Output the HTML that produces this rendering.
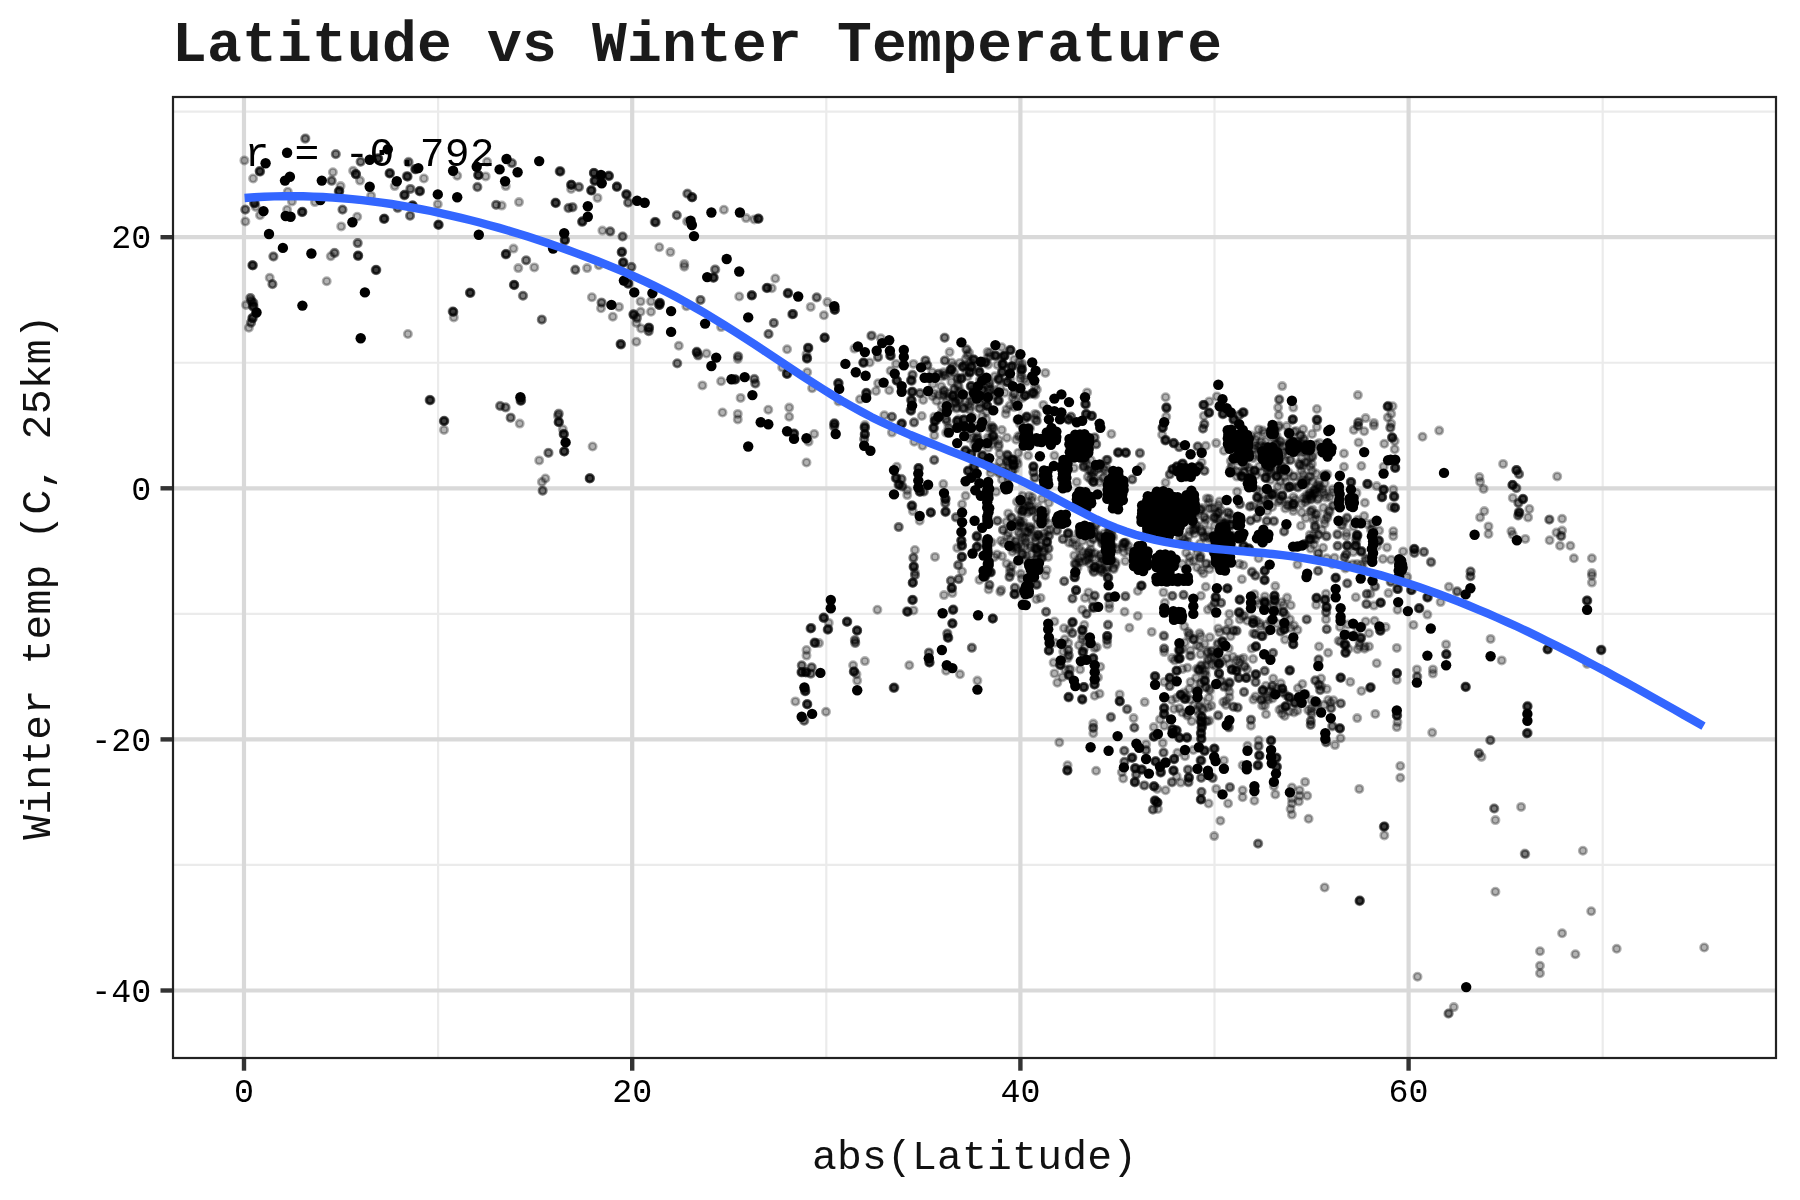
<!DOCTYPE html><html><head><meta charset="utf-8"><style>html,body{margin:0;padding:0;background:#fff;width:1800px;height:1200px;overflow:hidden}svg{display:block}text{font-family:"Liberation Mono",monospace;filter:grayscale(1)}</style></head><body>
<svg width="1800" height="1200" viewBox="0 0 1800 1200">
<rect x="0" y="0" width="1800" height="1200" fill="#fff"/>
<defs><clipPath id="pc"><rect x="172" y="96" width="1605" height="963"/></clipPath></defs>
<g clip-path="url(#pc)">
<line x1="438.10" y1="96" x2="438.10" y2="1059" stroke="#ebebeb" stroke-width="2.2"/>
<line x1="826.30" y1="96" x2="826.30" y2="1059" stroke="#ebebeb" stroke-width="2.2"/>
<line x1="1214.50" y1="96" x2="1214.50" y2="1059" stroke="#ebebeb" stroke-width="2.2"/>
<line x1="1602.70" y1="96" x2="1602.70" y2="1059" stroke="#ebebeb" stroke-width="2.2"/>
<line x1="172" y1="111.65" x2="1777" y2="111.65" stroke="#ebebeb" stroke-width="2.2"/>
<line x1="172" y1="362.75" x2="1777" y2="362.75" stroke="#ebebeb" stroke-width="2.2"/>
<line x1="172" y1="613.85" x2="1777" y2="613.85" stroke="#ebebeb" stroke-width="2.2"/>
<line x1="172" y1="864.95" x2="1777" y2="864.95" stroke="#ebebeb" stroke-width="2.2"/>
<line x1="244.00" y1="96" x2="244.00" y2="1059" stroke="#d9d9d9" stroke-width="4.2"/>
<line x1="632.20" y1="96" x2="632.20" y2="1059" stroke="#d9d9d9" stroke-width="4.2"/>
<line x1="1020.40" y1="96" x2="1020.40" y2="1059" stroke="#d9d9d9" stroke-width="4.2"/>
<line x1="1408.60" y1="96" x2="1408.60" y2="1059" stroke="#d9d9d9" stroke-width="4.2"/>
<line x1="172" y1="237.20" x2="1777" y2="237.20" stroke="#d9d9d9" stroke-width="4.2"/>
<line x1="172" y1="488.30" x2="1777" y2="488.30" stroke="#d9d9d9" stroke-width="4.2"/>
<line x1="172" y1="739.40" x2="1777" y2="739.40" stroke="#d9d9d9" stroke-width="4.2"/>
<line x1="172" y1="990.50" x2="1777" y2="990.50" stroke="#d9d9d9" stroke-width="4.2"/>
<text x="244.5" y="166.3" font-size="41.3" letter-spacing="0.24" fill="#000">r = -0.792</text>
<g fill="#000" fill-opacity="0.3" stroke="#000" stroke-opacity="0.3" stroke-width="2.6">
<circle cx="965.6" cy="365.1" r="3.7"/>
<circle cx="1001.6" cy="357.2" r="3.7"/>
<circle cx="988.9" cy="386.6" r="3.7"/>
<circle cx="936.4" cy="400.7" r="3.7"/>
<circle cx="934.1" cy="393.4" r="3.7"/>
<circle cx="976.7" cy="432.7" r="3.7"/>
<circle cx="943.6" cy="372.3" r="3.7"/>
<circle cx="999.0" cy="444.8" r="3.7"/>
<circle cx="993.5" cy="389.7" r="3.7"/>
<circle cx="1024.4" cy="379.0" r="3.7"/>
<circle cx="963.9" cy="431.6" r="3.7"/>
<circle cx="949.9" cy="408.2" r="3.7"/>
<circle cx="1000.3" cy="387.2" r="3.7"/>
<circle cx="990.3" cy="356.3" r="3.7"/>
<circle cx="1004.8" cy="392.8" r="3.7"/>
<circle cx="964.6" cy="408.6" r="3.7"/>
<circle cx="979.9" cy="380.0" r="3.7"/>
<circle cx="1017.4" cy="419.9" r="3.7"/>
<circle cx="956.9" cy="407.4" r="3.7"/>
<circle cx="987.8" cy="437.5" r="3.7"/>
<circle cx="1010.2" cy="378.8" r="3.7"/>
<circle cx="976.0" cy="425.7" r="3.7"/>
<circle cx="946.7" cy="398.9" r="3.7"/>
<circle cx="934.3" cy="416.8" r="3.7"/>
<circle cx="1014.1" cy="407.3" r="3.7"/>
<circle cx="1026.3" cy="381.4" r="3.7"/>
<circle cx="1006.5" cy="409.4" r="3.7"/>
<circle cx="993.8" cy="395.6" r="3.7"/>
<circle cx="982.2" cy="416.4" r="3.7"/>
<circle cx="936.7" cy="420.1" r="3.7"/>
<circle cx="1020.4" cy="378.5" r="3.7"/>
<circle cx="972.4" cy="416.9" r="3.7"/>
<circle cx="932.5" cy="396.2" r="3.7"/>
<circle cx="944.2" cy="374.8" r="3.7"/>
<circle cx="973.0" cy="437.1" r="3.7"/>
<circle cx="938.9" cy="394.9" r="3.7"/>
<circle cx="990.4" cy="438.3" r="3.7"/>
<circle cx="1020.1" cy="436.4" r="3.7"/>
<circle cx="960.6" cy="391.5" r="3.7"/>
<circle cx="969.5" cy="438.4" r="3.7"/>
<circle cx="949.4" cy="373.2" r="3.7"/>
<circle cx="955.7" cy="398.5" r="3.7"/>
<circle cx="994.8" cy="376.3" r="3.7"/>
<circle cx="970.6" cy="406.6" r="3.7"/>
<circle cx="1034.8" cy="419.0" r="3.7"/>
<circle cx="986.7" cy="411.8" r="3.7"/>
<circle cx="1004.4" cy="355.4" r="3.7"/>
<circle cx="1028.9" cy="428.0" r="3.7"/>
<circle cx="1026.2" cy="429.8" r="3.7"/>
<circle cx="973.2" cy="389.9" r="3.7"/>
<circle cx="941.4" cy="413.4" r="3.7"/>
<circle cx="953.0" cy="366.2" r="3.7"/>
<circle cx="967.4" cy="355.3" r="3.7"/>
<circle cx="941.2" cy="386.4" r="3.7"/>
<circle cx="997.5" cy="364.9" r="3.7"/>
<circle cx="957.7" cy="384.7" r="3.7"/>
<circle cx="970.1" cy="362.3" r="3.7"/>
<circle cx="981.3" cy="398.4" r="3.7"/>
<circle cx="967.7" cy="376.5" r="3.7"/>
<circle cx="1021.2" cy="366.1" r="3.7"/>
<circle cx="988.1" cy="364.7" r="3.7"/>
<circle cx="989.7" cy="352.7" r="3.7"/>
<circle cx="988.1" cy="447.9" r="3.7"/>
<circle cx="1025.0" cy="419.6" r="3.7"/>
<circle cx="958.7" cy="386.7" r="3.7"/>
<circle cx="948.4" cy="427.2" r="3.7"/>
<circle cx="988.6" cy="427.9" r="3.7"/>
<circle cx="966.3" cy="372.3" r="3.7"/>
<circle cx="1023.8" cy="430.6" r="3.7"/>
<circle cx="1020.0" cy="424.0" r="3.7"/>
<circle cx="954.9" cy="401.8" r="3.7"/>
<circle cx="969.1" cy="352.9" r="3.7"/>
<circle cx="958.5" cy="419.3" r="3.7"/>
<circle cx="1035.2" cy="394.7" r="3.7"/>
<circle cx="1035.1" cy="386.5" r="3.7"/>
<circle cx="954.3" cy="372.7" r="3.7"/>
<circle cx="951.6" cy="370.4" r="3.7"/>
<circle cx="998.6" cy="440.0" r="3.7"/>
<circle cx="1022.4" cy="397.9" r="3.7"/>
<circle cx="1001.8" cy="430.0" r="3.7"/>
<circle cx="939.3" cy="416.1" r="3.7"/>
<circle cx="1030.1" cy="428.2" r="3.7"/>
<circle cx="1012.5" cy="397.8" r="3.7"/>
<circle cx="949.6" cy="428.9" r="3.7"/>
<circle cx="966.6" cy="430.1" r="3.7"/>
<circle cx="1036.9" cy="389.6" r="3.7"/>
<circle cx="974.2" cy="444.7" r="3.7"/>
<circle cx="1009.7" cy="367.0" r="3.7"/>
<circle cx="946.1" cy="432.7" r="3.7"/>
<circle cx="968.5" cy="404.9" r="3.7"/>
<circle cx="1036.8" cy="415.0" r="3.7"/>
<circle cx="987.9" cy="443.4" r="3.7"/>
<circle cx="977.7" cy="437.2" r="3.7"/>
<circle cx="1020.9" cy="371.1" r="3.7"/>
<circle cx="957.7" cy="379.3" r="3.7"/>
<circle cx="956.5" cy="408.6" r="3.7"/>
<circle cx="958.5" cy="391.9" r="3.7"/>
<circle cx="968.9" cy="395.8" r="3.7"/>
<circle cx="994.2" cy="440.4" r="3.7"/>
<circle cx="976.3" cy="441.8" r="3.7"/>
<circle cx="985.2" cy="403.2" r="3.7"/>
<circle cx="987.6" cy="351.9" r="3.7"/>
<circle cx="978.4" cy="368.3" r="3.7"/>
<circle cx="949.0" cy="397.3" r="3.7"/>
<circle cx="1009.8" cy="405.6" r="3.7"/>
<circle cx="965.9" cy="401.8" r="3.7"/>
<circle cx="991.1" cy="428.4" r="3.7"/>
<circle cx="941.7" cy="406.0" r="3.7"/>
<circle cx="957.3" cy="377.7" r="3.7"/>
<circle cx="1014.9" cy="400.8" r="3.7"/>
<circle cx="991.8" cy="426.0" r="3.7"/>
<circle cx="1030.4" cy="394.3" r="3.7"/>
<circle cx="997.4" cy="400.6" r="3.7"/>
<circle cx="986.3" cy="419.3" r="3.7"/>
<circle cx="979.8" cy="403.3" r="3.7"/>
<circle cx="982.6" cy="444.2" r="3.7"/>
<circle cx="1006.9" cy="437.7" r="3.7"/>
<circle cx="991.5" cy="444.3" r="3.7"/>
<circle cx="1022.4" cy="363.7" r="3.7"/>
<circle cx="943.4" cy="394.2" r="3.7"/>
<circle cx="938.0" cy="374.1" r="3.7"/>
<circle cx="938.0" cy="416.9" r="3.7"/>
<circle cx="1016.2" cy="439.7" r="3.7"/>
<circle cx="947.0" cy="421.6" r="3.7"/>
<circle cx="1002.6" cy="364.3" r="3.7"/>
<circle cx="973.8" cy="398.7" r="3.7"/>
<circle cx="947.8" cy="393.2" r="3.7"/>
<circle cx="986.7" cy="383.9" r="3.7"/>
<circle cx="951.5" cy="381.9" r="3.7"/>
<circle cx="990.9" cy="394.0" r="3.7"/>
<circle cx="998.6" cy="401.2" r="3.7"/>
<circle cx="941.5" cy="376.6" r="3.7"/>
<circle cx="959.7" cy="363.0" r="3.7"/>
<circle cx="1272.2" cy="507.0" r="3.7"/>
<circle cx="1311.9" cy="448.3" r="3.7"/>
<circle cx="1287.1" cy="488.0" r="3.7"/>
<circle cx="1298.8" cy="463.3" r="3.7"/>
<circle cx="1293.4" cy="497.1" r="3.7"/>
<circle cx="1275.4" cy="455.5" r="3.7"/>
<circle cx="1285.3" cy="508.4" r="3.7"/>
<circle cx="1256.8" cy="436.6" r="3.7"/>
<circle cx="1282.7" cy="446.5" r="3.7"/>
<circle cx="1261.2" cy="452.5" r="3.7"/>
<circle cx="1305.9" cy="451.1" r="3.7"/>
<circle cx="1280.0" cy="441.0" r="3.7"/>
<circle cx="1303.3" cy="474.6" r="3.7"/>
<circle cx="1248.9" cy="467.7" r="3.7"/>
<circle cx="1311.9" cy="463.9" r="3.7"/>
<circle cx="1279.5" cy="500.1" r="3.7"/>
<circle cx="1269.3" cy="470.6" r="3.7"/>
<circle cx="1264.3" cy="499.9" r="3.7"/>
<circle cx="1300.7" cy="482.2" r="3.7"/>
<circle cx="1270.5" cy="456.3" r="3.7"/>
<circle cx="1237.1" cy="491.7" r="3.7"/>
<circle cx="1255.6" cy="439.7" r="3.7"/>
<circle cx="1317.1" cy="485.3" r="3.7"/>
<circle cx="1258.2" cy="446.8" r="3.7"/>
<circle cx="1259.3" cy="466.4" r="3.7"/>
<circle cx="1245.8" cy="465.1" r="3.7"/>
<circle cx="1327.3" cy="474.2" r="3.7"/>
<circle cx="1261.0" cy="457.1" r="3.7"/>
<circle cx="1277.5" cy="470.2" r="3.7"/>
<circle cx="1250.1" cy="470.4" r="3.7"/>
<circle cx="1239.0" cy="461.0" r="3.7"/>
<circle cx="1260.4" cy="446.0" r="3.7"/>
<circle cx="1288.6" cy="472.6" r="3.7"/>
<circle cx="1305.1" cy="484.2" r="3.7"/>
<circle cx="1301.6" cy="504.1" r="3.7"/>
<circle cx="1269.0" cy="454.4" r="3.7"/>
<circle cx="1302.4" cy="482.9" r="3.7"/>
<circle cx="1319.2" cy="481.5" r="3.7"/>
<circle cx="1303.4" cy="498.1" r="3.7"/>
<circle cx="1243.9" cy="472.1" r="3.7"/>
<circle cx="1280.4" cy="500.1" r="3.7"/>
<circle cx="1310.5" cy="499.4" r="3.7"/>
<circle cx="1288.4" cy="505.4" r="3.7"/>
<circle cx="1298.3" cy="487.4" r="3.7"/>
<circle cx="1243.3" cy="457.5" r="3.7"/>
<circle cx="1285.9" cy="481.5" r="3.7"/>
<circle cx="1292.6" cy="486.3" r="3.7"/>
<circle cx="1278.9" cy="425.3" r="3.7"/>
<circle cx="1309.8" cy="492.3" r="3.7"/>
<circle cx="1280.3" cy="473.2" r="3.7"/>
<circle cx="1295.9" cy="430.9" r="3.7"/>
<circle cx="1303.7" cy="447.7" r="3.7"/>
<circle cx="1237.4" cy="448.9" r="3.7"/>
<circle cx="1302.9" cy="443.5" r="3.7"/>
<circle cx="1279.4" cy="459.4" r="3.7"/>
<circle cx="1277.9" cy="486.5" r="3.7"/>
<circle cx="1306.7" cy="480.5" r="3.7"/>
<circle cx="1294.3" cy="432.0" r="3.7"/>
<circle cx="1244.7" cy="447.9" r="3.7"/>
<circle cx="1304.3" cy="452.4" r="3.7"/>
<circle cx="1286.8" cy="426.1" r="3.7"/>
<circle cx="1236.1" cy="449.2" r="3.7"/>
<circle cx="1297.2" cy="487.3" r="3.7"/>
<circle cx="1297.6" cy="451.2" r="3.7"/>
<circle cx="1281.7" cy="466.8" r="3.7"/>
<circle cx="1276.6" cy="435.7" r="3.7"/>
<circle cx="1319.4" cy="442.9" r="3.7"/>
<circle cx="1231.8" cy="466.3" r="3.7"/>
<circle cx="1274.9" cy="449.2" r="3.7"/>
<circle cx="1251.1" cy="477.3" r="3.7"/>
<circle cx="1244.2" cy="472.2" r="3.7"/>
<circle cx="1312.0" cy="470.8" r="3.7"/>
<circle cx="1318.7" cy="488.3" r="3.7"/>
<circle cx="1253.1" cy="505.8" r="3.7"/>
<circle cx="1278.6" cy="427.2" r="3.7"/>
<circle cx="1230.4" cy="469.3" r="3.7"/>
<circle cx="1275.1" cy="452.2" r="3.7"/>
<circle cx="1244.1" cy="456.0" r="3.7"/>
<circle cx="1261.6" cy="500.6" r="3.7"/>
<circle cx="1322.6" cy="489.2" r="3.7"/>
<circle cx="1320.2" cy="451.1" r="3.7"/>
<circle cx="1267.2" cy="460.4" r="3.7"/>
<circle cx="1266.1" cy="463.5" r="3.7"/>
<circle cx="1258.6" cy="509.2" r="3.7"/>
<circle cx="1254.9" cy="448.9" r="3.7"/>
<circle cx="1281.1" cy="442.1" r="3.7"/>
<circle cx="1267.3" cy="511.1" r="3.7"/>
<circle cx="1318.4" cy="498.1" r="3.7"/>
<circle cx="1293.1" cy="507.2" r="3.7"/>
<circle cx="1324.1" cy="474.4" r="3.7"/>
<circle cx="1303.2" cy="465.6" r="3.7"/>
<circle cx="1305.3" cy="483.0" r="3.7"/>
<circle cx="1258.6" cy="429.4" r="3.7"/>
<circle cx="1277.2" cy="455.9" r="3.7"/>
<circle cx="1259.8" cy="491.5" r="3.7"/>
<circle cx="1295.6" cy="452.1" r="3.7"/>
<circle cx="1285.7" cy="460.5" r="3.7"/>
<circle cx="1246.7" cy="439.5" r="3.7"/>
<circle cx="1279.7" cy="444.8" r="3.7"/>
<circle cx="1275.0" cy="437.6" r="3.7"/>
<circle cx="1264.2" cy="433.2" r="3.7"/>
<circle cx="1253.9" cy="448.3" r="3.7"/>
<circle cx="1287.0" cy="504.9" r="3.7"/>
<circle cx="1305.0" cy="462.2" r="3.7"/>
<circle cx="1271.4" cy="472.2" r="3.7"/>
<circle cx="1267.7" cy="455.4" r="3.7"/>
<circle cx="1236.2" cy="450.0" r="3.7"/>
<circle cx="1280.3" cy="481.7" r="3.7"/>
<circle cx="1316.3" cy="444.4" r="3.7"/>
<circle cx="991.7" cy="542.4" r="3.7"/>
<circle cx="1002.0" cy="556.2" r="3.7"/>
<circle cx="1041.7" cy="558.1" r="3.7"/>
<circle cx="1001.3" cy="589.9" r="3.7"/>
<circle cx="1036.0" cy="584.9" r="3.7"/>
<circle cx="1011.8" cy="572.7" r="3.7"/>
<circle cx="1045.3" cy="575.5" r="3.7"/>
<circle cx="1021.8" cy="578.5" r="3.7"/>
<circle cx="1006.6" cy="563.6" r="3.7"/>
<circle cx="988.6" cy="589.4" r="3.7"/>
<circle cx="1021.6" cy="546.3" r="3.7"/>
<circle cx="980.2" cy="542.6" r="3.7"/>
<circle cx="1020.9" cy="573.9" r="3.7"/>
<circle cx="1012.0" cy="565.8" r="3.7"/>
<circle cx="1001.0" cy="540.7" r="3.7"/>
<circle cx="1018.1" cy="525.7" r="3.7"/>
<circle cx="994.1" cy="557.2" r="3.7"/>
<circle cx="1046.7" cy="570.1" r="3.7"/>
<circle cx="1040.7" cy="558.3" r="3.7"/>
<circle cx="988.8" cy="542.3" r="3.7"/>
<circle cx="1009.9" cy="572.2" r="3.7"/>
<circle cx="1003.6" cy="543.0" r="3.7"/>
<circle cx="1023.4" cy="589.8" r="3.7"/>
<circle cx="997.0" cy="554.4" r="3.7"/>
<circle cx="1024.6" cy="538.9" r="3.7"/>
<circle cx="1033.8" cy="576.7" r="3.7"/>
<circle cx="1010.4" cy="539.4" r="3.7"/>
<circle cx="1035.6" cy="541.2" r="3.7"/>
<circle cx="1282.2" cy="386.1" r="3.7"/>
<circle cx="1279.4" cy="399.3" r="3.7"/>
<circle cx="1279.0" cy="399.7" r="3.7"/>
<circle cx="1278.1" cy="407.6" r="3.7"/>
<circle cx="1278.8" cy="415.3" r="3.7"/>
<circle cx="1293.3" cy="407.6" r="3.7"/>
<circle cx="1292.6" cy="419.4" r="3.7"/>
<circle cx="1293.0" cy="419.2" r="3.7"/>
<circle cx="1292.6" cy="419.4" r="3.7"/>
<circle cx="1292.8" cy="419.8" r="3.7"/>
<circle cx="1316.9" cy="409.0" r="3.7"/>
<circle cx="1316.9" cy="420.1" r="3.7"/>
<circle cx="1316.5" cy="419.6" r="3.7"/>
<circle cx="1317.3" cy="420.1" r="3.7"/>
<circle cx="1317.3" cy="419.5" r="3.7"/>
<circle cx="1357.9" cy="395.1" r="3.7"/>
<circle cx="1387.8" cy="406.2" r="3.7"/>
<circle cx="1387.7" cy="406.5" r="3.7"/>
<circle cx="1387.5" cy="406.8" r="3.7"/>
<circle cx="1388.3" cy="405.7" r="3.7"/>
<circle cx="1392.6" cy="406.2" r="3.7"/>
<circle cx="1391.2" cy="413.9" r="3.7"/>
<circle cx="1387.8" cy="417.4" r="3.7"/>
<circle cx="1365.6" cy="418.1" r="3.7"/>
<circle cx="1358.6" cy="422.2" r="3.7"/>
<circle cx="1358.0" cy="422.3" r="3.7"/>
<circle cx="1373.9" cy="422.9" r="3.7"/>
<circle cx="1391.2" cy="423.6" r="3.7"/>
<circle cx="1243.3" cy="412.5" r="3.7"/>
<circle cx="1243.9" cy="412.4" r="3.7"/>
<circle cx="1243.0" cy="412.4" r="3.7"/>
<circle cx="1242.8" cy="412.2" r="3.7"/>
<circle cx="1239.2" cy="415.3" r="3.7"/>
<circle cx="1239.1" cy="415.3" r="3.7"/>
<circle cx="1311.2" cy="511.6" r="3.7"/>
<circle cx="1313.5" cy="520.1" r="3.7"/>
<circle cx="1319.6" cy="486.1" r="3.7"/>
<circle cx="1311.3" cy="496.3" r="3.7"/>
<circle cx="1324.8" cy="519.9" r="3.7"/>
<circle cx="1308.9" cy="495.3" r="3.7"/>
<circle cx="1306.3" cy="495.3" r="3.7"/>
<circle cx="1332.9" cy="492.4" r="3.7"/>
<circle cx="1324.7" cy="494.6" r="3.7"/>
<circle cx="1315.9" cy="492.5" r="3.7"/>
<circle cx="1313.0" cy="493.4" r="3.7"/>
<circle cx="1315.3" cy="514.3" r="3.7"/>
<circle cx="1329.6" cy="497.0" r="3.7"/>
<circle cx="1305.9" cy="498.8" r="3.7"/>
<circle cx="1315.8" cy="518.6" r="3.7"/>
<circle cx="1310.3" cy="494.0" r="3.7"/>
<circle cx="1317.0" cy="513.9" r="3.7"/>
<circle cx="1332.6" cy="489.2" r="3.7"/>
<circle cx="1327.3" cy="517.7" r="3.7"/>
<circle cx="1314.8" cy="489.9" r="3.7"/>
<circle cx="1333.7" cy="505.2" r="3.7"/>
<circle cx="1312.5" cy="509.6" r="3.7"/>
<circle cx="1314.1" cy="490.0" r="3.7"/>
<circle cx="1332.4" cy="506.0" r="3.7"/>
<circle cx="1311.6" cy="498.9" r="3.7"/>
<circle cx="1316.3" cy="488.9" r="3.7"/>
<circle cx="1317.6" cy="499.7" r="3.7"/>
<circle cx="1329.0" cy="510.6" r="3.7"/>
<circle cx="1329.6" cy="512.1" r="3.7"/>
<circle cx="1323.0" cy="492.3" r="3.7"/>
<circle cx="1314.2" cy="493.9" r="3.7"/>
<circle cx="1310.5" cy="511.2" r="3.7"/>
<circle cx="1305.5" cy="502.3" r="3.7"/>
<circle cx="1312.5" cy="481.5" r="3.7"/>
<circle cx="1307.4" cy="499.9" r="3.7"/>
<circle cx="1326.1" cy="497.6" r="3.7"/>
<circle cx="1311.6" cy="496.3" r="3.7"/>
<circle cx="1323.4" cy="507.7" r="3.7"/>
<circle cx="1327.3" cy="515.4" r="3.7"/>
<circle cx="1324.7" cy="483.2" r="3.7"/>
<circle cx="1395.4" cy="468.1" r="3.7"/>
<circle cx="1395.1" cy="467.7" r="3.7"/>
<circle cx="1395.1" cy="468.0" r="3.7"/>
<circle cx="1395.2" cy="467.5" r="3.7"/>
<circle cx="1391.9" cy="437.5" r="3.7"/>
<circle cx="1392.3" cy="437.6" r="3.7"/>
<circle cx="1392.1" cy="437.1" r="3.7"/>
<circle cx="1392.5" cy="437.9" r="3.7"/>
<circle cx="1390.6" cy="427.8" r="3.7"/>
<circle cx="1390.1" cy="427.6" r="3.7"/>
<circle cx="1394.7" cy="449.3" r="3.7"/>
<circle cx="1384.3" cy="443.8" r="3.7"/>
<circle cx="1394.7" cy="441.0" r="3.7"/>
<circle cx="1383.6" cy="466.7" r="3.7"/>
<circle cx="1358.6" cy="442.4" r="3.7"/>
<circle cx="1353.8" cy="429.9" r="3.7"/>
<circle cx="1364.2" cy="431.2" r="3.7"/>
<circle cx="1373.9" cy="425.7" r="3.7"/>
<circle cx="1357.9" cy="425.7" r="3.7"/>
<circle cx="1358.2" cy="425.9" r="3.7"/>
<circle cx="1344.0" cy="453.5" r="3.7"/>
<circle cx="1344.0" cy="466.7" r="3.7"/>
<circle cx="1361.4" cy="466.0" r="3.7"/>
<circle cx="1312.1" cy="434.0" r="3.7"/>
<circle cx="1316.9" cy="427.1" r="3.7"/>
<circle cx="1300.3" cy="435.4" r="3.7"/>
<circle cx="1300.8" cy="435.3" r="3.7"/>
<circle cx="1303.1" cy="429.2" r="3.7"/>
<circle cx="1264.9" cy="446.5" r="3.7"/>
<circle cx="1265.3" cy="446.7" r="3.7"/>
<circle cx="1262.8" cy="430.6" r="3.7"/>
<circle cx="1422.5" cy="436.8" r="3.7"/>
<circle cx="1439.2" cy="430.6" r="3.7"/>
<circle cx="1479.4" cy="477.1" r="3.7"/>
<circle cx="1480.1" cy="481.9" r="3.7"/>
<circle cx="1483.6" cy="488.9" r="3.7"/>
<circle cx="1351.0" cy="481.9" r="3.7"/>
<circle cx="1350.7" cy="482.0" r="3.7"/>
<circle cx="1351.4" cy="482.4" r="3.7"/>
<circle cx="1351.0" cy="482.1" r="3.7"/>
<circle cx="1367.6" cy="484.0" r="3.7"/>
<circle cx="1367.1" cy="483.7" r="3.7"/>
<circle cx="1368.0" cy="483.9" r="3.7"/>
<circle cx="1367.2" cy="484.1" r="3.7"/>
<circle cx="1376.7" cy="486.1" r="3.7"/>
<circle cx="1356.5" cy="493.1" r="3.7"/>
<circle cx="1383.6" cy="489.6" r="3.7"/>
<circle cx="1383.9" cy="489.8" r="3.7"/>
<circle cx="1383.5" cy="489.5" r="3.7"/>
<circle cx="1383.6" cy="489.9" r="3.7"/>
<circle cx="1382.2" cy="497.2" r="3.7"/>
<circle cx="1382.2" cy="497.1" r="3.7"/>
<circle cx="1382.2" cy="496.7" r="3.7"/>
<circle cx="1381.7" cy="497.5" r="3.7"/>
<circle cx="1394.0" cy="496.5" r="3.7"/>
<circle cx="1394.6" cy="496.6" r="3.7"/>
<circle cx="1393.9" cy="496.1" r="3.7"/>
<circle cx="1394.0" cy="497.1" r="3.7"/>
<circle cx="1394.7" cy="507.6" r="3.7"/>
<circle cx="1395.0" cy="507.7" r="3.7"/>
<circle cx="1395.2" cy="507.3" r="3.7"/>
<circle cx="1394.7" cy="508.2" r="3.7"/>
<circle cx="1391.2" cy="506.9" r="3.7"/>
<circle cx="1393.3" cy="489.6" r="3.7"/>
<circle cx="1364.9" cy="502.8" r="3.7"/>
<circle cx="1293.3" cy="504.2" r="3.7"/>
<circle cx="1293.4" cy="504.1" r="3.7"/>
<circle cx="1293.1" cy="504.2" r="3.7"/>
<circle cx="1293.9" cy="503.6" r="3.7"/>
<circle cx="1289.2" cy="486.8" r="3.7"/>
<circle cx="1289.5" cy="487.2" r="3.7"/>
<circle cx="1289.6" cy="487.1" r="3.7"/>
<circle cx="1289.5" cy="486.8" r="3.7"/>
<circle cx="1294.0" cy="476.4" r="3.7"/>
<circle cx="1239.9" cy="504.2" r="3.7"/>
<circle cx="1239.9" cy="504.1" r="3.7"/>
<circle cx="1250.3" cy="506.2" r="3.7"/>
<circle cx="1249.7" cy="506.7" r="3.7"/>
<circle cx="1282.2" cy="495.8" r="3.7"/>
<circle cx="1282.3" cy="495.5" r="3.7"/>
<circle cx="1282.2" cy="495.8" r="3.7"/>
<circle cx="1282.1" cy="495.6" r="3.7"/>
<circle cx="1272.5" cy="494.4" r="3.7"/>
<circle cx="1272.5" cy="494.6" r="3.7"/>
<circle cx="1272.6" cy="494.4" r="3.7"/>
<circle cx="1271.9" cy="494.1" r="3.7"/>
<circle cx="1257.2" cy="497.2" r="3.7"/>
<circle cx="1256.8" cy="497.3" r="3.7"/>
<circle cx="1257.7" cy="497.6" r="3.7"/>
<circle cx="1257.6" cy="497.6" r="3.7"/>
<circle cx="1284.3" cy="531.2" r="3.7"/>
<circle cx="1284.0" cy="531.7" r="3.7"/>
<circle cx="1301.0" cy="525.7" r="3.7"/>
<circle cx="1314.9" cy="526.4" r="3.7"/>
<circle cx="1315.1" cy="525.9" r="3.7"/>
<circle cx="1305.8" cy="518.1" r="3.7"/>
<circle cx="1293.3" cy="511.1" r="3.7"/>
<circle cx="1301.7" cy="512.5" r="3.7"/>
<circle cx="1364.2" cy="516.0" r="3.7"/>
<circle cx="1357.2" cy="535.4" r="3.7"/>
<circle cx="1356.6" cy="534.8" r="3.7"/>
<circle cx="1357.5" cy="535.1" r="3.7"/>
<circle cx="1356.8" cy="535.6" r="3.7"/>
<circle cx="1347.5" cy="545.8" r="3.7"/>
<circle cx="1347.3" cy="545.3" r="3.7"/>
<circle cx="1347.1" cy="545.9" r="3.7"/>
<circle cx="1347.1" cy="545.6" r="3.7"/>
<circle cx="1355.8" cy="545.8" r="3.7"/>
<circle cx="1356.1" cy="545.8" r="3.7"/>
<circle cx="1355.6" cy="545.8" r="3.7"/>
<circle cx="1355.3" cy="545.7" r="3.7"/>
<circle cx="1361.4" cy="551.4" r="3.7"/>
<circle cx="1361.3" cy="551.0" r="3.7"/>
<circle cx="1360.9" cy="551.9" r="3.7"/>
<circle cx="1361.4" cy="551.0" r="3.7"/>
<circle cx="1346.1" cy="554.2" r="3.7"/>
<circle cx="1346.2" cy="554.5" r="3.7"/>
<circle cx="1337.8" cy="534.7" r="3.7"/>
<circle cx="1337.2" cy="534.1" r="3.7"/>
<circle cx="1337.8" cy="545.8" r="3.7"/>
<circle cx="1337.4" cy="546.1" r="3.7"/>
<circle cx="1326.7" cy="536.1" r="3.7"/>
<circle cx="1326.3" cy="536.4" r="3.7"/>
<circle cx="1318.3" cy="534.7" r="3.7"/>
<circle cx="1318.5" cy="534.8" r="3.7"/>
<circle cx="1310.0" cy="538.9" r="3.7"/>
<circle cx="1309.7" cy="539.5" r="3.7"/>
<circle cx="1310.4" cy="538.9" r="3.7"/>
<circle cx="1309.7" cy="539.1" r="3.7"/>
<circle cx="1304.4" cy="544.4" r="3.7"/>
<circle cx="1304.3" cy="544.5" r="3.7"/>
<circle cx="1304.2" cy="544.6" r="3.7"/>
<circle cx="1303.9" cy="544.2" r="3.7"/>
<circle cx="1310.7" cy="548.6" r="3.7"/>
<circle cx="1393.3" cy="531.2" r="3.7"/>
<circle cx="1393.3" cy="536.1" r="3.7"/>
<circle cx="1378.8" cy="540.3" r="3.7"/>
<circle cx="1379.3" cy="540.7" r="3.7"/>
<circle cx="1378.5" cy="540.7" r="3.7"/>
<circle cx="1378.5" cy="540.8" r="3.7"/>
<circle cx="1382.9" cy="559.0" r="3.7"/>
<circle cx="1391.2" cy="559.7" r="3.7"/>
<circle cx="1403.1" cy="551.4" r="3.7"/>
<circle cx="1414.2" cy="549.3" r="3.7"/>
<circle cx="1414.5" cy="549.2" r="3.7"/>
<circle cx="1413.9" cy="548.7" r="3.7"/>
<circle cx="1414.6" cy="548.8" r="3.7"/>
<circle cx="1414.2" cy="552.8" r="3.7"/>
<circle cx="1414.5" cy="553.3" r="3.7"/>
<circle cx="1423.9" cy="552.1" r="3.7"/>
<circle cx="1424.0" cy="551.7" r="3.7"/>
<circle cx="1430.8" cy="561.8" r="3.7"/>
<circle cx="1431.3" cy="562.4" r="3.7"/>
<circle cx="1480.1" cy="517.4" r="3.7"/>
<circle cx="1484.3" cy="511.1" r="3.7"/>
<circle cx="1470.4" cy="571.5" r="3.7"/>
<circle cx="1470.7" cy="571.5" r="3.7"/>
<circle cx="1264.9" cy="570.8" r="3.7"/>
<circle cx="1264.7" cy="570.6" r="3.7"/>
<circle cx="1264.5" cy="571.0" r="3.7"/>
<circle cx="1264.8" cy="570.5" r="3.7"/>
<circle cx="1318.3" cy="570.8" r="3.7"/>
<circle cx="1317.9" cy="571.0" r="3.7"/>
<circle cx="1297.5" cy="564.6" r="3.7"/>
<circle cx="1318.3" cy="553.5" r="3.7"/>
<circle cx="1318.1" cy="553.5" r="3.7"/>
<circle cx="1326.7" cy="558.3" r="3.7"/>
<circle cx="1332.2" cy="563.9" r="3.7"/>
<circle cx="1344.7" cy="556.9" r="3.7"/>
<circle cx="1344.5" cy="557.4" r="3.7"/>
<circle cx="1357.2" cy="563.9" r="3.7"/>
<circle cx="1362.8" cy="568.1" r="3.7"/>
<circle cx="1239.2" cy="563.9" r="3.7"/>
<circle cx="1243.3" cy="565.3" r="3.7"/>
<circle cx="1251.7" cy="572.2" r="3.7"/>
<circle cx="1252.1" cy="571.6" r="3.7"/>
<circle cx="1258.6" cy="558.3" r="3.7"/>
<circle cx="1248.9" cy="548.6" r="3.7"/>
<circle cx="1248.5" cy="548.4" r="3.7"/>
<circle cx="1249.5" cy="549.0" r="3.7"/>
<circle cx="1248.7" cy="548.3" r="3.7"/>
<circle cx="1243.3" cy="545.8" r="3.7"/>
<circle cx="1243.5" cy="546.2" r="3.7"/>
<circle cx="1243.9" cy="545.6" r="3.7"/>
<circle cx="1243.8" cy="546.1" r="3.7"/>
<circle cx="1273.9" cy="520.8" r="3.7"/>
<circle cx="1273.9" cy="521.4" r="3.7"/>
<circle cx="1266.9" cy="520.8" r="3.7"/>
<circle cx="1266.6" cy="521.1" r="3.7"/>
<circle cx="1257.2" cy="518.1" r="3.7"/>
<circle cx="1256.7" cy="517.7" r="3.7"/>
<circle cx="1250.3" cy="520.8" r="3.7"/>
<circle cx="1250.8" cy="520.5" r="3.7"/>
<circle cx="1276.7" cy="476.4" r="3.7"/>
<circle cx="1277.0" cy="476.5" r="3.7"/>
<circle cx="1277.1" cy="476.2" r="3.7"/>
<circle cx="1276.5" cy="476.1" r="3.7"/>
<circle cx="1265.6" cy="477.8" r="3.7"/>
<circle cx="1266.0" cy="477.9" r="3.7"/>
<circle cx="1266.1" cy="478.2" r="3.7"/>
<circle cx="1265.1" cy="477.8" r="3.7"/>
<circle cx="1241.9" cy="476.4" r="3.7"/>
<circle cx="1241.5" cy="475.8" r="3.7"/>
<circle cx="1241.4" cy="476.8" r="3.7"/>
<circle cx="1242.3" cy="476.8" r="3.7"/>
<circle cx="1254.4" cy="470.8" r="3.7"/>
<circle cx="1254.3" cy="471.0" r="3.7"/>
<circle cx="1254.8" cy="470.7" r="3.7"/>
<circle cx="1254.5" cy="470.5" r="3.7"/>
<circle cx="1269.7" cy="466.7" r="3.7"/>
<circle cx="1269.2" cy="466.4" r="3.7"/>
<circle cx="1270.2" cy="466.7" r="3.7"/>
<circle cx="1270.2" cy="466.6" r="3.7"/>
<circle cx="1280.8" cy="469.4" r="3.7"/>
<circle cx="1280.6" cy="469.8" r="3.7"/>
<circle cx="1281.2" cy="468.9" r="3.7"/>
<circle cx="1281.0" cy="469.0" r="3.7"/>
<circle cx="1290.6" cy="459.7" r="3.7"/>
<circle cx="1290.1" cy="460.2" r="3.7"/>
<circle cx="1300.3" cy="465.3" r="3.7"/>
<circle cx="1299.7" cy="465.0" r="3.7"/>
<circle cx="1310.0" cy="466.7" r="3.7"/>
<circle cx="1308.6" cy="476.4" r="3.7"/>
<circle cx="1310.0" cy="458.3" r="3.7"/>
<circle cx="1301.7" cy="458.3" r="3.7"/>
<circle cx="1293.3" cy="476.4" r="3.7"/>
<circle cx="1305.1" cy="449.5" r="3.7"/>
<circle cx="1282.2" cy="456.1" r="3.7"/>
<circle cx="1296.5" cy="441.6" r="3.7"/>
<circle cx="1255.6" cy="445.4" r="3.7"/>
<circle cx="1283.2" cy="452.2" r="3.7"/>
<circle cx="1277.3" cy="444.3" r="3.7"/>
<circle cx="1302.4" cy="479.4" r="3.7"/>
<circle cx="1274.6" cy="493.3" r="3.7"/>
<circle cx="1244.9" cy="440.8" r="3.7"/>
<circle cx="1316.1" cy="473.6" r="3.7"/>
<circle cx="1312.5" cy="456.0" r="3.7"/>
<circle cx="1307.2" cy="462.4" r="3.7"/>
<circle cx="1256.7" cy="489.8" r="3.7"/>
<circle cx="1284.7" cy="476.7" r="3.7"/>
<circle cx="1253.1" cy="455.7" r="3.7"/>
<circle cx="1246.8" cy="442.0" r="3.7"/>
<circle cx="1256.2" cy="475.0" r="3.7"/>
<circle cx="1289.3" cy="442.0" r="3.7"/>
<circle cx="1291.5" cy="440.4" r="3.7"/>
<circle cx="1261.0" cy="442.0" r="3.7"/>
<circle cx="1301.3" cy="470.7" r="3.7"/>
<circle cx="1267.9" cy="470.8" r="3.7"/>
<circle cx="1288.3" cy="432.6" r="3.7"/>
<circle cx="1248.6" cy="483.0" r="3.7"/>
<circle cx="1269.1" cy="448.6" r="3.7"/>
<circle cx="1260.6" cy="504.4" r="3.7"/>
<circle cx="1261.0" cy="472.2" r="3.7"/>
<circle cx="1264.8" cy="459.7" r="3.7"/>
<circle cx="1265.3" cy="441.4" r="3.7"/>
<circle cx="1295.7" cy="442.0" r="3.7"/>
<circle cx="1270.3" cy="493.4" r="3.7"/>
<circle cx="1268.9" cy="498.6" r="3.7"/>
<circle cx="1273.4" cy="438.5" r="3.7"/>
<circle cx="1236.2" cy="471.0" r="3.7"/>
<circle cx="1288.4" cy="500.8" r="3.7"/>
<circle cx="1242.4" cy="476.8" r="3.7"/>
<circle cx="1265.9" cy="467.0" r="3.7"/>
<circle cx="1247.2" cy="448.6" r="3.7"/>
<circle cx="1278.4" cy="502.1" r="3.7"/>
<circle cx="1244.1" cy="465.9" r="3.7"/>
<circle cx="1251.4" cy="435.6" r="3.7"/>
<circle cx="1275.2" cy="429.4" r="3.7"/>
<circle cx="1312.2" cy="457.3" r="3.7"/>
<circle cx="1310.4" cy="476.7" r="3.7"/>
<circle cx="1303.7" cy="438.4" r="3.7"/>
<circle cx="1300.5" cy="443.5" r="3.7"/>
<circle cx="1268.7" cy="495.5" r="3.7"/>
<circle cx="1304.1" cy="440.2" r="3.7"/>
<circle cx="1253.2" cy="458.3" r="3.7"/>
<circle cx="1278.2" cy="457.0" r="3.7"/>
<circle cx="1245.3" cy="445.6" r="3.7"/>
<circle cx="1295.4" cy="499.8" r="3.7"/>
<circle cx="1238.4" cy="471.9" r="3.7"/>
<circle cx="1285.0" cy="470.8" r="3.7"/>
<circle cx="1287.3" cy="450.5" r="3.7"/>
<circle cx="1270.0" cy="473.6" r="3.7"/>
<circle cx="1270.5" cy="479.9" r="3.7"/>
<circle cx="1272.2" cy="461.5" r="3.7"/>
<circle cx="1236.9" cy="476.6" r="3.7"/>
<circle cx="1275.8" cy="444.6" r="3.7"/>
<circle cx="1368.1" cy="558.6" r="3.7"/>
<circle cx="1342.6" cy="525.3" r="3.7"/>
<circle cx="1343.9" cy="521.2" r="3.7"/>
<circle cx="1315.1" cy="539.2" r="3.7"/>
<circle cx="1312.1" cy="539.8" r="3.7"/>
<circle cx="1347.0" cy="517.5" r="3.7"/>
<circle cx="1357.5" cy="519.8" r="3.7"/>
<circle cx="1365.6" cy="558.5" r="3.7"/>
<circle cx="1347.1" cy="518.3" r="3.7"/>
<circle cx="1346.4" cy="536.3" r="3.7"/>
<circle cx="1365.5" cy="560.6" r="3.7"/>
<circle cx="1345.4" cy="568.4" r="3.7"/>
<circle cx="1309.9" cy="534.8" r="3.7"/>
<circle cx="1367.5" cy="524.1" r="3.7"/>
<circle cx="1379.2" cy="530.6" r="3.7"/>
<circle cx="1372.4" cy="523.3" r="3.7"/>
<circle cx="1346.3" cy="566.4" r="3.7"/>
<circle cx="1321.8" cy="529.9" r="3.7"/>
<circle cx="1346.6" cy="533.0" r="3.7"/>
<circle cx="1361.1" cy="565.0" r="3.7"/>
<circle cx="1318.5" cy="558.9" r="3.7"/>
<circle cx="1314.0" cy="544.8" r="3.7"/>
<circle cx="1357.5" cy="535.3" r="3.7"/>
<circle cx="1377.2" cy="546.1" r="3.7"/>
<circle cx="1352.8" cy="564.3" r="3.7"/>
<circle cx="1356.9" cy="537.2" r="3.7"/>
<circle cx="1370.9" cy="530.0" r="3.7"/>
<circle cx="1387.0" cy="547.4" r="3.7"/>
<circle cx="1334.5" cy="557.8" r="3.7"/>
<circle cx="1341.3" cy="525.1" r="3.7"/>
<circle cx="1372.8" cy="529.4" r="3.7"/>
<circle cx="1353.3" cy="552.1" r="3.7"/>
<circle cx="1355.8" cy="539.3" r="3.7"/>
<circle cx="1347.2" cy="565.0" r="3.7"/>
<circle cx="1315.4" cy="527.9" r="3.7"/>
<circle cx="1313.3" cy="535.1" r="3.7"/>
<circle cx="1323.1" cy="547.7" r="3.7"/>
<circle cx="1353.5" cy="526.6" r="3.7"/>
<circle cx="1356.4" cy="541.7" r="3.7"/>
<circle cx="1324.7" cy="523.6" r="3.7"/>
<circle cx="1241.9" cy="579.2" r="3.7"/>
<circle cx="1255.1" cy="575.7" r="3.7"/>
<circle cx="1255.7" cy="575.6" r="3.7"/>
<circle cx="1264.9" cy="579.9" r="3.7"/>
<circle cx="1264.4" cy="579.5" r="3.7"/>
<circle cx="1264.6" cy="580.2" r="3.7"/>
<circle cx="1264.4" cy="580.4" r="3.7"/>
<circle cx="1275.3" cy="586.1" r="3.7"/>
<circle cx="1335.7" cy="577.8" r="3.7"/>
<circle cx="1335.5" cy="578.3" r="3.7"/>
<circle cx="1336.2" cy="577.5" r="3.7"/>
<circle cx="1335.4" cy="577.8" r="3.7"/>
<circle cx="1347.5" cy="583.3" r="3.7"/>
<circle cx="1347.0" cy="583.5" r="3.7"/>
<circle cx="1375.3" cy="586.8" r="3.7"/>
<circle cx="1374.7" cy="586.2" r="3.7"/>
<circle cx="1407.2" cy="577.1" r="3.7"/>
<circle cx="1390.6" cy="581.9" r="3.7"/>
<circle cx="1391.1" cy="581.7" r="3.7"/>
<circle cx="1470.4" cy="576.4" r="3.7"/>
<circle cx="1470.5" cy="576.3" r="3.7"/>
<circle cx="1457.2" cy="591.7" r="3.7"/>
<circle cx="1457.0" cy="591.1" r="3.7"/>
<circle cx="1448.9" cy="586.8" r="3.7"/>
<circle cx="1440.6" cy="602.1" r="3.7"/>
<circle cx="1427.4" cy="597.2" r="3.7"/>
<circle cx="1427.9" cy="597.8" r="3.7"/>
<circle cx="1427.9" cy="596.8" r="3.7"/>
<circle cx="1427.0" cy="597.4" r="3.7"/>
<circle cx="1397.5" cy="588.9" r="3.7"/>
<circle cx="1398.1" cy="588.9" r="3.7"/>
<circle cx="1397.7" cy="589.1" r="3.7"/>
<circle cx="1397.2" cy="588.9" r="3.7"/>
<circle cx="1388.5" cy="593.1" r="3.7"/>
<circle cx="1397.5" cy="609.7" r="3.7"/>
<circle cx="1411.4" cy="590.3" r="3.7"/>
<circle cx="1411.2" cy="590.0" r="3.7"/>
<circle cx="1410.9" cy="590.0" r="3.7"/>
<circle cx="1412.0" cy="590.2" r="3.7"/>
<circle cx="1419.0" cy="608.3" r="3.7"/>
<circle cx="1419.2" cy="608.5" r="3.7"/>
<circle cx="1419.6" cy="608.2" r="3.7"/>
<circle cx="1418.8" cy="608.1" r="3.7"/>
<circle cx="1427.4" cy="614.6" r="3.7"/>
<circle cx="1413.5" cy="625.0" r="3.7"/>
<circle cx="1355.8" cy="597.2" r="3.7"/>
<circle cx="1366.9" cy="593.8" r="3.7"/>
<circle cx="1366.7" cy="594.2" r="3.7"/>
<circle cx="1370.4" cy="593.8" r="3.7"/>
<circle cx="1366.2" cy="604.2" r="3.7"/>
<circle cx="1366.7" cy="603.9" r="3.7"/>
<circle cx="1373.9" cy="605.6" r="3.7"/>
<circle cx="1380.8" cy="602.8" r="3.7"/>
<circle cx="1380.6" cy="602.8" r="3.7"/>
<circle cx="1380.9" cy="602.9" r="3.7"/>
<circle cx="1380.5" cy="602.2" r="3.7"/>
<circle cx="1325.3" cy="600.0" r="3.7"/>
<circle cx="1325.0" cy="599.5" r="3.7"/>
<circle cx="1325.3" cy="599.5" r="3.7"/>
<circle cx="1324.8" cy="600.2" r="3.7"/>
<circle cx="1326.7" cy="606.9" r="3.7"/>
<circle cx="1326.4" cy="607.3" r="3.7"/>
<circle cx="1326.7" cy="607.4" r="3.7"/>
<circle cx="1326.3" cy="606.9" r="3.7"/>
<circle cx="1326.0" cy="612.5" r="3.7"/>
<circle cx="1326.3" cy="612.0" r="3.7"/>
<circle cx="1326.0" cy="619.4" r="3.7"/>
<circle cx="1316.2" cy="597.9" r="3.7"/>
<circle cx="1316.8" cy="597.5" r="3.7"/>
<circle cx="1316.6" cy="598.5" r="3.7"/>
<circle cx="1316.6" cy="597.7" r="3.7"/>
<circle cx="1316.2" cy="604.9" r="3.7"/>
<circle cx="1326.0" cy="593.8" r="3.7"/>
<circle cx="1365.6" cy="621.5" r="3.7"/>
<circle cx="1374.6" cy="620.8" r="3.7"/>
<circle cx="1369.0" cy="633.3" r="3.7"/>
<circle cx="1360.7" cy="638.2" r="3.7"/>
<circle cx="1360.2" cy="638.2" r="3.7"/>
<circle cx="1361.2" cy="637.9" r="3.7"/>
<circle cx="1361.2" cy="637.8" r="3.7"/>
<circle cx="1344.7" cy="644.4" r="3.7"/>
<circle cx="1345.2" cy="643.9" r="3.7"/>
<circle cx="1344.5" cy="644.9" r="3.7"/>
<circle cx="1345.1" cy="644.9" r="3.7"/>
<circle cx="1345.4" cy="652.8" r="3.7"/>
<circle cx="1345.8" cy="653.1" r="3.7"/>
<circle cx="1345.6" cy="652.4" r="3.7"/>
<circle cx="1345.3" cy="652.4" r="3.7"/>
<circle cx="1364.9" cy="646.5" r="3.7"/>
<circle cx="1369.0" cy="646.5" r="3.7"/>
<circle cx="1340.6" cy="641.7" r="3.7"/>
<circle cx="1380.1" cy="630.6" r="3.7"/>
<circle cx="1380.4" cy="630.8" r="3.7"/>
<circle cx="1379.8" cy="630.0" r="3.7"/>
<circle cx="1380.7" cy="630.9" r="3.7"/>
<circle cx="1385.7" cy="627.1" r="3.7"/>
<circle cx="1326.7" cy="629.2" r="3.7"/>
<circle cx="1326.7" cy="629.2" r="3.7"/>
<circle cx="1306.5" cy="619.4" r="3.7"/>
<circle cx="1306.9" cy="619.4" r="3.7"/>
<circle cx="1297.5" cy="629.9" r="3.7"/>
<circle cx="1285.0" cy="639.6" r="3.7"/>
<circle cx="1293.3" cy="644.4" r="3.7"/>
<circle cx="1293.2" cy="644.3" r="3.7"/>
<circle cx="1293.0" cy="643.9" r="3.7"/>
<circle cx="1293.5" cy="644.3" r="3.7"/>
<circle cx="1239.9" cy="600.0" r="3.7"/>
<circle cx="1239.9" cy="599.5" r="3.7"/>
<circle cx="1239.7" cy="599.6" r="3.7"/>
<circle cx="1239.4" cy="599.7" r="3.7"/>
<circle cx="1239.2" cy="612.5" r="3.7"/>
<circle cx="1239.6" cy="612.4" r="3.7"/>
<circle cx="1239.0" cy="612.6" r="3.7"/>
<circle cx="1238.8" cy="611.9" r="3.7"/>
<circle cx="1239.9" cy="619.4" r="3.7"/>
<circle cx="1264.9" cy="596.5" r="3.7"/>
<circle cx="1264.9" cy="602.8" r="3.7"/>
<circle cx="1264.9" cy="602.8" r="3.7"/>
<circle cx="1265.0" cy="602.7" r="3.7"/>
<circle cx="1265.1" cy="603.1" r="3.7"/>
<circle cx="1274.6" cy="595.8" r="3.7"/>
<circle cx="1274.3" cy="595.8" r="3.7"/>
<circle cx="1274.6" cy="595.5" r="3.7"/>
<circle cx="1274.5" cy="595.9" r="3.7"/>
<circle cx="1274.6" cy="600.0" r="3.7"/>
<circle cx="1275.1" cy="600.5" r="3.7"/>
<circle cx="1274.3" cy="600.2" r="3.7"/>
<circle cx="1274.0" cy="599.5" r="3.7"/>
<circle cx="1283.6" cy="612.5" r="3.7"/>
<circle cx="1289.9" cy="619.4" r="3.7"/>
<circle cx="1284.3" cy="629.2" r="3.7"/>
<circle cx="1284.3" cy="629.6" r="3.7"/>
<circle cx="1283.9" cy="629.5" r="3.7"/>
<circle cx="1284.8" cy="628.9" r="3.7"/>
<circle cx="1253.1" cy="622.9" r="3.7"/>
<circle cx="1253.3" cy="623.3" r="3.7"/>
<circle cx="1252.9" cy="623.2" r="3.7"/>
<circle cx="1253.3" cy="623.0" r="3.7"/>
<circle cx="1260.0" cy="623.6" r="3.7"/>
<circle cx="1236.4" cy="630.6" r="3.7"/>
<circle cx="1236.8" cy="631.0" r="3.7"/>
<circle cx="1253.1" cy="633.3" r="3.7"/>
<circle cx="1262.1" cy="636.1" r="3.7"/>
<circle cx="1262.6" cy="636.2" r="3.7"/>
<circle cx="1261.7" cy="635.8" r="3.7"/>
<circle cx="1261.7" cy="636.2" r="3.7"/>
<circle cx="1255.8" cy="646.5" r="3.7"/>
<circle cx="1256.1" cy="646.0" r="3.7"/>
<circle cx="1256.1" cy="646.8" r="3.7"/>
<circle cx="1255.7" cy="646.5" r="3.7"/>
<circle cx="1273.2" cy="652.8" r="3.7"/>
<circle cx="1272.8" cy="653.1" r="3.7"/>
<circle cx="1253.1" cy="659.0" r="3.7"/>
<circle cx="1251.7" cy="648.6" r="3.7"/>
<circle cx="1289.9" cy="670.1" r="3.7"/>
<circle cx="1289.3" cy="670.7" r="3.7"/>
<circle cx="1290.2" cy="670.3" r="3.7"/>
<circle cx="1289.6" cy="670.6" r="3.7"/>
<circle cx="1318.3" cy="659.7" r="3.7"/>
<circle cx="1318.9" cy="659.3" r="3.7"/>
<circle cx="1319.0" cy="646.5" r="3.7"/>
<circle cx="1328.1" cy="652.8" r="3.7"/>
<circle cx="1376.7" cy="663.2" r="3.7"/>
<circle cx="1396.8" cy="647.9" r="3.7"/>
<circle cx="1396.8" cy="672.9" r="3.7"/>
<circle cx="1397.1" cy="673.3" r="3.7"/>
<circle cx="1397.0" cy="673.2" r="3.7"/>
<circle cx="1396.7" cy="673.4" r="3.7"/>
<circle cx="1396.8" cy="679.9" r="3.7"/>
<circle cx="1340.6" cy="677.8" r="3.7"/>
<circle cx="1341.1" cy="677.6" r="3.7"/>
<circle cx="1340.9" cy="677.7" r="3.7"/>
<circle cx="1340.2" cy="677.6" r="3.7"/>
<circle cx="1350.3" cy="681.9" r="3.7"/>
<circle cx="1361.4" cy="691.0" r="3.7"/>
<circle cx="1370.4" cy="687.5" r="3.7"/>
<circle cx="1370.0" cy="688.0" r="3.7"/>
<circle cx="1371.0" cy="687.0" r="3.7"/>
<circle cx="1370.5" cy="687.4" r="3.7"/>
<circle cx="1315.6" cy="680.6" r="3.7"/>
<circle cx="1315.1" cy="680.3" r="3.7"/>
<circle cx="1319.0" cy="684.7" r="3.7"/>
<circle cx="1318.7" cy="685.0" r="3.7"/>
<circle cx="1320.4" cy="690.3" r="3.7"/>
<circle cx="1319.8" cy="689.9" r="3.7"/>
<circle cx="1321.1" cy="678.5" r="3.7"/>
<circle cx="1302.4" cy="684.0" r="3.7"/>
<circle cx="1239.2" cy="662.5" r="3.7"/>
<circle cx="1244.7" cy="666.7" r="3.7"/>
<circle cx="1244.6" cy="666.1" r="3.7"/>
<circle cx="1236.4" cy="670.8" r="3.7"/>
<circle cx="1236.5" cy="671.0" r="3.7"/>
<circle cx="1236.8" cy="670.5" r="3.7"/>
<circle cx="1236.1" cy="670.9" r="3.7"/>
<circle cx="1239.2" cy="677.8" r="3.7"/>
<circle cx="1238.9" cy="677.9" r="3.7"/>
<circle cx="1246.1" cy="677.8" r="3.7"/>
<circle cx="1245.8" cy="678.0" r="3.7"/>
<circle cx="1246.5" cy="678.1" r="3.7"/>
<circle cx="1246.7" cy="677.8" r="3.7"/>
<circle cx="1255.8" cy="674.3" r="3.7"/>
<circle cx="1255.8" cy="674.7" r="3.7"/>
<circle cx="1256.2" cy="674.4" r="3.7"/>
<circle cx="1255.7" cy="674.0" r="3.7"/>
<circle cx="1255.8" cy="681.9" r="3.7"/>
<circle cx="1255.4" cy="682.3" r="3.7"/>
<circle cx="1264.9" cy="670.8" r="3.7"/>
<circle cx="1264.4" cy="671.1" r="3.7"/>
<circle cx="1273.2" cy="678.5" r="3.7"/>
<circle cx="1244.0" cy="691.7" r="3.7"/>
<circle cx="1244.1" cy="692.2" r="3.7"/>
<circle cx="1262.8" cy="690.3" r="3.7"/>
<circle cx="1263.1" cy="690.8" r="3.7"/>
<circle cx="1262.3" cy="690.3" r="3.7"/>
<circle cx="1262.9" cy="690.1" r="3.7"/>
<circle cx="1282.2" cy="688.9" r="3.7"/>
<circle cx="1282.2" cy="688.7" r="3.7"/>
<circle cx="1282.3" cy="688.3" r="3.7"/>
<circle cx="1282.2" cy="688.8" r="3.7"/>
<circle cx="1289.2" cy="697.2" r="3.7"/>
<circle cx="1288.9" cy="697.1" r="3.7"/>
<circle cx="1289.5" cy="697.4" r="3.7"/>
<circle cx="1289.2" cy="697.4" r="3.7"/>
<circle cx="1272.5" cy="686.1" r="3.7"/>
<circle cx="1272.4" cy="685.8" r="3.7"/>
<circle cx="1280.8" cy="683.3" r="3.7"/>
<circle cx="1294.7" cy="702.8" r="3.7"/>
<circle cx="1294.1" cy="702.5" r="3.7"/>
<circle cx="1294.8" cy="703.2" r="3.7"/>
<circle cx="1295.1" cy="702.8" r="3.7"/>
<circle cx="1330.8" cy="708.3" r="3.7"/>
<circle cx="1331.4" cy="708.3" r="3.7"/>
<circle cx="1330.8" cy="702.8" r="3.7"/>
<circle cx="1340.6" cy="703.5" r="3.7"/>
<circle cx="1341.0" cy="703.4" r="3.7"/>
<circle cx="1285.7" cy="706.2" r="3.7"/>
<circle cx="1286.0" cy="706.8" r="3.7"/>
<circle cx="1285.5" cy="705.9" r="3.7"/>
<circle cx="1285.8" cy="706.3" r="3.7"/>
<circle cx="1279.4" cy="709.7" r="3.7"/>
<circle cx="1264.9" cy="705.6" r="3.7"/>
<circle cx="1261.4" cy="700.0" r="3.7"/>
<circle cx="1261.2" cy="699.4" r="3.7"/>
<circle cx="1237.8" cy="707.6" r="3.7"/>
<circle cx="1237.6" cy="707.5" r="3.7"/>
<circle cx="1251.0" cy="719.4" r="3.7"/>
<circle cx="1250.9" cy="719.9" r="3.7"/>
<circle cx="1310.7" cy="720.8" r="3.7"/>
<circle cx="1310.8" cy="721.1" r="3.7"/>
<circle cx="1311.4" cy="708.3" r="3.7"/>
<circle cx="1375.3" cy="713.9" r="3.7"/>
<circle cx="1357.2" cy="718.1" r="3.7"/>
<circle cx="1396.8" cy="715.3" r="3.7"/>
<circle cx="1397.3" cy="715.6" r="3.7"/>
<circle cx="1396.8" cy="715.6" r="3.7"/>
<circle cx="1397.0" cy="715.5" r="3.7"/>
<circle cx="1397.5" cy="722.2" r="3.7"/>
<circle cx="1446.1" cy="644.4" r="3.7"/>
<circle cx="1446.1" cy="654.2" r="3.7"/>
<circle cx="1446.3" cy="654.1" r="3.7"/>
<circle cx="1446.3" cy="654.3" r="3.7"/>
<circle cx="1446.6" cy="654.5" r="3.7"/>
<circle cx="1416.9" cy="669.4" r="3.7"/>
<circle cx="1416.9" cy="676.4" r="3.7"/>
<circle cx="1417.4" cy="676.7" r="3.7"/>
<circle cx="1432.9" cy="669.4" r="3.7"/>
<circle cx="1432.9" cy="673.6" r="3.7"/>
<circle cx="1465.6" cy="686.8" r="3.7"/>
<circle cx="1465.9" cy="686.9" r="3.7"/>
<circle cx="1465.4" cy="686.5" r="3.7"/>
<circle cx="1465.8" cy="687.3" r="3.7"/>
<circle cx="1247.3" cy="620.8" r="3.7"/>
<circle cx="1290.3" cy="628.0" r="3.7"/>
<circle cx="1264.3" cy="602.1" r="3.7"/>
<circle cx="1273.2" cy="606.4" r="3.7"/>
<circle cx="1277.8" cy="611.1" r="3.7"/>
<circle cx="1294.0" cy="625.6" r="3.7"/>
<circle cx="1255.7" cy="634.1" r="3.7"/>
<circle cx="1244.4" cy="615.5" r="3.7"/>
<circle cx="1264.5" cy="600.8" r="3.7"/>
<circle cx="1242.6" cy="616.4" r="3.7"/>
<circle cx="1253.0" cy="619.3" r="3.7"/>
<circle cx="1270.1" cy="621.0" r="3.7"/>
<circle cx="1287.1" cy="597.6" r="3.7"/>
<circle cx="1259.1" cy="603.9" r="3.7"/>
<circle cx="1285.4" cy="624.7" r="3.7"/>
<circle cx="1283.3" cy="612.2" r="3.7"/>
<circle cx="1283.2" cy="611.5" r="3.7"/>
<circle cx="1254.5" cy="594.2" r="3.7"/>
<circle cx="1260.6" cy="626.4" r="3.7"/>
<circle cx="1280.6" cy="631.2" r="3.7"/>
<circle cx="1281.5" cy="602.2" r="3.7"/>
<circle cx="1272.7" cy="610.7" r="3.7"/>
<circle cx="1285.7" cy="615.1" r="3.7"/>
<circle cx="1256.7" cy="621.0" r="3.7"/>
<circle cx="1256.4" cy="600.7" r="3.7"/>
<circle cx="1283.4" cy="605.2" r="3.7"/>
<circle cx="1290.8" cy="605.3" r="3.7"/>
<circle cx="1255.2" cy="634.3" r="3.7"/>
<circle cx="1277.0" cy="623.5" r="3.7"/>
<circle cx="1268.0" cy="630.9" r="3.7"/>
<circle cx="1280.7" cy="631.8" r="3.7"/>
<circle cx="1266.2" cy="625.1" r="3.7"/>
<circle cx="1273.6" cy="604.3" r="3.7"/>
<circle cx="1253.7" cy="620.0" r="3.7"/>
<circle cx="1347.9" cy="624.6" r="3.7"/>
<circle cx="1359.5" cy="642.3" r="3.7"/>
<circle cx="1359.6" cy="646.1" r="3.7"/>
<circle cx="1338.6" cy="640.8" r="3.7"/>
<circle cx="1348.5" cy="649.0" r="3.7"/>
<circle cx="1340.0" cy="626.9" r="3.7"/>
<circle cx="1364.6" cy="648.8" r="3.7"/>
<circle cx="1357.5" cy="649.2" r="3.7"/>
<circle cx="1357.4" cy="629.8" r="3.7"/>
<circle cx="1361.6" cy="626.8" r="3.7"/>
<circle cx="1347.0" cy="634.7" r="3.7"/>
<circle cx="1345.8" cy="645.3" r="3.7"/>
<circle cx="1283.7" cy="692.5" r="3.7"/>
<circle cx="1333.4" cy="700.2" r="3.7"/>
<circle cx="1324.0" cy="704.9" r="3.7"/>
<circle cx="1255.6" cy="696.4" r="3.7"/>
<circle cx="1289.4" cy="711.4" r="3.7"/>
<circle cx="1282.0" cy="708.5" r="3.7"/>
<circle cx="1297.9" cy="688.2" r="3.7"/>
<circle cx="1321.4" cy="686.3" r="3.7"/>
<circle cx="1253.4" cy="699.6" r="3.7"/>
<circle cx="1294.0" cy="712.4" r="3.7"/>
<circle cx="1268.4" cy="699.8" r="3.7"/>
<circle cx="1282.0" cy="713.8" r="3.7"/>
<circle cx="1276.7" cy="688.1" r="3.7"/>
<circle cx="1311.3" cy="699.9" r="3.7"/>
<circle cx="1262.2" cy="705.7" r="3.7"/>
<circle cx="1311.2" cy="712.0" r="3.7"/>
<circle cx="1305.4" cy="694.0" r="3.7"/>
<circle cx="1286.5" cy="695.6" r="3.7"/>
<circle cx="1270.2" cy="690.1" r="3.7"/>
<circle cx="1328.2" cy="700.0" r="3.7"/>
<circle cx="1284.7" cy="716.0" r="3.7"/>
<circle cx="1272.5" cy="698.4" r="3.7"/>
<circle cx="1297.4" cy="710.6" r="3.7"/>
<circle cx="1315.8" cy="706.1" r="3.7"/>
<circle cx="1282.1" cy="692.8" r="3.7"/>
<circle cx="1266.0" cy="714.3" r="3.7"/>
<circle cx="1308.2" cy="710.1" r="3.7"/>
<circle cx="1267.2" cy="697.4" r="3.7"/>
<circle cx="1317.5" cy="703.3" r="3.7"/>
<circle cx="1263.6" cy="698.4" r="3.7"/>
<circle cx="1326.8" cy="689.1" r="3.7"/>
<circle cx="1269.0" cy="691.7" r="3.7"/>
<circle cx="1311.7" cy="714.3" r="3.7"/>
<circle cx="1265.9" cy="685.7" r="3.7"/>
<circle cx="1273.7" cy="692.8" r="3.7"/>
<circle cx="1243.7" cy="658.1" r="3.7"/>
<circle cx="1240.5" cy="659.3" r="3.7"/>
<circle cx="1236.7" cy="667.4" r="3.7"/>
<circle cx="1247.2" cy="669.5" r="3.7"/>
<circle cx="1238.3" cy="678.0" r="3.7"/>
<circle cx="1236.8" cy="660.0" r="3.7"/>
<circle cx="1251.0" cy="725.7" r="3.7"/>
<circle cx="1310.7" cy="725.0" r="3.7"/>
<circle cx="1310.7" cy="724.6" r="3.7"/>
<circle cx="1326.0" cy="742.4" r="3.7"/>
<circle cx="1326.4" cy="742.3" r="3.7"/>
<circle cx="1339.9" cy="728.5" r="3.7"/>
<circle cx="1339.8" cy="727.9" r="3.7"/>
<circle cx="1339.9" cy="728.8" r="3.7"/>
<circle cx="1339.8" cy="728.3" r="3.7"/>
<circle cx="1332.2" cy="726.4" r="3.7"/>
<circle cx="1332.4" cy="725.8" r="3.7"/>
<circle cx="1340.6" cy="738.2" r="3.7"/>
<circle cx="1335.0" cy="745.1" r="3.7"/>
<circle cx="1396.8" cy="727.1" r="3.7"/>
<circle cx="1432.2" cy="732.6" r="3.7"/>
<circle cx="1258.6" cy="740.3" r="3.7"/>
<circle cx="1258.6" cy="745.8" r="3.7"/>
<circle cx="1258.6" cy="746.4" r="3.7"/>
<circle cx="1247.5" cy="745.8" r="3.7"/>
<circle cx="1259.3" cy="755.6" r="3.7"/>
<circle cx="1259.5" cy="755.4" r="3.7"/>
<circle cx="1259.5" cy="755.7" r="3.7"/>
<circle cx="1259.0" cy="755.2" r="3.7"/>
<circle cx="1257.9" cy="765.3" r="3.7"/>
<circle cx="1258.4" cy="765.0" r="3.7"/>
<circle cx="1257.4" cy="765.7" r="3.7"/>
<circle cx="1257.9" cy="765.1" r="3.7"/>
<circle cx="1271.1" cy="740.3" r="3.7"/>
<circle cx="1271.1" cy="740.6" r="3.7"/>
<circle cx="1270.7" cy="740.5" r="3.7"/>
<circle cx="1271.4" cy="740.7" r="3.7"/>
<circle cx="1276.7" cy="757.6" r="3.7"/>
<circle cx="1276.4" cy="757.8" r="3.7"/>
<circle cx="1276.3" cy="757.7" r="3.7"/>
<circle cx="1276.3" cy="758.0" r="3.7"/>
<circle cx="1276.7" cy="766.7" r="3.7"/>
<circle cx="1277.1" cy="766.5" r="3.7"/>
<circle cx="1276.3" cy="767.2" r="3.7"/>
<circle cx="1276.9" cy="767.1" r="3.7"/>
<circle cx="1273.9" cy="786.1" r="3.7"/>
<circle cx="1242.6" cy="765.3" r="3.7"/>
<circle cx="1242.6" cy="790.3" r="3.7"/>
<circle cx="1242.6" cy="797.2" r="3.7"/>
<circle cx="1254.4" cy="800.7" r="3.7"/>
<circle cx="1275.3" cy="794.4" r="3.7"/>
<circle cx="1291.9" cy="787.5" r="3.7"/>
<circle cx="1299.6" cy="790.3" r="3.7"/>
<circle cx="1299.6" cy="795.8" r="3.7"/>
<circle cx="1298.9" cy="801.4" r="3.7"/>
<circle cx="1307.2" cy="795.8" r="3.7"/>
<circle cx="1305.1" cy="781.9" r="3.7"/>
<circle cx="1291.9" cy="798.6" r="3.7"/>
<circle cx="1291.9" cy="803.5" r="3.7"/>
<circle cx="1290.6" cy="809.0" r="3.7"/>
<circle cx="1291.9" cy="814.6" r="3.7"/>
<circle cx="1308.6" cy="818.8" r="3.7"/>
<circle cx="1359.3" cy="788.9" r="3.7"/>
<circle cx="1400.3" cy="766.0" r="3.7"/>
<circle cx="1400.3" cy="777.8" r="3.7"/>
<circle cx="1384.3" cy="826.4" r="3.7"/>
<circle cx="1383.7" cy="826.9" r="3.7"/>
<circle cx="1384.5" cy="826.2" r="3.7"/>
<circle cx="1384.2" cy="826.7" r="3.7"/>
<circle cx="1384.3" cy="835.4" r="3.7"/>
<circle cx="1257.9" cy="843.8" r="3.7"/>
<circle cx="1258.3" cy="843.4" r="3.7"/>
<circle cx="1478.8" cy="753.5" r="3.7"/>
<circle cx="1478.9" cy="753.1" r="3.7"/>
<circle cx="1481.5" cy="756.9" r="3.7"/>
<circle cx="1503.1" cy="463.9" r="3.7"/>
<circle cx="1516.2" cy="470.1" r="3.7"/>
<circle cx="1516.8" cy="470.1" r="3.7"/>
<circle cx="1516.7" cy="470.4" r="3.7"/>
<circle cx="1516.4" cy="469.9" r="3.7"/>
<circle cx="1519.0" cy="474.3" r="3.7"/>
<circle cx="1519.1" cy="473.9" r="3.7"/>
<circle cx="1512.8" cy="484.7" r="3.7"/>
<circle cx="1512.3" cy="485.0" r="3.7"/>
<circle cx="1512.6" cy="485.0" r="3.7"/>
<circle cx="1512.5" cy="485.0" r="3.7"/>
<circle cx="1516.2" cy="488.2" r="3.7"/>
<circle cx="1516.5" cy="488.0" r="3.7"/>
<circle cx="1512.8" cy="497.9" r="3.7"/>
<circle cx="1523.2" cy="499.3" r="3.7"/>
<circle cx="1522.7" cy="499.2" r="3.7"/>
<circle cx="1523.2" cy="498.8" r="3.7"/>
<circle cx="1522.8" cy="498.8" r="3.7"/>
<circle cx="1518.3" cy="502.8" r="3.7"/>
<circle cx="1518.5" cy="503.2" r="3.7"/>
<circle cx="1529.4" cy="509.0" r="3.7"/>
<circle cx="1519.0" cy="512.5" r="3.7"/>
<circle cx="1518.7" cy="511.9" r="3.7"/>
<circle cx="1519.3" cy="512.9" r="3.7"/>
<circle cx="1519.6" cy="512.6" r="3.7"/>
<circle cx="1518.3" cy="515.3" r="3.7"/>
<circle cx="1518.1" cy="515.7" r="3.7"/>
<circle cx="1528.1" cy="517.4" r="3.7"/>
<circle cx="1557.2" cy="476.4" r="3.7"/>
<circle cx="1549.6" cy="519.4" r="3.7"/>
<circle cx="1549.1" cy="519.7" r="3.7"/>
<circle cx="1562.1" cy="518.8" r="3.7"/>
<circle cx="1511.4" cy="531.2" r="3.7"/>
<circle cx="1512.8" cy="534.7" r="3.7"/>
<circle cx="1525.3" cy="538.9" r="3.7"/>
<circle cx="1556.5" cy="532.6" r="3.7"/>
<circle cx="1562.1" cy="530.6" r="3.7"/>
<circle cx="1561.4" cy="536.1" r="3.7"/>
<circle cx="1560.9" cy="536.0" r="3.7"/>
<circle cx="1549.6" cy="540.3" r="3.7"/>
<circle cx="1560.0" cy="545.8" r="3.7"/>
<circle cx="1570.4" cy="545.8" r="3.7"/>
<circle cx="1573.9" cy="558.3" r="3.7"/>
<circle cx="1591.9" cy="558.3" r="3.7"/>
<circle cx="1591.9" cy="572.9" r="3.7"/>
<circle cx="1488.5" cy="526.4" r="3.7"/>
<circle cx="1488.5" cy="534.0" r="3.7"/>
<circle cx="1591.9" cy="575.7" r="3.7"/>
<circle cx="1591.9" cy="582.6" r="3.7"/>
<circle cx="1587.1" cy="600.7" r="3.7"/>
<circle cx="1587.1" cy="600.5" r="3.7"/>
<circle cx="1586.7" cy="600.4" r="3.7"/>
<circle cx="1587.5" cy="600.6" r="3.7"/>
<circle cx="1490.6" cy="638.9" r="3.7"/>
<circle cx="1501.7" cy="660.4" r="3.7"/>
<circle cx="1547.5" cy="649.3" r="3.7"/>
<circle cx="1547.6" cy="649.0" r="3.7"/>
<circle cx="1547.8" cy="649.1" r="3.7"/>
<circle cx="1547.6" cy="649.8" r="3.7"/>
<circle cx="1601.0" cy="650.0" r="3.7"/>
<circle cx="1601.6" cy="649.5" r="3.7"/>
<circle cx="1601.3" cy="650.4" r="3.7"/>
<circle cx="1600.8" cy="649.9" r="3.7"/>
<circle cx="1587.1" cy="663.9" r="3.7"/>
<circle cx="1527.4" cy="706.2" r="3.7"/>
<circle cx="1527.5" cy="706.8" r="3.7"/>
<circle cx="1527.2" cy="706.7" r="3.7"/>
<circle cx="1527.7" cy="705.8" r="3.7"/>
<circle cx="1527.4" cy="733.3" r="3.7"/>
<circle cx="1527.9" cy="732.8" r="3.7"/>
<circle cx="1526.9" cy="733.5" r="3.7"/>
<circle cx="1526.8" cy="733.2" r="3.7"/>
<circle cx="1490.6" cy="740.3" r="3.7"/>
<circle cx="1490.1" cy="740.2" r="3.7"/>
<circle cx="1494.0" cy="808.3" r="3.7"/>
<circle cx="1494.4" cy="808.8" r="3.7"/>
<circle cx="1495.4" cy="820.1" r="3.7"/>
<circle cx="1521.1" cy="806.9" r="3.7"/>
<circle cx="1525.3" cy="854.2" r="3.7"/>
<circle cx="1524.7" cy="853.6" r="3.7"/>
<circle cx="1582.9" cy="850.7" r="3.7"/>
<circle cx="305.1" cy="138.9" r="3.7"/>
<circle cx="305.5" cy="138.3" r="3.7"/>
<circle cx="244.4" cy="160.4" r="3.7"/>
<circle cx="260.0" cy="171.5" r="3.7"/>
<circle cx="259.7" cy="171.1" r="3.7"/>
<circle cx="259.5" cy="171.0" r="3.7"/>
<circle cx="260.2" cy="171.8" r="3.7"/>
<circle cx="253.1" cy="178.5" r="3.7"/>
<circle cx="331.5" cy="180.6" r="3.7"/>
<circle cx="331.8" cy="181.0" r="3.7"/>
<circle cx="332.9" cy="172.2" r="3.7"/>
<circle cx="335.7" cy="154.2" r="3.7"/>
<circle cx="335.9" cy="154.0" r="3.7"/>
<circle cx="340.6" cy="186.1" r="3.7"/>
<circle cx="339.2" cy="191.0" r="3.7"/>
<circle cx="339.3" cy="191.5" r="3.7"/>
<circle cx="339.3" cy="190.7" r="3.7"/>
<circle cx="338.6" cy="191.5" r="3.7"/>
<circle cx="355.8" cy="174.3" r="3.7"/>
<circle cx="355.9" cy="174.1" r="3.7"/>
<circle cx="356.0" cy="174.4" r="3.7"/>
<circle cx="355.9" cy="173.8" r="3.7"/>
<circle cx="353.1" cy="170.8" r="3.7"/>
<circle cx="360.0" cy="180.6" r="3.7"/>
<circle cx="360.7" cy="161.8" r="3.7"/>
<circle cx="360.5" cy="161.7" r="3.7"/>
<circle cx="378.1" cy="158.3" r="3.7"/>
<circle cx="377.7" cy="158.8" r="3.7"/>
<circle cx="378.0" cy="158.5" r="3.7"/>
<circle cx="378.3" cy="158.6" r="3.7"/>
<circle cx="371.1" cy="195.8" r="3.7"/>
<circle cx="389.9" cy="172.9" r="3.7"/>
<circle cx="390.1" cy="173.2" r="3.7"/>
<circle cx="389.6" cy="173.5" r="3.7"/>
<circle cx="389.4" cy="173.4" r="3.7"/>
<circle cx="394.7" cy="186.1" r="3.7"/>
<circle cx="407.2" cy="176.4" r="3.7"/>
<circle cx="407.6" cy="176.8" r="3.7"/>
<circle cx="406.7" cy="175.9" r="3.7"/>
<circle cx="407.6" cy="176.4" r="3.7"/>
<circle cx="408.6" cy="161.8" r="3.7"/>
<circle cx="408.5" cy="162.4" r="3.7"/>
<circle cx="410.7" cy="188.9" r="3.7"/>
<circle cx="410.1" cy="188.9" r="3.7"/>
<circle cx="404.4" cy="195.1" r="3.7"/>
<circle cx="404.4" cy="194.7" r="3.7"/>
<circle cx="404.3" cy="195.4" r="3.7"/>
<circle cx="404.9" cy="194.6" r="3.7"/>
<circle cx="415.6" cy="169.4" r="3.7"/>
<circle cx="415.6" cy="169.0" r="3.7"/>
<circle cx="415.9" cy="168.9" r="3.7"/>
<circle cx="415.0" cy="169.3" r="3.7"/>
<circle cx="423.9" cy="178.5" r="3.7"/>
<circle cx="419.7" cy="191.0" r="3.7"/>
<circle cx="420.0" cy="190.7" r="3.7"/>
<circle cx="419.3" cy="191.3" r="3.7"/>
<circle cx="420.1" cy="191.4" r="3.7"/>
<circle cx="412.8" cy="205.6" r="3.7"/>
<circle cx="412.5" cy="205.5" r="3.7"/>
<circle cx="412.5" cy="205.6" r="3.7"/>
<circle cx="412.6" cy="205.4" r="3.7"/>
<circle cx="397.5" cy="207.6" r="3.7"/>
<circle cx="397.8" cy="208.2" r="3.7"/>
<circle cx="410.0" cy="216.0" r="3.7"/>
<circle cx="410.1" cy="215.5" r="3.7"/>
<circle cx="437.8" cy="204.2" r="3.7"/>
<circle cx="457.2" cy="175.7" r="3.7"/>
<circle cx="478.1" cy="175.0" r="3.7"/>
<circle cx="478.2" cy="174.9" r="3.7"/>
<circle cx="478.6" cy="175.3" r="3.7"/>
<circle cx="478.5" cy="175.2" r="3.7"/>
<circle cx="477.4" cy="186.8" r="3.7"/>
<circle cx="477.4" cy="187.3" r="3.7"/>
<circle cx="438.5" cy="225.0" r="3.7"/>
<circle cx="438.9" cy="224.7" r="3.7"/>
<circle cx="438.1" cy="224.8" r="3.7"/>
<circle cx="438.5" cy="224.5" r="3.7"/>
<circle cx="384.3" cy="218.8" r="3.7"/>
<circle cx="384.1" cy="218.8" r="3.7"/>
<circle cx="383.8" cy="219.1" r="3.7"/>
<circle cx="384.5" cy="218.5" r="3.7"/>
<circle cx="357.2" cy="216.7" r="3.7"/>
<circle cx="341.2" cy="226.4" r="3.7"/>
<circle cx="342.6" cy="209.7" r="3.7"/>
<circle cx="342.4" cy="209.5" r="3.7"/>
<circle cx="291.9" cy="201.4" r="3.7"/>
<circle cx="287.8" cy="191.7" r="3.7"/>
<circle cx="314.9" cy="202.1" r="3.7"/>
<circle cx="302.4" cy="211.8" r="3.7"/>
<circle cx="302.2" cy="212.1" r="3.7"/>
<circle cx="302.4" cy="211.8" r="3.7"/>
<circle cx="301.9" cy="212.3" r="3.7"/>
<circle cx="287.1" cy="209.7" r="3.7"/>
<circle cx="260.0" cy="215.3" r="3.7"/>
<circle cx="245.4" cy="209.7" r="3.7"/>
<circle cx="245.2" cy="209.5" r="3.7"/>
<circle cx="245.4" cy="221.5" r="3.7"/>
<circle cx="254.4" cy="202.8" r="3.7"/>
<circle cx="253.9" cy="203.4" r="3.7"/>
<circle cx="254.4" cy="203.3" r="3.7"/>
<circle cx="255.0" cy="203.3" r="3.7"/>
<circle cx="255.8" cy="206.9" r="3.7"/>
<circle cx="273.2" cy="256.2" r="3.7"/>
<circle cx="273.6" cy="256.8" r="3.7"/>
<circle cx="334.3" cy="252.8" r="3.7"/>
<circle cx="334.8" cy="253.1" r="3.7"/>
<circle cx="330.8" cy="256.2" r="3.7"/>
<circle cx="357.9" cy="243.1" r="3.7"/>
<circle cx="357.5" cy="243.1" r="3.7"/>
<circle cx="357.9" cy="255.6" r="3.7"/>
<circle cx="358.0" cy="256.1" r="3.7"/>
<circle cx="358.3" cy="255.8" r="3.7"/>
<circle cx="358.2" cy="255.4" r="3.7"/>
<circle cx="252.4" cy="265.3" r="3.7"/>
<circle cx="252.9" cy="265.4" r="3.7"/>
<circle cx="252.2" cy="265.2" r="3.7"/>
<circle cx="252.9" cy="265.3" r="3.7"/>
<circle cx="376.0" cy="270.1" r="3.7"/>
<circle cx="375.6" cy="269.7" r="3.7"/>
<circle cx="376.2" cy="270.2" r="3.7"/>
<circle cx="376.5" cy="269.8" r="3.7"/>
<circle cx="269.7" cy="277.8" r="3.7"/>
<circle cx="272.5" cy="284.0" r="3.7"/>
<circle cx="272.4" cy="284.3" r="3.7"/>
<circle cx="326.7" cy="281.2" r="3.7"/>
<circle cx="470.4" cy="293.1" r="3.7"/>
<circle cx="469.9" cy="292.6" r="3.7"/>
<circle cx="470.5" cy="292.8" r="3.7"/>
<circle cx="469.9" cy="292.8" r="3.7"/>
<circle cx="453.1" cy="311.8" r="3.7"/>
<circle cx="453.2" cy="311.8" r="3.7"/>
<circle cx="452.5" cy="311.3" r="3.7"/>
<circle cx="453.5" cy="312.0" r="3.7"/>
<circle cx="453.8" cy="317.4" r="3.7"/>
<circle cx="407.9" cy="334.0" r="3.7"/>
<circle cx="430.1" cy="400.0" r="3.7"/>
<circle cx="429.7" cy="400.4" r="3.7"/>
<circle cx="429.6" cy="399.8" r="3.7"/>
<circle cx="430.6" cy="400.3" r="3.7"/>
<circle cx="444.0" cy="420.8" r="3.7"/>
<circle cx="443.8" cy="421.3" r="3.7"/>
<circle cx="444.1" cy="421.3" r="3.7"/>
<circle cx="444.5" cy="420.7" r="3.7"/>
<circle cx="250.3" cy="297.9" r="3.7"/>
<circle cx="250.5" cy="298.0" r="3.7"/>
<circle cx="251.0" cy="300.7" r="3.7"/>
<circle cx="251.5" cy="301.1" r="3.7"/>
<circle cx="246.1" cy="304.9" r="3.7"/>
<circle cx="253.1" cy="306.2" r="3.7"/>
<circle cx="253.3" cy="306.6" r="3.7"/>
<circle cx="253.7" cy="306.0" r="3.7"/>
<circle cx="252.7" cy="306.5" r="3.7"/>
<circle cx="252.4" cy="318.1" r="3.7"/>
<circle cx="252.7" cy="318.1" r="3.7"/>
<circle cx="252.3" cy="317.9" r="3.7"/>
<circle cx="252.8" cy="318.4" r="3.7"/>
<circle cx="251.0" cy="322.9" r="3.7"/>
<circle cx="251.1" cy="322.4" r="3.7"/>
<circle cx="248.9" cy="327.8" r="3.7"/>
<circle cx="253.1" cy="302.8" r="3.7"/>
<circle cx="253.5" cy="302.7" r="3.7"/>
<circle cx="444.0" cy="429.9" r="3.7"/>
<circle cx="487.1" cy="161.8" r="3.7"/>
<circle cx="485.7" cy="176.4" r="3.7"/>
<circle cx="512.1" cy="163.2" r="3.7"/>
<circle cx="511.7" cy="163.0" r="3.7"/>
<circle cx="505.8" cy="186.1" r="3.7"/>
<circle cx="560.0" cy="171.5" r="3.7"/>
<circle cx="560.2" cy="170.9" r="3.7"/>
<circle cx="559.5" cy="171.3" r="3.7"/>
<circle cx="560.5" cy="171.8" r="3.7"/>
<circle cx="571.1" cy="184.7" r="3.7"/>
<circle cx="571.7" cy="184.8" r="3.7"/>
<circle cx="571.2" cy="184.8" r="3.7"/>
<circle cx="571.1" cy="184.8" r="3.7"/>
<circle cx="578.8" cy="186.8" r="3.7"/>
<circle cx="579.1" cy="187.3" r="3.7"/>
<circle cx="571.1" cy="188.9" r="3.7"/>
<circle cx="594.0" cy="172.9" r="3.7"/>
<circle cx="593.9" cy="173.1" r="3.7"/>
<circle cx="593.8" cy="172.7" r="3.7"/>
<circle cx="594.0" cy="173.0" r="3.7"/>
<circle cx="594.7" cy="180.6" r="3.7"/>
<circle cx="594.8" cy="181.1" r="3.7"/>
<circle cx="594.3" cy="180.7" r="3.7"/>
<circle cx="595.3" cy="180.8" r="3.7"/>
<circle cx="591.2" cy="190.3" r="3.7"/>
<circle cx="591.3" cy="190.1" r="3.7"/>
<circle cx="591.1" cy="190.8" r="3.7"/>
<circle cx="591.7" cy="190.5" r="3.7"/>
<circle cx="608.6" cy="175.7" r="3.7"/>
<circle cx="609.1" cy="176.2" r="3.7"/>
<circle cx="609.0" cy="175.6" r="3.7"/>
<circle cx="608.6" cy="176.0" r="3.7"/>
<circle cx="616.9" cy="186.8" r="3.7"/>
<circle cx="616.8" cy="187.1" r="3.7"/>
<circle cx="616.9" cy="186.6" r="3.7"/>
<circle cx="616.9" cy="186.3" r="3.7"/>
<circle cx="597.5" cy="197.9" r="3.7"/>
<circle cx="626.7" cy="194.4" r="3.7"/>
<circle cx="626.5" cy="194.3" r="3.7"/>
<circle cx="626.1" cy="194.1" r="3.7"/>
<circle cx="626.4" cy="194.9" r="3.7"/>
<circle cx="628.1" cy="202.8" r="3.7"/>
<circle cx="628.2" cy="202.5" r="3.7"/>
<circle cx="687.1" cy="193.8" r="3.7"/>
<circle cx="687.7" cy="193.5" r="3.7"/>
<circle cx="691.9" cy="197.2" r="3.7"/>
<circle cx="692.0" cy="197.5" r="3.7"/>
<circle cx="692.2" cy="197.1" r="3.7"/>
<circle cx="692.3" cy="197.2" r="3.7"/>
<circle cx="723.9" cy="209.7" r="3.7"/>
<circle cx="676.7" cy="215.3" r="3.7"/>
<circle cx="676.9" cy="215.3" r="3.7"/>
<circle cx="687.1" cy="221.5" r="3.7"/>
<circle cx="655.1" cy="222.2" r="3.7"/>
<circle cx="655.7" cy="222.5" r="3.7"/>
<circle cx="654.6" cy="221.8" r="3.7"/>
<circle cx="655.7" cy="221.9" r="3.7"/>
<circle cx="555.8" cy="202.8" r="3.7"/>
<circle cx="555.3" cy="202.5" r="3.7"/>
<circle cx="555.8" cy="203.3" r="3.7"/>
<circle cx="555.7" cy="203.0" r="3.7"/>
<circle cx="568.3" cy="208.3" r="3.7"/>
<circle cx="568.7" cy="207.8" r="3.7"/>
<circle cx="572.5" cy="206.9" r="3.7"/>
<circle cx="572.6" cy="207.5" r="3.7"/>
<circle cx="582.2" cy="221.5" r="3.7"/>
<circle cx="582.3" cy="221.6" r="3.7"/>
<circle cx="582.0" cy="222.1" r="3.7"/>
<circle cx="582.8" cy="221.1" r="3.7"/>
<circle cx="519.0" cy="202.1" r="3.7"/>
<circle cx="496.1" cy="204.9" r="3.7"/>
<circle cx="496.2" cy="204.8" r="3.7"/>
<circle cx="501.7" cy="205.6" r="3.7"/>
<circle cx="564.9" cy="240.3" r="3.7"/>
<circle cx="565.1" cy="239.8" r="3.7"/>
<circle cx="564.6" cy="240.0" r="3.7"/>
<circle cx="564.8" cy="240.6" r="3.7"/>
<circle cx="602.4" cy="230.6" r="3.7"/>
<circle cx="610.0" cy="231.2" r="3.7"/>
<circle cx="610.4" cy="231.6" r="3.7"/>
<circle cx="622.5" cy="236.8" r="3.7"/>
<circle cx="622.7" cy="236.3" r="3.7"/>
<circle cx="621.8" cy="252.1" r="3.7"/>
<circle cx="621.7" cy="252.3" r="3.7"/>
<circle cx="621.6" cy="252.1" r="3.7"/>
<circle cx="622.3" cy="251.6" r="3.7"/>
<circle cx="623.2" cy="262.5" r="3.7"/>
<circle cx="623.6" cy="262.0" r="3.7"/>
<circle cx="623.1" cy="263.0" r="3.7"/>
<circle cx="622.8" cy="262.5" r="3.7"/>
<circle cx="631.5" cy="266.7" r="3.7"/>
<circle cx="631.4" cy="267.1" r="3.7"/>
<circle cx="513.5" cy="248.6" r="3.7"/>
<circle cx="505.8" cy="254.2" r="3.7"/>
<circle cx="506.4" cy="253.9" r="3.7"/>
<circle cx="505.8" cy="254.6" r="3.7"/>
<circle cx="505.9" cy="253.8" r="3.7"/>
<circle cx="526.0" cy="260.4" r="3.7"/>
<circle cx="526.3" cy="260.2" r="3.7"/>
<circle cx="518.3" cy="268.1" r="3.7"/>
<circle cx="534.3" cy="267.4" r="3.7"/>
<circle cx="575.3" cy="270.1" r="3.7"/>
<circle cx="575.3" cy="269.5" r="3.7"/>
<circle cx="587.1" cy="268.1" r="3.7"/>
<circle cx="598.9" cy="265.3" r="3.7"/>
<circle cx="659.3" cy="247.2" r="3.7"/>
<circle cx="670.4" cy="252.1" r="3.7"/>
<circle cx="684.3" cy="263.9" r="3.7"/>
<circle cx="684.3" cy="266.7" r="3.7"/>
<circle cx="714.9" cy="269.4" r="3.7"/>
<circle cx="715.4" cy="269.6" r="3.7"/>
<circle cx="628.1" cy="283.3" r="3.7"/>
<circle cx="628.6" cy="283.9" r="3.7"/>
<circle cx="627.8" cy="283.4" r="3.7"/>
<circle cx="628.0" cy="283.6" r="3.7"/>
<circle cx="713.5" cy="277.8" r="3.7"/>
<circle cx="713.9" cy="277.5" r="3.7"/>
<circle cx="713.2" cy="278.0" r="3.7"/>
<circle cx="713.4" cy="277.3" r="3.7"/>
<circle cx="514.2" cy="284.7" r="3.7"/>
<circle cx="513.8" cy="284.8" r="3.7"/>
<circle cx="514.3" cy="285.3" r="3.7"/>
<circle cx="514.2" cy="284.9" r="3.7"/>
<circle cx="523.2" cy="295.8" r="3.7"/>
<circle cx="522.8" cy="295.7" r="3.7"/>
<circle cx="541.9" cy="319.4" r="3.7"/>
<circle cx="541.7" cy="319.7" r="3.7"/>
<circle cx="591.9" cy="297.2" r="3.7"/>
<circle cx="601.7" cy="302.8" r="3.7"/>
<circle cx="601.4" cy="302.4" r="3.7"/>
<circle cx="601.0" cy="308.3" r="3.7"/>
<circle cx="619.0" cy="306.9" r="3.7"/>
<circle cx="612.8" cy="316.7" r="3.7"/>
<circle cx="640.6" cy="301.4" r="3.7"/>
<circle cx="651.0" cy="301.4" r="3.7"/>
<circle cx="660.0" cy="302.8" r="3.7"/>
<circle cx="659.8" cy="302.7" r="3.7"/>
<circle cx="659.8" cy="302.9" r="3.7"/>
<circle cx="659.6" cy="303.2" r="3.7"/>
<circle cx="659.3" cy="304.9" r="3.7"/>
<circle cx="659.5" cy="304.9" r="3.7"/>
<circle cx="658.8" cy="304.7" r="3.7"/>
<circle cx="659.5" cy="305.0" r="3.7"/>
<circle cx="633.6" cy="314.6" r="3.7"/>
<circle cx="634.0" cy="315.1" r="3.7"/>
<circle cx="633.4" cy="314.6" r="3.7"/>
<circle cx="633.4" cy="314.1" r="3.7"/>
<circle cx="637.1" cy="318.1" r="3.7"/>
<circle cx="636.7" cy="317.8" r="3.7"/>
<circle cx="640.6" cy="311.8" r="3.7"/>
<circle cx="651.0" cy="311.8" r="3.7"/>
<circle cx="636.4" cy="322.9" r="3.7"/>
<circle cx="641.2" cy="328.5" r="3.7"/>
<circle cx="648.9" cy="327.8" r="3.7"/>
<circle cx="648.4" cy="327.8" r="3.7"/>
<circle cx="649.1" cy="327.9" r="3.7"/>
<circle cx="649.1" cy="327.4" r="3.7"/>
<circle cx="648.9" cy="331.2" r="3.7"/>
<circle cx="648.5" cy="331.3" r="3.7"/>
<circle cx="700.3" cy="300.0" r="3.7"/>
<circle cx="700.7" cy="299.9" r="3.7"/>
<circle cx="686.4" cy="306.2" r="3.7"/>
<circle cx="721.1" cy="327.1" r="3.7"/>
<circle cx="621.1" cy="344.4" r="3.7"/>
<circle cx="620.5" cy="343.9" r="3.7"/>
<circle cx="620.9" cy="344.6" r="3.7"/>
<circle cx="620.6" cy="344.1" r="3.7"/>
<circle cx="636.4" cy="341.7" r="3.7"/>
<circle cx="678.8" cy="345.8" r="3.7"/>
<circle cx="696.8" cy="352.1" r="3.7"/>
<circle cx="697.0" cy="352.7" r="3.7"/>
<circle cx="696.6" cy="352.2" r="3.7"/>
<circle cx="696.8" cy="351.5" r="3.7"/>
<circle cx="698.2" cy="355.6" r="3.7"/>
<circle cx="698.0" cy="355.1" r="3.7"/>
<circle cx="706.5" cy="353.5" r="3.7"/>
<circle cx="677.4" cy="363.2" r="3.7"/>
<circle cx="677.1" cy="363.5" r="3.7"/>
<circle cx="721.1" cy="381.2" r="3.7"/>
<circle cx="702.4" cy="385.4" r="3.7"/>
<circle cx="722.5" cy="412.5" r="3.7"/>
<circle cx="521.1" cy="400.7" r="3.7"/>
<circle cx="521.3" cy="400.1" r="3.7"/>
<circle cx="520.6" cy="401.0" r="3.7"/>
<circle cx="520.6" cy="400.5" r="3.7"/>
<circle cx="500.3" cy="406.2" r="3.7"/>
<circle cx="500.0" cy="405.7" r="3.7"/>
<circle cx="505.8" cy="407.6" r="3.7"/>
<circle cx="505.3" cy="407.2" r="3.7"/>
<circle cx="510.7" cy="417.4" r="3.7"/>
<circle cx="510.6" cy="417.9" r="3.7"/>
<circle cx="519.7" cy="423.6" r="3.7"/>
<circle cx="558.6" cy="413.9" r="3.7"/>
<circle cx="558.8" cy="413.6" r="3.7"/>
<circle cx="557.9" cy="416.0" r="3.7"/>
<circle cx="558.6" cy="422.2" r="3.7"/>
<circle cx="558.8" cy="422.0" r="3.7"/>
<circle cx="558.6" cy="422.0" r="3.7"/>
<circle cx="559.1" cy="422.0" r="3.7"/>
<circle cx="562.8" cy="429.2" r="3.7"/>
<circle cx="563.5" cy="434.0" r="3.7"/>
<circle cx="563.8" cy="434.2" r="3.7"/>
<circle cx="563.9" cy="434.2" r="3.7"/>
<circle cx="563.9" cy="433.9" r="3.7"/>
<circle cx="564.2" cy="451.4" r="3.7"/>
<circle cx="564.4" cy="451.5" r="3.7"/>
<circle cx="564.2" cy="451.5" r="3.7"/>
<circle cx="564.2" cy="451.3" r="3.7"/>
<circle cx="548.2" cy="452.8" r="3.7"/>
<circle cx="548.7" cy="452.9" r="3.7"/>
<circle cx="539.2" cy="460.4" r="3.7"/>
<circle cx="592.6" cy="446.5" r="3.7"/>
<circle cx="545.4" cy="478.5" r="3.7"/>
<circle cx="541.9" cy="481.9" r="3.7"/>
<circle cx="542.6" cy="491.0" r="3.7"/>
<circle cx="542.7" cy="490.4" r="3.7"/>
<circle cx="589.9" cy="478.5" r="3.7"/>
<circle cx="589.9" cy="478.1" r="3.7"/>
<circle cx="589.5" cy="478.4" r="3.7"/>
<circle cx="589.9" cy="478.2" r="3.7"/>
<circle cx="746.1" cy="218.1" r="3.7"/>
<circle cx="754.4" cy="219.4" r="3.7"/>
<circle cx="758.6" cy="218.8" r="3.7"/>
<circle cx="758.3" cy="218.8" r="3.7"/>
<circle cx="758.6" cy="218.6" r="3.7"/>
<circle cx="758.1" cy="218.6" r="3.7"/>
<circle cx="775.3" cy="278.5" r="3.7"/>
<circle cx="739.2" cy="296.5" r="3.7"/>
<circle cx="751.7" cy="295.1" r="3.7"/>
<circle cx="751.9" cy="295.2" r="3.7"/>
<circle cx="751.7" cy="295.6" r="3.7"/>
<circle cx="751.9" cy="295.4" r="3.7"/>
<circle cx="766.9" cy="288.2" r="3.7"/>
<circle cx="766.4" cy="288.0" r="3.7"/>
<circle cx="767.2" cy="287.8" r="3.7"/>
<circle cx="767.4" cy="287.8" r="3.7"/>
<circle cx="771.8" cy="288.2" r="3.7"/>
<circle cx="787.8" cy="293.1" r="3.7"/>
<circle cx="788.2" cy="292.7" r="3.7"/>
<circle cx="788.2" cy="293.5" r="3.7"/>
<circle cx="787.6" cy="293.5" r="3.7"/>
<circle cx="816.9" cy="297.2" r="3.7"/>
<circle cx="816.5" cy="297.6" r="3.7"/>
<circle cx="810.7" cy="306.9" r="3.7"/>
<circle cx="827.4" cy="302.1" r="3.7"/>
<circle cx="835.0" cy="309.7" r="3.7"/>
<circle cx="834.9" cy="309.6" r="3.7"/>
<circle cx="834.5" cy="309.8" r="3.7"/>
<circle cx="834.7" cy="309.9" r="3.7"/>
<circle cx="823.9" cy="315.3" r="3.7"/>
<circle cx="792.6" cy="313.9" r="3.7"/>
<circle cx="793.0" cy="314.0" r="3.7"/>
<circle cx="792.0" cy="314.4" r="3.7"/>
<circle cx="793.1" cy="314.1" r="3.7"/>
<circle cx="773.9" cy="322.9" r="3.7"/>
<circle cx="773.7" cy="323.0" r="3.7"/>
<circle cx="768.3" cy="334.0" r="3.7"/>
<circle cx="768.8" cy="334.0" r="3.7"/>
<circle cx="824.6" cy="337.5" r="3.7"/>
<circle cx="824.9" cy="337.6" r="3.7"/>
<circle cx="824.5" cy="338.0" r="3.7"/>
<circle cx="824.5" cy="337.6" r="3.7"/>
<circle cx="787.1" cy="349.3" r="3.7"/>
<circle cx="808.6" cy="347.9" r="3.7"/>
<circle cx="808.1" cy="347.9" r="3.7"/>
<circle cx="808.1" cy="348.2" r="3.7"/>
<circle cx="808.0" cy="347.4" r="3.7"/>
<circle cx="807.2" cy="358.3" r="3.7"/>
<circle cx="806.8" cy="357.9" r="3.7"/>
<circle cx="807.2" cy="358.2" r="3.7"/>
<circle cx="806.9" cy="358.9" r="3.7"/>
<circle cx="806.5" cy="354.2" r="3.7"/>
<circle cx="737.8" cy="356.2" r="3.7"/>
<circle cx="738.3" cy="356.4" r="3.7"/>
<circle cx="737.8" cy="359.0" r="3.7"/>
<circle cx="782.2" cy="367.4" r="3.7"/>
<circle cx="787.1" cy="373.6" r="3.7"/>
<circle cx="787.4" cy="374.0" r="3.7"/>
<circle cx="786.8" cy="374.0" r="3.7"/>
<circle cx="786.8" cy="373.7" r="3.7"/>
<circle cx="807.2" cy="372.2" r="3.7"/>
<circle cx="754.4" cy="379.2" r="3.7"/>
<circle cx="754.3" cy="378.8" r="3.7"/>
<circle cx="755.1" cy="383.3" r="3.7"/>
<circle cx="755.5" cy="383.8" r="3.7"/>
<circle cx="735.0" cy="379.2" r="3.7"/>
<circle cx="734.8" cy="379.6" r="3.7"/>
<circle cx="734.8" cy="379.4" r="3.7"/>
<circle cx="735.6" cy="379.5" r="3.7"/>
<circle cx="740.6" cy="397.9" r="3.7"/>
<circle cx="812.1" cy="388.2" r="3.7"/>
<circle cx="838.5" cy="383.3" r="3.7"/>
<circle cx="837.9" cy="383.3" r="3.7"/>
<circle cx="838.3" cy="383.1" r="3.7"/>
<circle cx="838.9" cy="383.3" r="3.7"/>
<circle cx="838.5" cy="401.4" r="3.7"/>
<circle cx="768.3" cy="409.7" r="3.7"/>
<circle cx="789.2" cy="407.6" r="3.7"/>
<circle cx="789.2" cy="416.7" r="3.7"/>
<circle cx="737.8" cy="413.9" r="3.7"/>
<circle cx="737.8" cy="419.4" r="3.7"/>
<circle cx="834.3" cy="423.6" r="3.7"/>
<circle cx="834.5" cy="423.8" r="3.7"/>
<circle cx="834.3" cy="423.1" r="3.7"/>
<circle cx="834.5" cy="424.1" r="3.7"/>
<circle cx="863.5" cy="362.5" r="3.7"/>
<circle cx="863.1" cy="362.7" r="3.7"/>
<circle cx="863.5" cy="362.3" r="3.7"/>
<circle cx="863.7" cy="363.1" r="3.7"/>
<circle cx="869.7" cy="362.5" r="3.7"/>
<circle cx="871.8" cy="335.4" r="3.7"/>
<circle cx="871.2" cy="335.9" r="3.7"/>
<circle cx="880.8" cy="338.2" r="3.7"/>
<circle cx="854.4" cy="348.6" r="3.7"/>
<circle cx="878.1" cy="356.9" r="3.7"/>
<circle cx="877.9" cy="357.3" r="3.7"/>
<circle cx="890.6" cy="355.6" r="3.7"/>
<circle cx="890.2" cy="355.8" r="3.7"/>
<circle cx="890.1" cy="355.4" r="3.7"/>
<circle cx="891.1" cy="355.7" r="3.7"/>
<circle cx="896.1" cy="363.9" r="3.7"/>
<circle cx="913.5" cy="363.9" r="3.7"/>
<circle cx="925.3" cy="360.4" r="3.7"/>
<circle cx="925.6" cy="360.4" r="3.7"/>
<circle cx="927.4" cy="365.3" r="3.7"/>
<circle cx="927.3" cy="365.3" r="3.7"/>
<circle cx="890.6" cy="370.8" r="3.7"/>
<circle cx="896.8" cy="380.6" r="3.7"/>
<circle cx="897.1" cy="380.8" r="3.7"/>
<circle cx="896.4" cy="380.5" r="3.7"/>
<circle cx="896.9" cy="380.6" r="3.7"/>
<circle cx="878.1" cy="383.3" r="3.7"/>
<circle cx="876.0" cy="391.0" r="3.7"/>
<circle cx="889.2" cy="390.3" r="3.7"/>
<circle cx="911.4" cy="380.6" r="3.7"/>
<circle cx="911.9" cy="381.0" r="3.7"/>
<circle cx="911.0" cy="380.4" r="3.7"/>
<circle cx="910.9" cy="380.0" r="3.7"/>
<circle cx="912.8" cy="375.0" r="3.7"/>
<circle cx="912.3" cy="374.6" r="3.7"/>
<circle cx="912.1" cy="391.7" r="3.7"/>
<circle cx="912.4" cy="391.9" r="3.7"/>
<circle cx="912.4" cy="391.4" r="3.7"/>
<circle cx="911.7" cy="392.2" r="3.7"/>
<circle cx="911.4" cy="400.0" r="3.7"/>
<circle cx="911.8" cy="400.5" r="3.7"/>
<circle cx="910.8" cy="399.9" r="3.7"/>
<circle cx="911.5" cy="400.3" r="3.7"/>
<circle cx="910.7" cy="410.4" r="3.7"/>
<circle cx="911.2" cy="410.5" r="3.7"/>
<circle cx="910.6" cy="409.8" r="3.7"/>
<circle cx="911.1" cy="411.0" r="3.7"/>
<circle cx="919.7" cy="393.1" r="3.7"/>
<circle cx="920.2" cy="393.3" r="3.7"/>
<circle cx="923.2" cy="400.0" r="3.7"/>
<circle cx="932.2" cy="372.2" r="3.7"/>
<circle cx="939.2" cy="373.6" r="3.7"/>
<circle cx="945.4" cy="375.7" r="3.7"/>
<circle cx="932.9" cy="384.0" r="3.7"/>
<circle cx="866.2" cy="393.1" r="3.7"/>
<circle cx="866.1" cy="392.7" r="3.7"/>
<circle cx="866.6" cy="393.6" r="3.7"/>
<circle cx="866.8" cy="392.7" r="3.7"/>
<circle cx="860.0" cy="399.3" r="3.7"/>
<circle cx="891.9" cy="416.7" r="3.7"/>
<circle cx="892.0" cy="416.7" r="3.7"/>
<circle cx="884.3" cy="415.3" r="3.7"/>
<circle cx="921.8" cy="416.0" r="3.7"/>
<circle cx="944.7" cy="337.5" r="3.7"/>
<circle cx="944.6" cy="337.9" r="3.7"/>
<circle cx="949.6" cy="352.1" r="3.7"/>
<circle cx="966.2" cy="349.3" r="3.7"/>
<circle cx="966.8" cy="349.6" r="3.7"/>
<circle cx="944.7" cy="360.4" r="3.7"/>
<circle cx="945.0" cy="360.6" r="3.7"/>
<circle cx="951.7" cy="362.5" r="3.7"/>
<circle cx="951.0" cy="369.4" r="3.7"/>
<circle cx="951.2" cy="369.5" r="3.7"/>
<circle cx="950.7" cy="369.8" r="3.7"/>
<circle cx="950.5" cy="369.6" r="3.7"/>
<circle cx="965.6" cy="359.0" r="3.7"/>
<circle cx="962.8" cy="366.7" r="3.7"/>
<circle cx="962.6" cy="366.7" r="3.7"/>
<circle cx="962.9" cy="366.6" r="3.7"/>
<circle cx="963.4" cy="366.4" r="3.7"/>
<circle cx="961.4" cy="378.5" r="3.7"/>
<circle cx="960.8" cy="379.0" r="3.7"/>
<circle cx="961.2" cy="378.2" r="3.7"/>
<circle cx="961.3" cy="378.6" r="3.7"/>
<circle cx="971.1" cy="366.7" r="3.7"/>
<circle cx="971.7" cy="366.9" r="3.7"/>
<circle cx="970.9" cy="366.7" r="3.7"/>
<circle cx="971.0" cy="366.7" r="3.7"/>
<circle cx="973.9" cy="359.7" r="3.7"/>
<circle cx="973.8" cy="359.3" r="3.7"/>
<circle cx="973.8" cy="359.6" r="3.7"/>
<circle cx="973.5" cy="360.1" r="3.7"/>
<circle cx="969.7" cy="372.2" r="3.7"/>
<circle cx="969.6" cy="371.8" r="3.7"/>
<circle cx="969.8" cy="372.6" r="3.7"/>
<circle cx="970.1" cy="372.4" r="3.7"/>
<circle cx="979.4" cy="372.2" r="3.7"/>
<circle cx="979.7" cy="372.0" r="3.7"/>
<circle cx="979.0" cy="371.9" r="3.7"/>
<circle cx="979.3" cy="372.0" r="3.7"/>
<circle cx="944.0" cy="391.0" r="3.7"/>
<circle cx="944.0" cy="390.6" r="3.7"/>
<circle cx="943.3" cy="395.8" r="3.7"/>
<circle cx="953.1" cy="395.8" r="3.7"/>
<circle cx="952.6" cy="395.5" r="3.7"/>
<circle cx="952.7" cy="396.2" r="3.7"/>
<circle cx="953.1" cy="395.5" r="3.7"/>
<circle cx="954.4" cy="388.9" r="3.7"/>
<circle cx="954.4" cy="389.3" r="3.7"/>
<circle cx="982.2" cy="390.3" r="3.7"/>
<circle cx="982.3" cy="390.3" r="3.7"/>
<circle cx="982.1" cy="389.9" r="3.7"/>
<circle cx="982.4" cy="389.8" r="3.7"/>
<circle cx="971.1" cy="401.4" r="3.7"/>
<circle cx="962.8" cy="408.3" r="3.7"/>
<circle cx="963.1" cy="407.8" r="3.7"/>
<circle cx="969.7" cy="409.7" r="3.7"/>
<circle cx="979.4" cy="408.3" r="3.7"/>
<circle cx="979.7" cy="408.2" r="3.7"/>
<circle cx="935.0" cy="420.8" r="3.7"/>
<circle cx="935.2" cy="420.9" r="3.7"/>
<circle cx="934.6" cy="420.9" r="3.7"/>
<circle cx="934.5" cy="420.5" r="3.7"/>
<circle cx="946.1" cy="419.4" r="3.7"/>
<circle cx="946.0" cy="419.2" r="3.7"/>
<circle cx="957.2" cy="420.8" r="3.7"/>
<circle cx="957.4" cy="421.4" r="3.7"/>
<circle cx="957.1" cy="421.2" r="3.7"/>
<circle cx="956.9" cy="421.1" r="3.7"/>
<circle cx="964.2" cy="419.4" r="3.7"/>
<circle cx="964.0" cy="419.5" r="3.7"/>
<circle cx="963.7" cy="419.8" r="3.7"/>
<circle cx="963.8" cy="419.4" r="3.7"/>
<circle cx="914.2" cy="422.2" r="3.7"/>
<circle cx="913.9" cy="422.6" r="3.7"/>
<circle cx="901.7" cy="423.6" r="3.7"/>
<circle cx="901.8" cy="423.7" r="3.7"/>
<circle cx="902.0" cy="423.3" r="3.7"/>
<circle cx="901.1" cy="424.0" r="3.7"/>
<circle cx="864.9" cy="425.0" r="3.7"/>
<circle cx="955.8" cy="402.8" r="3.7"/>
<circle cx="955.6" cy="403.2" r="3.7"/>
<circle cx="958.6" cy="400.0" r="3.7"/>
<circle cx="959.2" cy="400.2" r="3.7"/>
<circle cx="971.1" cy="386.1" r="3.7"/>
<circle cx="970.6" cy="386.5" r="3.7"/>
<circle cx="971.3" cy="385.8" r="3.7"/>
<circle cx="970.8" cy="386.1" r="3.7"/>
<circle cx="794.0" cy="433.3" r="3.7"/>
<circle cx="793.6" cy="433.8" r="3.7"/>
<circle cx="794.3" cy="433.7" r="3.7"/>
<circle cx="793.9" cy="433.8" r="3.7"/>
<circle cx="814.2" cy="434.0" r="3.7"/>
<circle cx="808.6" cy="441.7" r="3.7"/>
<circle cx="806.5" cy="462.5" r="3.7"/>
<circle cx="834.3" cy="426.4" r="3.7"/>
<circle cx="833.9" cy="426.6" r="3.7"/>
<circle cx="864.9" cy="427.8" r="3.7"/>
<circle cx="864.6" cy="427.2" r="3.7"/>
<circle cx="864.4" cy="427.4" r="3.7"/>
<circle cx="865.2" cy="427.6" r="3.7"/>
<circle cx="864.9" cy="434.0" r="3.7"/>
<circle cx="864.8" cy="434.2" r="3.7"/>
<circle cx="864.6" cy="434.2" r="3.7"/>
<circle cx="865.1" cy="434.5" r="3.7"/>
<circle cx="864.2" cy="438.9" r="3.7"/>
<circle cx="864.2" cy="439.3" r="3.7"/>
<circle cx="891.9" cy="432.6" r="3.7"/>
<circle cx="914.2" cy="441.7" r="3.7"/>
<circle cx="922.5" cy="445.8" r="3.7"/>
<circle cx="934.3" cy="435.4" r="3.7"/>
<circle cx="933.6" cy="427.8" r="3.7"/>
<circle cx="934.2" cy="428.1" r="3.7"/>
<circle cx="933.5" cy="427.5" r="3.7"/>
<circle cx="933.1" cy="428.2" r="3.7"/>
<circle cx="977.4" cy="438.9" r="3.7"/>
<circle cx="976.9" cy="439.0" r="3.7"/>
<circle cx="965.6" cy="450.7" r="3.7"/>
<circle cx="965.5" cy="450.1" r="3.7"/>
<circle cx="965.2" cy="451.1" r="3.7"/>
<circle cx="965.6" cy="451.2" r="3.7"/>
<circle cx="971.1" cy="454.2" r="3.7"/>
<circle cx="971.6" cy="453.7" r="3.7"/>
<circle cx="971.3" cy="453.6" r="3.7"/>
<circle cx="971.0" cy="454.1" r="3.7"/>
<circle cx="982.2" cy="455.6" r="3.7"/>
<circle cx="982.8" cy="455.7" r="3.7"/>
<circle cx="981.9" cy="455.6" r="3.7"/>
<circle cx="982.2" cy="455.2" r="3.7"/>
<circle cx="934.3" cy="459.7" r="3.7"/>
<circle cx="934.1" cy="460.2" r="3.7"/>
<circle cx="896.8" cy="466.7" r="3.7"/>
<circle cx="896.1" cy="477.8" r="3.7"/>
<circle cx="896.7" cy="478.1" r="3.7"/>
<circle cx="895.6" cy="478.3" r="3.7"/>
<circle cx="896.1" cy="478.2" r="3.7"/>
<circle cx="901.7" cy="479.2" r="3.7"/>
<circle cx="901.3" cy="478.7" r="3.7"/>
<circle cx="898.9" cy="484.7" r="3.7"/>
<circle cx="899.4" cy="484.5" r="3.7"/>
<circle cx="898.3" cy="484.7" r="3.7"/>
<circle cx="899.5" cy="485.1" r="3.7"/>
<circle cx="902.4" cy="486.1" r="3.7"/>
<circle cx="902.2" cy="486.7" r="3.7"/>
<circle cx="918.3" cy="468.1" r="3.7"/>
<circle cx="918.7" cy="468.5" r="3.7"/>
<circle cx="918.5" cy="467.9" r="3.7"/>
<circle cx="918.8" cy="468.0" r="3.7"/>
<circle cx="919.7" cy="491.7" r="3.7"/>
<circle cx="920.2" cy="491.7" r="3.7"/>
<circle cx="920.2" cy="491.6" r="3.7"/>
<circle cx="919.6" cy="491.8" r="3.7"/>
<circle cx="923.9" cy="491.7" r="3.7"/>
<circle cx="923.7" cy="491.2" r="3.7"/>
<circle cx="907.2" cy="490.3" r="3.7"/>
<circle cx="907.2" cy="495.1" r="3.7"/>
<circle cx="943.3" cy="484.0" r="3.7"/>
<circle cx="945.4" cy="498.6" r="3.7"/>
<circle cx="945.5" cy="499.0" r="3.7"/>
<circle cx="945.1" cy="499.0" r="3.7"/>
<circle cx="945.8" cy="498.9" r="3.7"/>
<circle cx="945.4" cy="502.8" r="3.7"/>
<circle cx="945.3" cy="503.4" r="3.7"/>
<circle cx="912.1" cy="505.6" r="3.7"/>
<circle cx="912.4" cy="505.6" r="3.7"/>
<circle cx="911.6" cy="505.6" r="3.7"/>
<circle cx="911.5" cy="506.0" r="3.7"/>
<circle cx="912.8" cy="511.1" r="3.7"/>
<circle cx="919.7" cy="520.8" r="3.7"/>
<circle cx="930.8" cy="512.5" r="3.7"/>
<circle cx="930.6" cy="512.3" r="3.7"/>
<circle cx="930.9" cy="512.7" r="3.7"/>
<circle cx="930.9" cy="512.5" r="3.7"/>
<circle cx="945.4" cy="511.8" r="3.7"/>
<circle cx="945.6" cy="512.2" r="3.7"/>
<circle cx="945.4" cy="511.8" r="3.7"/>
<circle cx="945.8" cy="511.2" r="3.7"/>
<circle cx="898.9" cy="527.1" r="3.7"/>
<circle cx="898.5" cy="526.9" r="3.7"/>
<circle cx="965.6" cy="495.8" r="3.7"/>
<circle cx="962.1" cy="504.2" r="3.7"/>
<circle cx="968.3" cy="470.8" r="3.7"/>
<circle cx="968.0" cy="471.3" r="3.7"/>
<circle cx="967.9" cy="470.4" r="3.7"/>
<circle cx="968.1" cy="470.8" r="3.7"/>
<circle cx="973.9" cy="466.7" r="3.7"/>
<circle cx="974.3" cy="467.3" r="3.7"/>
<circle cx="974.3" cy="466.8" r="3.7"/>
<circle cx="973.3" cy="466.1" r="3.7"/>
<circle cx="961.4" cy="540.3" r="3.7"/>
<circle cx="961.5" cy="540.7" r="3.7"/>
<circle cx="961.1" cy="540.8" r="3.7"/>
<circle cx="961.4" cy="540.4" r="3.7"/>
<circle cx="962.1" cy="545.8" r="3.7"/>
<circle cx="962.2" cy="545.3" r="3.7"/>
<circle cx="961.7" cy="546.4" r="3.7"/>
<circle cx="961.8" cy="545.3" r="3.7"/>
<circle cx="957.2" cy="547.9" r="3.7"/>
<circle cx="962.1" cy="556.9" r="3.7"/>
<circle cx="961.8" cy="557.2" r="3.7"/>
<circle cx="961.8" cy="556.6" r="3.7"/>
<circle cx="961.8" cy="556.9" r="3.7"/>
<circle cx="955.8" cy="517.4" r="3.7"/>
<circle cx="956.1" cy="517.1" r="3.7"/>
<circle cx="976.7" cy="536.1" r="3.7"/>
<circle cx="977.1" cy="536.7" r="3.7"/>
<circle cx="977.1" cy="535.6" r="3.7"/>
<circle cx="976.4" cy="536.6" r="3.7"/>
<circle cx="976.7" cy="547.2" r="3.7"/>
<circle cx="977.1" cy="546.8" r="3.7"/>
<circle cx="976.6" cy="547.1" r="3.7"/>
<circle cx="977.0" cy="546.7" r="3.7"/>
<circle cx="914.9" cy="550.0" r="3.7"/>
<circle cx="913.5" cy="557.6" r="3.7"/>
<circle cx="913.3" cy="557.9" r="3.7"/>
<circle cx="913.5" cy="566.7" r="3.7"/>
<circle cx="913.9" cy="566.1" r="3.7"/>
<circle cx="913.6" cy="566.9" r="3.7"/>
<circle cx="913.9" cy="566.6" r="3.7"/>
<circle cx="914.9" cy="572.2" r="3.7"/>
<circle cx="935.0" cy="556.9" r="3.7"/>
<circle cx="957.9" cy="565.3" r="3.7"/>
<circle cx="958.5" cy="564.9" r="3.7"/>
<circle cx="962.1" cy="571.5" r="3.7"/>
<circle cx="823.9" cy="618.1" r="3.7"/>
<circle cx="823.4" cy="617.6" r="3.7"/>
<circle cx="824.0" cy="617.6" r="3.7"/>
<circle cx="823.6" cy="617.7" r="3.7"/>
<circle cx="828.8" cy="622.9" r="3.7"/>
<circle cx="828.1" cy="629.2" r="3.7"/>
<circle cx="827.5" cy="629.7" r="3.7"/>
<circle cx="827.9" cy="629.7" r="3.7"/>
<circle cx="828.3" cy="628.8" r="3.7"/>
<circle cx="810.7" cy="628.5" r="3.7"/>
<circle cx="811.2" cy="627.9" r="3.7"/>
<circle cx="811.3" cy="627.9" r="3.7"/>
<circle cx="810.4" cy="628.5" r="3.7"/>
<circle cx="847.5" cy="621.5" r="3.7"/>
<circle cx="846.9" cy="621.8" r="3.7"/>
<circle cx="847.0" cy="621.9" r="3.7"/>
<circle cx="846.9" cy="621.6" r="3.7"/>
<circle cx="857.2" cy="630.6" r="3.7"/>
<circle cx="856.9" cy="630.3" r="3.7"/>
<circle cx="857.2" cy="630.4" r="3.7"/>
<circle cx="857.1" cy="630.7" r="3.7"/>
<circle cx="855.1" cy="640.3" r="3.7"/>
<circle cx="854.8" cy="639.9" r="3.7"/>
<circle cx="855.1" cy="643.1" r="3.7"/>
<circle cx="855.4" cy="642.8" r="3.7"/>
<circle cx="814.9" cy="643.1" r="3.7"/>
<circle cx="815.4" cy="643.0" r="3.7"/>
<circle cx="814.8" cy="642.5" r="3.7"/>
<circle cx="814.3" cy="642.6" r="3.7"/>
<circle cx="819.0" cy="643.1" r="3.7"/>
<circle cx="806.5" cy="650.0" r="3.7"/>
<circle cx="806.5" cy="655.6" r="3.7"/>
<circle cx="801.7" cy="665.3" r="3.7"/>
<circle cx="801.8" cy="665.5" r="3.7"/>
<circle cx="811.4" cy="667.4" r="3.7"/>
<circle cx="811.9" cy="667.3" r="3.7"/>
<circle cx="801.7" cy="672.2" r="3.7"/>
<circle cx="801.9" cy="672.0" r="3.7"/>
<circle cx="801.2" cy="672.1" r="3.7"/>
<circle cx="801.9" cy="672.6" r="3.7"/>
<circle cx="805.8" cy="672.2" r="3.7"/>
<circle cx="806.4" cy="672.6" r="3.7"/>
<circle cx="805.9" cy="672.3" r="3.7"/>
<circle cx="805.8" cy="672.2" r="3.7"/>
<circle cx="810.7" cy="673.6" r="3.7"/>
<circle cx="810.9" cy="673.7" r="3.7"/>
<circle cx="805.1" cy="691.0" r="3.7"/>
<circle cx="805.6" cy="690.9" r="3.7"/>
<circle cx="805.1" cy="691.4" r="3.7"/>
<circle cx="805.3" cy="691.0" r="3.7"/>
<circle cx="795.4" cy="701.4" r="3.7"/>
<circle cx="807.2" cy="704.2" r="3.7"/>
<circle cx="807.3" cy="704.5" r="3.7"/>
<circle cx="807.4" cy="703.9" r="3.7"/>
<circle cx="807.0" cy="704.3" r="3.7"/>
<circle cx="804.4" cy="720.8" r="3.7"/>
<circle cx="803.9" cy="720.8" r="3.7"/>
<circle cx="826.0" cy="711.8" r="3.7"/>
<circle cx="853.1" cy="665.3" r="3.7"/>
<circle cx="853.8" cy="671.5" r="3.7"/>
<circle cx="854.2" cy="671.2" r="3.7"/>
<circle cx="853.7" cy="671.8" r="3.7"/>
<circle cx="854.3" cy="671.8" r="3.7"/>
<circle cx="856.5" cy="674.3" r="3.7"/>
<circle cx="857.2" cy="680.6" r="3.7"/>
<circle cx="864.9" cy="661.1" r="3.7"/>
<circle cx="877.4" cy="609.7" r="3.7"/>
<circle cx="912.8" cy="582.6" r="3.7"/>
<circle cx="912.9" cy="582.5" r="3.7"/>
<circle cx="912.7" cy="582.8" r="3.7"/>
<circle cx="912.6" cy="583.0" r="3.7"/>
<circle cx="912.8" cy="600.0" r="3.7"/>
<circle cx="912.2" cy="600.3" r="3.7"/>
<circle cx="913.1" cy="599.8" r="3.7"/>
<circle cx="912.2" cy="599.8" r="3.7"/>
<circle cx="914.9" cy="575.0" r="3.7"/>
<circle cx="915.0" cy="575.3" r="3.7"/>
<circle cx="907.2" cy="611.8" r="3.7"/>
<circle cx="907.7" cy="611.5" r="3.7"/>
<circle cx="906.7" cy="611.3" r="3.7"/>
<circle cx="907.8" cy="612.0" r="3.7"/>
<circle cx="913.5" cy="610.4" r="3.7"/>
<circle cx="894.0" cy="687.5" r="3.7"/>
<circle cx="893.6" cy="687.7" r="3.7"/>
<circle cx="894.6" cy="687.6" r="3.7"/>
<circle cx="893.7" cy="688.1" r="3.7"/>
<circle cx="909.3" cy="665.3" r="3.7"/>
<circle cx="928.8" cy="652.8" r="3.7"/>
<circle cx="929.0" cy="652.4" r="3.7"/>
<circle cx="929.4" cy="662.5" r="3.7"/>
<circle cx="929.8" cy="662.5" r="3.7"/>
<circle cx="929.5" cy="662.3" r="3.7"/>
<circle cx="929.2" cy="662.4" r="3.7"/>
<circle cx="946.1" cy="670.8" r="3.7"/>
<circle cx="960.0" cy="674.3" r="3.7"/>
<circle cx="953.1" cy="609.7" r="3.7"/>
<circle cx="953.1" cy="609.7" r="3.7"/>
<circle cx="953.5" cy="609.2" r="3.7"/>
<circle cx="952.7" cy="610.2" r="3.7"/>
<circle cx="952.4" cy="623.6" r="3.7"/>
<circle cx="952.5" cy="623.8" r="3.7"/>
<circle cx="952.5" cy="623.3" r="3.7"/>
<circle cx="952.2" cy="623.3" r="3.7"/>
<circle cx="947.5" cy="633.3" r="3.7"/>
<circle cx="947.1" cy="633.9" r="3.7"/>
<circle cx="948.2" cy="637.5" r="3.7"/>
<circle cx="948.5" cy="638.0" r="3.7"/>
<circle cx="947.6" cy="637.7" r="3.7"/>
<circle cx="948.0" cy="637.5" r="3.7"/>
<circle cx="944.0" cy="595.1" r="3.7"/>
<circle cx="951.7" cy="588.2" r="3.7"/>
<circle cx="951.9" cy="587.6" r="3.7"/>
<circle cx="951.5" cy="588.3" r="3.7"/>
<circle cx="952.1" cy="588.2" r="3.7"/>
<circle cx="951.0" cy="580.6" r="3.7"/>
<circle cx="950.8" cy="580.7" r="3.7"/>
<circle cx="958.6" cy="579.2" r="3.7"/>
<circle cx="958.7" cy="578.9" r="3.7"/>
<circle cx="952.4" cy="593.1" r="3.7"/>
<circle cx="979.4" cy="579.9" r="3.7"/>
<circle cx="971.8" cy="647.9" r="3.7"/>
<circle cx="971.9" cy="647.6" r="3.7"/>
<circle cx="977.4" cy="680.6" r="3.7"/>
<circle cx="1001.7" cy="347.2" r="3.7"/>
<circle cx="1010.7" cy="350.0" r="3.7"/>
<circle cx="1010.1" cy="349.8" r="3.7"/>
<circle cx="1010.2" cy="350.0" r="3.7"/>
<circle cx="1010.7" cy="350.4" r="3.7"/>
<circle cx="987.1" cy="358.3" r="3.7"/>
<circle cx="985.0" cy="362.5" r="3.7"/>
<circle cx="985.3" cy="362.8" r="3.7"/>
<circle cx="985.6" cy="362.2" r="3.7"/>
<circle cx="984.8" cy="362.2" r="3.7"/>
<circle cx="995.4" cy="355.6" r="3.7"/>
<circle cx="994.9" cy="355.6" r="3.7"/>
<circle cx="995.4" cy="355.1" r="3.7"/>
<circle cx="995.9" cy="356.1" r="3.7"/>
<circle cx="1004.4" cy="356.2" r="3.7"/>
<circle cx="1003.9" cy="355.7" r="3.7"/>
<circle cx="1003.9" cy="356.5" r="3.7"/>
<circle cx="1004.9" cy="355.7" r="3.7"/>
<circle cx="1014.2" cy="359.7" r="3.7"/>
<circle cx="1019.0" cy="361.8" r="3.7"/>
<circle cx="1003.1" cy="364.6" r="3.7"/>
<circle cx="1002.5" cy="364.6" r="3.7"/>
<circle cx="1002.9" cy="364.0" r="3.7"/>
<circle cx="1002.5" cy="364.2" r="3.7"/>
<circle cx="1012.1" cy="366.7" r="3.7"/>
<circle cx="1011.7" cy="366.4" r="3.7"/>
<circle cx="1012.1" cy="366.4" r="3.7"/>
<circle cx="1011.8" cy="366.3" r="3.7"/>
<circle cx="1021.8" cy="369.4" r="3.7"/>
<circle cx="1022.3" cy="369.1" r="3.7"/>
<circle cx="1021.9" cy="369.4" r="3.7"/>
<circle cx="1021.6" cy="369.3" r="3.7"/>
<circle cx="1021.1" cy="375.0" r="3.7"/>
<circle cx="1002.4" cy="372.2" r="3.7"/>
<circle cx="1001.8" cy="371.8" r="3.7"/>
<circle cx="1002.5" cy="372.5" r="3.7"/>
<circle cx="1002.0" cy="371.8" r="3.7"/>
<circle cx="989.2" cy="383.3" r="3.7"/>
<circle cx="989.7" cy="382.9" r="3.7"/>
<circle cx="998.9" cy="379.2" r="3.7"/>
<circle cx="999.2" cy="379.6" r="3.7"/>
<circle cx="998.5" cy="379.6" r="3.7"/>
<circle cx="998.5" cy="378.6" r="3.7"/>
<circle cx="1007.2" cy="381.9" r="3.7"/>
<circle cx="1007.0" cy="381.8" r="3.7"/>
<circle cx="1007.3" cy="381.9" r="3.7"/>
<circle cx="1007.6" cy="382.1" r="3.7"/>
<circle cx="990.6" cy="390.3" r="3.7"/>
<circle cx="990.1" cy="389.9" r="3.7"/>
<circle cx="1032.9" cy="393.1" r="3.7"/>
<circle cx="1033.2" cy="392.6" r="3.7"/>
<circle cx="1033.5" cy="393.4" r="3.7"/>
<circle cx="1032.6" cy="392.8" r="3.7"/>
<circle cx="1025.3" cy="395.8" r="3.7"/>
<circle cx="1025.0" cy="395.7" r="3.7"/>
<circle cx="1025.0" cy="395.3" r="3.7"/>
<circle cx="1025.0" cy="395.5" r="3.7"/>
<circle cx="1014.2" cy="393.8" r="3.7"/>
<circle cx="1014.0" cy="393.7" r="3.7"/>
<circle cx="987.1" cy="405.6" r="3.7"/>
<circle cx="987.5" cy="405.7" r="3.7"/>
<circle cx="987.2" cy="406.0" r="3.7"/>
<circle cx="986.9" cy="405.5" r="3.7"/>
<circle cx="1005.8" cy="413.9" r="3.7"/>
<circle cx="998.9" cy="400.0" r="3.7"/>
<circle cx="998.6" cy="400.4" r="3.7"/>
<circle cx="1026.7" cy="416.7" r="3.7"/>
<circle cx="1027.1" cy="417.2" r="3.7"/>
<circle cx="1026.8" cy="416.2" r="3.7"/>
<circle cx="1026.2" cy="417.0" r="3.7"/>
<circle cx="1035.0" cy="413.9" r="3.7"/>
<circle cx="1036.4" cy="420.8" r="3.7"/>
<circle cx="1036.9" cy="420.9" r="3.7"/>
<circle cx="1045.4" cy="372.9" r="3.7"/>
<circle cx="1043.3" cy="404.9" r="3.7"/>
<circle cx="1068.3" cy="419.4" r="3.7"/>
<circle cx="1068.8" cy="420.0" r="3.7"/>
<circle cx="1068.6" cy="419.3" r="3.7"/>
<circle cx="1068.3" cy="419.3" r="3.7"/>
<circle cx="1071.1" cy="416.7" r="3.7"/>
<circle cx="1071.0" cy="416.6" r="3.7"/>
<circle cx="1087.1" cy="392.4" r="3.7"/>
<circle cx="1085.7" cy="404.2" r="3.7"/>
<circle cx="1085.1" cy="403.7" r="3.7"/>
<circle cx="1085.3" cy="404.2" r="3.7"/>
<circle cx="1086.1" cy="404.4" r="3.7"/>
<circle cx="1091.9" cy="416.0" r="3.7"/>
<circle cx="1091.5" cy="415.9" r="3.7"/>
<circle cx="1092.1" cy="415.5" r="3.7"/>
<circle cx="1091.4" cy="416.1" r="3.7"/>
<circle cx="1086.4" cy="413.9" r="3.7"/>
<circle cx="1086.1" cy="414.1" r="3.7"/>
<circle cx="1086.0" cy="414.3" r="3.7"/>
<circle cx="1086.2" cy="413.8" r="3.7"/>
<circle cx="1165.6" cy="397.2" r="3.7"/>
<circle cx="1166.2" cy="407.6" r="3.7"/>
<circle cx="1166.3" cy="408.1" r="3.7"/>
<circle cx="1166.7" cy="408.1" r="3.7"/>
<circle cx="1166.5" cy="407.1" r="3.7"/>
<circle cx="1166.2" cy="416.7" r="3.7"/>
<circle cx="1216.9" cy="396.5" r="3.7"/>
<circle cx="1209.3" cy="401.4" r="3.7"/>
<circle cx="1203.8" cy="404.9" r="3.7"/>
<circle cx="1203.4" cy="404.9" r="3.7"/>
<circle cx="1204.3" cy="405.1" r="3.7"/>
<circle cx="1203.4" cy="404.7" r="3.7"/>
<circle cx="1208.6" cy="412.5" r="3.7"/>
<circle cx="1209.2" cy="412.5" r="3.7"/>
<circle cx="1209.1" cy="412.9" r="3.7"/>
<circle cx="1208.9" cy="412.7" r="3.7"/>
<circle cx="1203.8" cy="416.0" r="3.7"/>
<circle cx="1223.2" cy="413.9" r="3.7"/>
<circle cx="1223.4" cy="413.7" r="3.7"/>
<circle cx="1222.7" cy="414.4" r="3.7"/>
<circle cx="1222.6" cy="413.6" r="3.7"/>
<circle cx="1233.6" cy="419.4" r="3.7"/>
<circle cx="1233.7" cy="420.0" r="3.7"/>
<circle cx="1233.3" cy="419.1" r="3.7"/>
<circle cx="1234.0" cy="419.2" r="3.7"/>
<circle cx="1204.4" cy="424.3" r="3.7"/>
<circle cx="1204.3" cy="424.1" r="3.7"/>
<circle cx="998.5" cy="447.0" r="3.7"/>
<circle cx="998.9" cy="473.3" r="3.7"/>
<circle cx="1009.1" cy="463.2" r="3.7"/>
<circle cx="1007.0" cy="461.9" r="3.7"/>
<circle cx="989.9" cy="466.8" r="3.7"/>
<circle cx="999.1" cy="471.6" r="3.7"/>
<circle cx="1016.5" cy="460.8" r="3.7"/>
<circle cx="1004.9" cy="471.8" r="3.7"/>
<circle cx="999.6" cy="453.8" r="3.7"/>
<circle cx="1010.1" cy="476.4" r="3.7"/>
<circle cx="1011.9" cy="470.1" r="3.7"/>
<circle cx="1014.6" cy="469.4" r="3.7"/>
<circle cx="1007.3" cy="461.6" r="3.7"/>
<circle cx="995.9" cy="467.6" r="3.7"/>
<circle cx="988.4" cy="460.4" r="3.7"/>
<circle cx="1012.2" cy="470.6" r="3.7"/>
<circle cx="1006.9" cy="454.5" r="3.7"/>
<circle cx="999.7" cy="461.6" r="3.7"/>
<circle cx="1006.6" cy="460.0" r="3.7"/>
<circle cx="1008.4" cy="478.1" r="3.7"/>
<circle cx="991.4" cy="468.6" r="3.7"/>
<circle cx="1012.0" cy="459.3" r="3.7"/>
<circle cx="1002.0" cy="479.7" r="3.7"/>
<circle cx="986.3" cy="464.7" r="3.7"/>
<circle cx="990.6" cy="473.0" r="3.7"/>
<circle cx="1017.7" cy="463.9" r="3.7"/>
<circle cx="988.5" cy="465.8" r="3.7"/>
<circle cx="1003.8" cy="470.7" r="3.7"/>
<circle cx="1002.8" cy="468.0" r="3.7"/>
<circle cx="1013.8" cy="463.9" r="3.7"/>
<circle cx="1025.2" cy="560.1" r="3.7"/>
<circle cx="1015.8" cy="541.1" r="3.7"/>
<circle cx="1024.4" cy="546.8" r="3.7"/>
<circle cx="1022.6" cy="495.8" r="3.7"/>
<circle cx="1018.8" cy="520.5" r="3.7"/>
<circle cx="1006.5" cy="521.9" r="3.7"/>
<circle cx="1025.7" cy="542.1" r="3.7"/>
<circle cx="1022.5" cy="510.8" r="3.7"/>
<circle cx="1016.4" cy="545.2" r="3.7"/>
<circle cx="1050.2" cy="529.7" r="3.7"/>
<circle cx="1016.2" cy="549.6" r="3.7"/>
<circle cx="1024.3" cy="507.0" r="3.7"/>
<circle cx="1011.9" cy="547.8" r="3.7"/>
<circle cx="1044.1" cy="537.5" r="3.7"/>
<circle cx="1028.0" cy="532.3" r="3.7"/>
<circle cx="1022.5" cy="537.8" r="3.7"/>
<circle cx="1044.5" cy="550.6" r="3.7"/>
<circle cx="1027.9" cy="512.9" r="3.7"/>
<circle cx="1031.7" cy="500.7" r="3.7"/>
<circle cx="1045.2" cy="517.3" r="3.7"/>
<circle cx="1046.0" cy="511.0" r="3.7"/>
<circle cx="1023.6" cy="510.0" r="3.7"/>
<circle cx="1026.0" cy="505.1" r="3.7"/>
<circle cx="1019.1" cy="509.4" r="3.7"/>
<circle cx="1020.1" cy="526.3" r="3.7"/>
<circle cx="1026.1" cy="537.7" r="3.7"/>
<circle cx="1037.0" cy="517.8" r="3.7"/>
<circle cx="1048.6" cy="548.3" r="3.7"/>
<circle cx="1012.5" cy="551.7" r="3.7"/>
<circle cx="1036.8" cy="509.7" r="3.7"/>
<circle cx="1016.9" cy="547.7" r="3.7"/>
<circle cx="1022.2" cy="502.7" r="3.7"/>
<circle cx="1048.5" cy="548.8" r="3.7"/>
<circle cx="1034.6" cy="548.1" r="3.7"/>
<circle cx="1037.4" cy="556.2" r="3.7"/>
<circle cx="1043.0" cy="552.2" r="3.7"/>
<circle cx="1015.2" cy="541.7" r="3.7"/>
<circle cx="1030.9" cy="545.2" r="3.7"/>
<circle cx="1026.5" cy="555.4" r="3.7"/>
<circle cx="1032.0" cy="510.8" r="3.7"/>
<circle cx="1016.9" cy="501.7" r="3.7"/>
<circle cx="1029.1" cy="495.9" r="3.7"/>
<circle cx="1027.9" cy="502.1" r="3.7"/>
<circle cx="1029.0" cy="527.6" r="3.7"/>
<circle cx="1031.3" cy="554.0" r="3.7"/>
<circle cx="1027.9" cy="532.3" r="3.7"/>
<circle cx="1037.3" cy="552.4" r="3.7"/>
<circle cx="1023.5" cy="521.9" r="3.7"/>
<circle cx="1035.9" cy="537.6" r="3.7"/>
<circle cx="1007.2" cy="535.7" r="3.7"/>
<circle cx="1038.1" cy="558.9" r="3.7"/>
<circle cx="1029.9" cy="526.7" r="3.7"/>
<circle cx="1039.7" cy="536.8" r="3.7"/>
<circle cx="1021.8" cy="553.9" r="3.7"/>
<circle cx="1023.1" cy="525.9" r="3.7"/>
<circle cx="1030.7" cy="547.3" r="3.7"/>
<circle cx="1015.8" cy="523.1" r="3.7"/>
<circle cx="1025.8" cy="531.7" r="3.7"/>
<circle cx="1044.9" cy="512.8" r="3.7"/>
<circle cx="1044.9" cy="520.8" r="3.7"/>
<circle cx="1029.6" cy="511.3" r="3.7"/>
<circle cx="1029.7" cy="562.1" r="3.7"/>
<circle cx="1036.7" cy="548.9" r="3.7"/>
<circle cx="1021.5" cy="514.6" r="3.7"/>
<circle cx="1020.0" cy="534.0" r="3.7"/>
<circle cx="1035.8" cy="548.3" r="3.7"/>
<circle cx="1047.7" cy="531.1" r="3.7"/>
<circle cx="1008.2" cy="513.4" r="3.7"/>
<circle cx="1049.3" cy="535.6" r="3.7"/>
<circle cx="1036.9" cy="548.7" r="3.7"/>
<circle cx="1048.8" cy="535.8" r="3.7"/>
<circle cx="1035.0" cy="536.9" r="3.7"/>
<circle cx="1038.7" cy="534.7" r="3.7"/>
<circle cx="1038.0" cy="507.0" r="3.7"/>
<circle cx="1037.3" cy="524.7" r="3.7"/>
<circle cx="1041.8" cy="499.0" r="3.7"/>
<circle cx="1042.4" cy="557.7" r="3.7"/>
<circle cx="1036.8" cy="518.3" r="3.7"/>
<circle cx="1044.7" cy="548.5" r="3.7"/>
<circle cx="1032.4" cy="510.3" r="3.7"/>
<circle cx="1020.1" cy="522.1" r="3.7"/>
<circle cx="1020.9" cy="522.8" r="3.7"/>
<circle cx="1036.1" cy="559.1" r="3.7"/>
<circle cx="1008.4" cy="532.7" r="3.7"/>
<circle cx="1044.1" cy="533.2" r="3.7"/>
<circle cx="1049.2" cy="523.9" r="3.7"/>
<circle cx="1069.1" cy="542.7" r="3.7"/>
<circle cx="1101.2" cy="571.7" r="3.7"/>
<circle cx="1122.8" cy="547.3" r="3.7"/>
<circle cx="1091.2" cy="527.6" r="3.7"/>
<circle cx="1104.1" cy="533.4" r="3.7"/>
<circle cx="1108.3" cy="535.0" r="3.7"/>
<circle cx="1109.1" cy="532.1" r="3.7"/>
<circle cx="1108.0" cy="567.4" r="3.7"/>
<circle cx="1108.9" cy="526.7" r="3.7"/>
<circle cx="1103.3" cy="559.7" r="3.7"/>
<circle cx="1093.9" cy="571.4" r="3.7"/>
<circle cx="1085.6" cy="560.7" r="3.7"/>
<circle cx="1077.6" cy="567.7" r="3.7"/>
<circle cx="1095.4" cy="525.4" r="3.7"/>
<circle cx="1088.8" cy="552.6" r="3.7"/>
<circle cx="1092.7" cy="557.9" r="3.7"/>
<circle cx="1076.4" cy="564.3" r="3.7"/>
<circle cx="1088.5" cy="556.3" r="3.7"/>
<circle cx="1103.3" cy="544.3" r="3.7"/>
<circle cx="1089.8" cy="563.7" r="3.7"/>
<circle cx="1099.8" cy="537.7" r="3.7"/>
<circle cx="1107.4" cy="565.9" r="3.7"/>
<circle cx="1086.8" cy="554.2" r="3.7"/>
<circle cx="1101.7" cy="538.5" r="3.7"/>
<circle cx="1092.1" cy="569.1" r="3.7"/>
<circle cx="1089.3" cy="558.4" r="3.7"/>
<circle cx="1101.8" cy="569.5" r="3.7"/>
<circle cx="1113.2" cy="537.2" r="3.7"/>
<circle cx="1091.8" cy="553.2" r="3.7"/>
<circle cx="1113.7" cy="569.1" r="3.7"/>
<circle cx="1113.4" cy="568.0" r="3.7"/>
<circle cx="1100.1" cy="536.7" r="3.7"/>
<circle cx="1115.6" cy="564.8" r="3.7"/>
<circle cx="1106.4" cy="570.4" r="3.7"/>
<circle cx="1087.6" cy="526.7" r="3.7"/>
<circle cx="1099.1" cy="564.3" r="3.7"/>
<circle cx="1079.5" cy="561.8" r="3.7"/>
<circle cx="1102.0" cy="558.0" r="3.7"/>
<circle cx="1094.2" cy="533.1" r="3.7"/>
<circle cx="1082.5" cy="561.9" r="3.7"/>
<circle cx="1112.3" cy="546.5" r="3.7"/>
<circle cx="1111.2" cy="534.5" r="3.7"/>
<circle cx="1100.5" cy="569.6" r="3.7"/>
<circle cx="1117.5" cy="549.8" r="3.7"/>
<circle cx="1094.8" cy="553.3" r="3.7"/>
<circle cx="1078.8" cy="532.4" r="3.7"/>
<circle cx="1078.4" cy="559.2" r="3.7"/>
<circle cx="1088.5" cy="552.0" r="3.7"/>
<circle cx="1090.7" cy="549.5" r="3.7"/>
<circle cx="1074.2" cy="555.6" r="3.7"/>
<circle cx="1112.1" cy="530.5" r="3.7"/>
<circle cx="1101.5" cy="540.4" r="3.7"/>
<circle cx="1097.2" cy="523.3" r="3.7"/>
<circle cx="1116.4" cy="547.9" r="3.7"/>
<circle cx="1099.8" cy="536.0" r="3.7"/>
<circle cx="1111.6" cy="544.7" r="3.7"/>
<circle cx="1079.5" cy="531.8" r="3.7"/>
<circle cx="1099.3" cy="568.2" r="3.7"/>
<circle cx="1093.8" cy="572.2" r="3.7"/>
<circle cx="1101.6" cy="543.2" r="3.7"/>
<circle cx="1082.6" cy="552.0" r="3.7"/>
<circle cx="1103.9" cy="572.7" r="3.7"/>
<circle cx="1105.5" cy="543.0" r="3.7"/>
<circle cx="1093.2" cy="530.7" r="3.7"/>
<circle cx="1082.5" cy="540.8" r="3.7"/>
<circle cx="1112.0" cy="559.7" r="3.7"/>
<circle cx="1105.9" cy="538.0" r="3.7"/>
<circle cx="1101.2" cy="562.2" r="3.7"/>
<circle cx="1074.2" cy="539.3" r="3.7"/>
<circle cx="1082.6" cy="528.8" r="3.7"/>
<circle cx="1095.1" cy="531.1" r="3.7"/>
<circle cx="1081.6" cy="529.8" r="3.7"/>
<circle cx="1108.2" cy="532.5" r="3.7"/>
<circle cx="1076.1" cy="545.8" r="3.7"/>
<circle cx="1226.2" cy="546.1" r="3.7"/>
<circle cx="1204.6" cy="523.6" r="3.7"/>
<circle cx="1225.2" cy="534.4" r="3.7"/>
<circle cx="1214.3" cy="508.3" r="3.7"/>
<circle cx="1219.1" cy="540.3" r="3.7"/>
<circle cx="1194.2" cy="529.2" r="3.7"/>
<circle cx="1188.1" cy="518.3" r="3.7"/>
<circle cx="1226.1" cy="523.2" r="3.7"/>
<circle cx="1188.8" cy="535.4" r="3.7"/>
<circle cx="1197.1" cy="567.5" r="3.7"/>
<circle cx="1216.6" cy="513.6" r="3.7"/>
<circle cx="1206.0" cy="519.5" r="3.7"/>
<circle cx="1193.8" cy="512.9" r="3.7"/>
<circle cx="1184.9" cy="519.7" r="3.7"/>
<circle cx="1219.8" cy="520.1" r="3.7"/>
<circle cx="1224.3" cy="523.7" r="3.7"/>
<circle cx="1225.7" cy="538.2" r="3.7"/>
<circle cx="1189.8" cy="531.1" r="3.7"/>
<circle cx="1230.1" cy="514.2" r="3.7"/>
<circle cx="1211.2" cy="508.0" r="3.7"/>
<circle cx="1189.5" cy="557.1" r="3.7"/>
<circle cx="1219.0" cy="512.5" r="3.7"/>
<circle cx="1213.3" cy="535.8" r="3.7"/>
<circle cx="1194.7" cy="513.2" r="3.7"/>
<circle cx="1213.5" cy="552.3" r="3.7"/>
<circle cx="1224.5" cy="542.6" r="3.7"/>
<circle cx="1220.2" cy="529.0" r="3.7"/>
<circle cx="1219.5" cy="501.5" r="3.7"/>
<circle cx="1224.5" cy="523.3" r="3.7"/>
<circle cx="1226.2" cy="564.5" r="3.7"/>
<circle cx="1206.8" cy="498.4" r="3.7"/>
<circle cx="1230.0" cy="534.3" r="3.7"/>
<circle cx="1227.9" cy="517.9" r="3.7"/>
<circle cx="1189.8" cy="561.9" r="3.7"/>
<circle cx="1199.8" cy="509.9" r="3.7"/>
<circle cx="1200.1" cy="543.5" r="3.7"/>
<circle cx="1179.7" cy="537.7" r="3.7"/>
<circle cx="1204.2" cy="537.3" r="3.7"/>
<circle cx="1186.2" cy="552.8" r="3.7"/>
<circle cx="1224.8" cy="564.5" r="3.7"/>
<circle cx="1197.3" cy="552.5" r="3.7"/>
<circle cx="1200.6" cy="555.7" r="3.7"/>
<circle cx="1232.4" cy="535.7" r="3.7"/>
<circle cx="1208.0" cy="538.5" r="3.7"/>
<circle cx="1209.3" cy="498.8" r="3.7"/>
<circle cx="1193.4" cy="560.8" r="3.7"/>
<circle cx="1218.3" cy="512.4" r="3.7"/>
<circle cx="1180.4" cy="543.8" r="3.7"/>
<circle cx="1211.5" cy="537.9" r="3.7"/>
<circle cx="1218.5" cy="505.2" r="3.7"/>
<circle cx="1227.8" cy="553.0" r="3.7"/>
<circle cx="1206.9" cy="536.2" r="3.7"/>
<circle cx="1195.0" cy="506.7" r="3.7"/>
<circle cx="1202.0" cy="507.9" r="3.7"/>
<circle cx="1212.3" cy="564.2" r="3.7"/>
<circle cx="1187.6" cy="541.8" r="3.7"/>
<circle cx="1220.9" cy="510.0" r="3.7"/>
<circle cx="1201.0" cy="529.9" r="3.7"/>
<circle cx="1226.1" cy="538.1" r="3.7"/>
<circle cx="1201.4" cy="570.4" r="3.7"/>
<circle cx="1222.6" cy="523.6" r="3.7"/>
<circle cx="1192.8" cy="523.3" r="3.7"/>
<circle cx="1203.6" cy="573.5" r="3.7"/>
<circle cx="1224.7" cy="563.1" r="3.7"/>
<circle cx="1182.4" cy="537.5" r="3.7"/>
<circle cx="1193.3" cy="530.1" r="3.7"/>
<circle cx="1214.6" cy="525.6" r="3.7"/>
<circle cx="1208.9" cy="502.6" r="3.7"/>
<circle cx="1203.5" cy="536.5" r="3.7"/>
<circle cx="1231.5" cy="546.5" r="3.7"/>
<circle cx="1224.4" cy="566.0" r="3.7"/>
<circle cx="1215.1" cy="517.9" r="3.7"/>
<circle cx="1217.1" cy="518.5" r="3.7"/>
<circle cx="1209.6" cy="569.1" r="3.7"/>
<circle cx="1214.0" cy="516.7" r="3.7"/>
<circle cx="1208.4" cy="531.0" r="3.7"/>
<circle cx="1232.3" cy="519.6" r="3.7"/>
<circle cx="1196.4" cy="547.6" r="3.7"/>
<circle cx="1186.1" cy="543.4" r="3.7"/>
<circle cx="1232.6" cy="537.2" r="3.7"/>
<circle cx="1194.4" cy="533.5" r="3.7"/>
<circle cx="1209.1" cy="508.8" r="3.7"/>
<circle cx="1195.8" cy="528.8" r="3.7"/>
<circle cx="1195.5" cy="516.2" r="3.7"/>
<circle cx="1184.3" cy="539.7" r="3.7"/>
<circle cx="1226.1" cy="544.7" r="3.7"/>
<circle cx="1211.1" cy="547.8" r="3.7"/>
<circle cx="1087.8" cy="477.0" r="3.7"/>
<circle cx="1095.0" cy="471.2" r="3.7"/>
<circle cx="1099.2" cy="468.3" r="3.7"/>
<circle cx="1090.8" cy="460.1" r="3.7"/>
<circle cx="1088.4" cy="469.9" r="3.7"/>
<circle cx="1092.9" cy="472.5" r="3.7"/>
<circle cx="1106.2" cy="460.0" r="3.7"/>
<circle cx="1097.7" cy="469.1" r="3.7"/>
<circle cx="1090.4" cy="479.3" r="3.7"/>
<circle cx="1106.4" cy="467.3" r="3.7"/>
<circle cx="1083.9" cy="465.4" r="3.7"/>
<circle cx="1094.4" cy="477.9" r="3.7"/>
<circle cx="1085.3" cy="459.5" r="3.7"/>
<circle cx="1086.5" cy="463.6" r="3.7"/>
<circle cx="1092.0" cy="475.8" r="3.7"/>
<circle cx="1099.3" cy="482.1" r="3.7"/>
<circle cx="1105.0" cy="470.1" r="3.7"/>
<circle cx="1102.7" cy="478.2" r="3.7"/>
<circle cx="1103.3" cy="468.6" r="3.7"/>
<circle cx="1104.0" cy="477.0" r="3.7"/>
<circle cx="1128.3" cy="545.9" r="3.7"/>
<circle cx="1123.9" cy="552.2" r="3.7"/>
<circle cx="1125.1" cy="543.1" r="3.7"/>
<circle cx="1128.6" cy="550.7" r="3.7"/>
<circle cx="1125.7" cy="542.4" r="3.7"/>
<circle cx="1123.1" cy="543.7" r="3.7"/>
<circle cx="993.3" cy="436.1" r="3.7"/>
<circle cx="992.8" cy="436.6" r="3.7"/>
<circle cx="993.6" cy="435.5" r="3.7"/>
<circle cx="992.8" cy="435.7" r="3.7"/>
<circle cx="993.3" cy="427.8" r="3.7"/>
<circle cx="993.2" cy="428.2" r="3.7"/>
<circle cx="1007.9" cy="455.6" r="3.7"/>
<circle cx="1007.5" cy="455.2" r="3.7"/>
<circle cx="1012.8" cy="459.7" r="3.7"/>
<circle cx="1012.6" cy="459.7" r="3.7"/>
<circle cx="1013.3" cy="459.8" r="3.7"/>
<circle cx="1013.3" cy="459.8" r="3.7"/>
<circle cx="1013.5" cy="465.3" r="3.7"/>
<circle cx="1013.4" cy="465.7" r="3.7"/>
<circle cx="1013.6" cy="465.2" r="3.7"/>
<circle cx="1013.5" cy="465.1" r="3.7"/>
<circle cx="1018.3" cy="452.8" r="3.7"/>
<circle cx="1028.1" cy="455.6" r="3.7"/>
<circle cx="1018.3" cy="436.1" r="3.7"/>
<circle cx="1033.6" cy="466.7" r="3.7"/>
<circle cx="1033.5" cy="466.2" r="3.7"/>
<circle cx="1033.3" cy="467.0" r="3.7"/>
<circle cx="1033.2" cy="466.3" r="3.7"/>
<circle cx="1033.6" cy="472.2" r="3.7"/>
<circle cx="1033.2" cy="472.1" r="3.7"/>
<circle cx="1035.0" cy="477.8" r="3.7"/>
<circle cx="1034.5" cy="477.6" r="3.7"/>
<circle cx="1054.4" cy="455.6" r="3.7"/>
<circle cx="1073.9" cy="468.1" r="3.7"/>
<circle cx="1083.6" cy="466.7" r="3.7"/>
<circle cx="1083.7" cy="466.9" r="3.7"/>
<circle cx="1090.6" cy="470.8" r="3.7"/>
<circle cx="1091.0" cy="470.3" r="3.7"/>
<circle cx="1096.1" cy="444.4" r="3.7"/>
<circle cx="1096.3" cy="444.1" r="3.7"/>
<circle cx="1094.7" cy="437.5" r="3.7"/>
<circle cx="1094.5" cy="437.6" r="3.7"/>
<circle cx="1107.2" cy="459.7" r="3.7"/>
<circle cx="1107.6" cy="459.9" r="3.7"/>
<circle cx="1111.4" cy="434.0" r="3.7"/>
<circle cx="1118.3" cy="452.8" r="3.7"/>
<circle cx="1118.9" cy="452.2" r="3.7"/>
<circle cx="1118.1" cy="452.8" r="3.7"/>
<circle cx="1117.8" cy="452.2" r="3.7"/>
<circle cx="1126.0" cy="452.8" r="3.7"/>
<circle cx="1125.8" cy="452.8" r="3.7"/>
<circle cx="1125.5" cy="452.3" r="3.7"/>
<circle cx="1125.8" cy="453.1" r="3.7"/>
<circle cx="1139.9" cy="452.8" r="3.7"/>
<circle cx="1139.9" cy="453.4" r="3.7"/>
<circle cx="1141.2" cy="466.7" r="3.7"/>
<circle cx="1132.2" cy="479.2" r="3.7"/>
<circle cx="1132.3" cy="479.6" r="3.7"/>
<circle cx="1162.8" cy="427.8" r="3.7"/>
<circle cx="1162.9" cy="427.8" r="3.7"/>
<circle cx="1162.7" cy="427.3" r="3.7"/>
<circle cx="1162.3" cy="428.0" r="3.7"/>
<circle cx="1162.1" cy="434.7" r="3.7"/>
<circle cx="1165.6" cy="440.3" r="3.7"/>
<circle cx="1166.0" cy="439.7" r="3.7"/>
<circle cx="1165.2" cy="440.1" r="3.7"/>
<circle cx="1165.3" cy="440.7" r="3.7"/>
<circle cx="1173.9" cy="443.1" r="3.7"/>
<circle cx="1173.6" cy="442.8" r="3.7"/>
<circle cx="1173.9" cy="443.6" r="3.7"/>
<circle cx="1173.6" cy="443.2" r="3.7"/>
<circle cx="1179.4" cy="447.2" r="3.7"/>
<circle cx="1178.9" cy="447.1" r="3.7"/>
<circle cx="1197.5" cy="446.5" r="3.7"/>
<circle cx="1198.0" cy="446.2" r="3.7"/>
<circle cx="1205.8" cy="445.8" r="3.7"/>
<circle cx="1216.2" cy="443.1" r="3.7"/>
<circle cx="1223.9" cy="450.7" r="3.7"/>
<circle cx="1203.1" cy="428.5" r="3.7"/>
<circle cx="1202.9" cy="428.7" r="3.7"/>
<circle cx="1201.7" cy="462.5" r="3.7"/>
<circle cx="1204.4" cy="470.8" r="3.7"/>
<circle cx="1204.5" cy="470.9" r="3.7"/>
<circle cx="1169.7" cy="474.3" r="3.7"/>
<circle cx="1169.9" cy="474.5" r="3.7"/>
<circle cx="1165.6" cy="482.6" r="3.7"/>
<circle cx="996.1" cy="491.7" r="3.7"/>
<circle cx="997.5" cy="520.8" r="3.7"/>
<circle cx="997.3" cy="520.7" r="3.7"/>
<circle cx="1003.1" cy="529.9" r="3.7"/>
<circle cx="1002.9" cy="529.9" r="3.7"/>
<circle cx="1011.4" cy="517.4" r="3.7"/>
<circle cx="1011.5" cy="517.8" r="3.7"/>
<circle cx="1022.5" cy="511.1" r="3.7"/>
<circle cx="1022.4" cy="511.1" r="3.7"/>
<circle cx="1018.3" cy="531.9" r="3.7"/>
<circle cx="1029.4" cy="505.6" r="3.7"/>
<circle cx="1029.8" cy="506.1" r="3.7"/>
<circle cx="1032.2" cy="497.2" r="3.7"/>
<circle cx="1030.8" cy="529.2" r="3.7"/>
<circle cx="1030.5" cy="529.4" r="3.7"/>
<circle cx="1037.8" cy="534.7" r="3.7"/>
<circle cx="1037.5" cy="535.0" r="3.7"/>
<circle cx="1040.6" cy="545.8" r="3.7"/>
<circle cx="1040.0" cy="545.8" r="3.7"/>
<circle cx="1046.8" cy="541.7" r="3.7"/>
<circle cx="1046.9" cy="541.9" r="3.7"/>
<circle cx="1047.3" cy="542.0" r="3.7"/>
<circle cx="1046.9" cy="541.7" r="3.7"/>
<circle cx="1037.8" cy="550.0" r="3.7"/>
<circle cx="1048.2" cy="556.9" r="3.7"/>
<circle cx="1048.9" cy="502.8" r="3.7"/>
<circle cx="1057.2" cy="530.6" r="3.7"/>
<circle cx="1056.6" cy="530.6" r="3.7"/>
<circle cx="1062.8" cy="538.9" r="3.7"/>
<circle cx="1062.9" cy="539.2" r="3.7"/>
<circle cx="1068.3" cy="533.3" r="3.7"/>
<circle cx="1067.9" cy="533.4" r="3.7"/>
<circle cx="1067.8" cy="533.6" r="3.7"/>
<circle cx="1068.7" cy="533.3" r="3.7"/>
<circle cx="1072.5" cy="543.1" r="3.7"/>
<circle cx="1079.4" cy="548.6" r="3.7"/>
<circle cx="1080.8" cy="556.9" r="3.7"/>
<circle cx="1076.7" cy="481.9" r="3.7"/>
<circle cx="1093.3" cy="481.9" r="3.7"/>
<circle cx="1093.6" cy="482.1" r="3.7"/>
<circle cx="1093.1" cy="481.5" r="3.7"/>
<circle cx="1093.6" cy="481.8" r="3.7"/>
<circle cx="1093.3" cy="538.9" r="3.7"/>
<circle cx="1092.9" cy="538.8" r="3.7"/>
<circle cx="1090.6" cy="543.1" r="3.7"/>
<circle cx="1087.8" cy="559.7" r="3.7"/>
<circle cx="1094.7" cy="566.7" r="3.7"/>
<circle cx="1095.1" cy="567.2" r="3.7"/>
<circle cx="1094.8" cy="567.2" r="3.7"/>
<circle cx="1094.3" cy="566.7" r="3.7"/>
<circle cx="1075.3" cy="563.9" r="3.7"/>
<circle cx="1074.7" cy="563.6" r="3.7"/>
<circle cx="1100.3" cy="555.6" r="3.7"/>
<circle cx="1100.7" cy="555.0" r="3.7"/>
<circle cx="1105.8" cy="559.7" r="3.7"/>
<circle cx="1115.6" cy="562.5" r="3.7"/>
<circle cx="1123.9" cy="543.1" r="3.7"/>
<circle cx="1124.1" cy="543.1" r="3.7"/>
<circle cx="1125.3" cy="561.1" r="3.7"/>
<circle cx="1136.4" cy="562.5" r="3.7"/>
<circle cx="1137.0" cy="563.1" r="3.7"/>
<circle cx="1147.5" cy="530.6" r="3.7"/>
<circle cx="1147.0" cy="530.3" r="3.7"/>
<circle cx="1151.7" cy="522.2" r="3.7"/>
<circle cx="1200.3" cy="509.7" r="3.7"/>
<circle cx="1200.9" cy="509.5" r="3.7"/>
<circle cx="1204.4" cy="516.7" r="3.7"/>
<circle cx="1204.1" cy="517.2" r="3.7"/>
<circle cx="1201.7" cy="531.9" r="3.7"/>
<circle cx="1201.8" cy="531.7" r="3.7"/>
<circle cx="1214.2" cy="518.1" r="3.7"/>
<circle cx="1228.1" cy="512.5" r="3.7"/>
<circle cx="1228.1" cy="512.4" r="3.7"/>
<circle cx="1196.1" cy="525.0" r="3.7"/>
<circle cx="1196.1" cy="525.1" r="3.7"/>
<circle cx="1230.8" cy="525.0" r="3.7"/>
<circle cx="1230.4" cy="525.1" r="3.7"/>
<circle cx="1231.4" cy="525.1" r="3.7"/>
<circle cx="1231.2" cy="524.7" r="3.7"/>
<circle cx="1200.3" cy="558.3" r="3.7"/>
<circle cx="1199.9" cy="557.7" r="3.7"/>
<circle cx="1205.8" cy="563.9" r="3.7"/>
<circle cx="1206.4" cy="563.4" r="3.7"/>
<circle cx="1182.2" cy="563.9" r="3.7"/>
<circle cx="1010.0" cy="568.1" r="3.7"/>
<circle cx="1022.5" cy="554.2" r="3.7"/>
<circle cx="1022.4" cy="554.4" r="3.7"/>
<circle cx="1016.9" cy="547.2" r="3.7"/>
<circle cx="987.8" cy="540.3" r="3.7"/>
<circle cx="988.1" cy="540.4" r="3.7"/>
<circle cx="987.7" cy="540.7" r="3.7"/>
<circle cx="987.7" cy="540.7" r="3.7"/>
<circle cx="987.8" cy="550.0" r="3.7"/>
<circle cx="987.2" cy="550.3" r="3.7"/>
<circle cx="987.3" cy="549.9" r="3.7"/>
<circle cx="987.7" cy="549.6" r="3.7"/>
<circle cx="990.6" cy="572.2" r="3.7"/>
<circle cx="990.5" cy="572.6" r="3.7"/>
<circle cx="990.0" cy="571.9" r="3.7"/>
<circle cx="991.1" cy="572.2" r="3.7"/>
<circle cx="1230.8" cy="461.1" r="3.7"/>
<circle cx="1176.7" cy="466.7" r="3.7"/>
<circle cx="1176.5" cy="467.2" r="3.7"/>
<circle cx="1177.0" cy="466.3" r="3.7"/>
<circle cx="1176.8" cy="466.3" r="3.7"/>
<circle cx="1182.2" cy="463.9" r="3.7"/>
<circle cx="1182.6" cy="464.0" r="3.7"/>
<circle cx="1182.6" cy="463.4" r="3.7"/>
<circle cx="1182.7" cy="463.6" r="3.7"/>
<circle cx="1198.9" cy="466.7" r="3.7"/>
<circle cx="1199.3" cy="466.6" r="3.7"/>
<circle cx="1199.4" cy="466.2" r="3.7"/>
<circle cx="1198.4" cy="466.6" r="3.7"/>
<circle cx="1172.5" cy="469.4" r="3.7"/>
<circle cx="1173.0" cy="469.4" r="3.7"/>
<circle cx="1172.5" cy="469.0" r="3.7"/>
<circle cx="1172.5" cy="469.4" r="3.7"/>
<circle cx="989.2" cy="584.7" r="3.7"/>
<circle cx="989.6" cy="585.0" r="3.7"/>
<circle cx="985.0" cy="576.4" r="3.7"/>
<circle cx="985.0" cy="576.0" r="3.7"/>
<circle cx="984.6" cy="577.0" r="3.7"/>
<circle cx="985.1" cy="576.1" r="3.7"/>
<circle cx="1009.3" cy="577.1" r="3.7"/>
<circle cx="1009.7" cy="576.7" r="3.7"/>
<circle cx="1000.3" cy="591.7" r="3.7"/>
<circle cx="1014.9" cy="587.5" r="3.7"/>
<circle cx="1014.8" cy="588.0" r="3.7"/>
<circle cx="1014.9" cy="594.4" r="3.7"/>
<circle cx="1014.4" cy="594.0" r="3.7"/>
<circle cx="1014.3" cy="594.0" r="3.7"/>
<circle cx="1014.7" cy="594.2" r="3.7"/>
<circle cx="1037.1" cy="584.7" r="3.7"/>
<circle cx="1036.8" cy="584.1" r="3.7"/>
<circle cx="1040.6" cy="597.9" r="3.7"/>
<circle cx="1036.4" cy="599.3" r="3.7"/>
<circle cx="1046.1" cy="611.8" r="3.7"/>
<circle cx="1046.1" cy="611.7" r="3.7"/>
<circle cx="992.6" cy="618.8" r="3.7"/>
<circle cx="992.9" cy="618.5" r="3.7"/>
<circle cx="992.7" cy="618.5" r="3.7"/>
<circle cx="992.9" cy="618.4" r="3.7"/>
<circle cx="1064.2" cy="581.2" r="3.7"/>
<circle cx="1064.2" cy="581.2" r="3.7"/>
<circle cx="1074.6" cy="577.1" r="3.7"/>
<circle cx="1074.5" cy="577.1" r="3.7"/>
<circle cx="1074.6" cy="576.9" r="3.7"/>
<circle cx="1075.0" cy="577.6" r="3.7"/>
<circle cx="1076.0" cy="590.3" r="3.7"/>
<circle cx="1076.0" cy="590.4" r="3.7"/>
<circle cx="1076.2" cy="590.1" r="3.7"/>
<circle cx="1076.1" cy="590.2" r="3.7"/>
<circle cx="1072.5" cy="598.6" r="3.7"/>
<circle cx="1072.5" cy="598.5" r="3.7"/>
<circle cx="1088.5" cy="592.4" r="3.7"/>
<circle cx="1085.0" cy="597.9" r="3.7"/>
<circle cx="1094.7" cy="595.8" r="3.7"/>
<circle cx="1094.8" cy="595.5" r="3.7"/>
<circle cx="1092.6" cy="600.7" r="3.7"/>
<circle cx="1093.3" cy="607.6" r="3.7"/>
<circle cx="1093.0" cy="607.3" r="3.7"/>
<circle cx="1093.4" cy="607.3" r="3.7"/>
<circle cx="1093.7" cy="608.1" r="3.7"/>
<circle cx="1082.2" cy="609.7" r="3.7"/>
<circle cx="1086.4" cy="613.9" r="3.7"/>
<circle cx="1086.7" cy="613.7" r="3.7"/>
<circle cx="1107.9" cy="577.8" r="3.7"/>
<circle cx="1108.4" cy="577.6" r="3.7"/>
<circle cx="1107.8" cy="577.9" r="3.7"/>
<circle cx="1108.1" cy="577.7" r="3.7"/>
<circle cx="1108.6" cy="597.2" r="3.7"/>
<circle cx="1109.0" cy="597.6" r="3.7"/>
<circle cx="1108.4" cy="596.9" r="3.7"/>
<circle cx="1108.5" cy="597.5" r="3.7"/>
<circle cx="1109.3" cy="604.2" r="3.7"/>
<circle cx="1109.3" cy="608.3" r="3.7"/>
<circle cx="1125.3" cy="596.5" r="3.7"/>
<circle cx="1125.5" cy="596.1" r="3.7"/>
<circle cx="1124.6" cy="611.8" r="3.7"/>
<circle cx="1137.8" cy="616.0" r="3.7"/>
<circle cx="1137.8" cy="591.0" r="3.7"/>
<circle cx="1141.2" cy="585.4" r="3.7"/>
<circle cx="1141.1" cy="585.9" r="3.7"/>
<circle cx="1141.8" cy="585.5" r="3.7"/>
<circle cx="1141.6" cy="585.8" r="3.7"/>
<circle cx="1129.4" cy="627.8" r="3.7"/>
<circle cx="1151.7" cy="631.9" r="3.7"/>
<circle cx="1048.9" cy="650.7" r="3.7"/>
<circle cx="1048.6" cy="650.2" r="3.7"/>
<circle cx="1049.0" cy="650.6" r="3.7"/>
<circle cx="1049.1" cy="650.4" r="3.7"/>
<circle cx="1054.4" cy="621.5" r="3.7"/>
<circle cx="1068.3" cy="643.1" r="3.7"/>
<circle cx="1068.3" cy="650.0" r="3.7"/>
<circle cx="1068.3" cy="650.4" r="3.7"/>
<circle cx="1069.0" cy="655.6" r="3.7"/>
<circle cx="1068.5" cy="655.4" r="3.7"/>
<circle cx="1072.5" cy="622.2" r="3.7"/>
<circle cx="1072.1" cy="622.3" r="3.7"/>
<circle cx="1072.8" cy="622.8" r="3.7"/>
<circle cx="1072.8" cy="621.8" r="3.7"/>
<circle cx="1082.2" cy="629.9" r="3.7"/>
<circle cx="1082.1" cy="629.9" r="3.7"/>
<circle cx="1082.4" cy="630.1" r="3.7"/>
<circle cx="1082.8" cy="630.4" r="3.7"/>
<circle cx="1072.5" cy="633.3" r="3.7"/>
<circle cx="1072.2" cy="632.9" r="3.7"/>
<circle cx="1082.2" cy="638.9" r="3.7"/>
<circle cx="1084.3" cy="625.0" r="3.7"/>
<circle cx="1096.8" cy="647.2" r="3.7"/>
<circle cx="1060.0" cy="665.3" r="3.7"/>
<circle cx="1060.6" cy="664.9" r="3.7"/>
<circle cx="1060.6" cy="664.8" r="3.7"/>
<circle cx="1060.1" cy="664.8" r="3.7"/>
<circle cx="1082.9" cy="652.1" r="3.7"/>
<circle cx="1082.5" cy="651.9" r="3.7"/>
<circle cx="1083.3" cy="652.3" r="3.7"/>
<circle cx="1082.7" cy="651.6" r="3.7"/>
<circle cx="1093.3" cy="658.3" r="3.7"/>
<circle cx="1093.2" cy="657.9" r="3.7"/>
<circle cx="1093.0" cy="658.3" r="3.7"/>
<circle cx="1093.3" cy="658.8" r="3.7"/>
<circle cx="1094.7" cy="684.7" r="3.7"/>
<circle cx="1094.2" cy="684.8" r="3.7"/>
<circle cx="1094.8" cy="684.3" r="3.7"/>
<circle cx="1094.6" cy="684.3" r="3.7"/>
<circle cx="1100.3" cy="666.7" r="3.7"/>
<circle cx="1080.1" cy="669.4" r="3.7"/>
<circle cx="1069.0" cy="675.0" r="3.7"/>
<circle cx="1069.5" cy="674.8" r="3.7"/>
<circle cx="1068.5" cy="675.0" r="3.7"/>
<circle cx="1069.1" cy="675.5" r="3.7"/>
<circle cx="1083.6" cy="687.5" r="3.7"/>
<circle cx="1083.9" cy="687.1" r="3.7"/>
<circle cx="1084.1" cy="686.9" r="3.7"/>
<circle cx="1083.8" cy="687.0" r="3.7"/>
<circle cx="1068.3" cy="697.2" r="3.7"/>
<circle cx="1068.7" cy="696.8" r="3.7"/>
<circle cx="1068.7" cy="697.6" r="3.7"/>
<circle cx="1068.7" cy="696.8" r="3.7"/>
<circle cx="1082.2" cy="699.3" r="3.7"/>
<circle cx="1082.1" cy="698.8" r="3.7"/>
<circle cx="1082.5" cy="699.9" r="3.7"/>
<circle cx="1082.2" cy="699.5" r="3.7"/>
<circle cx="1094.7" cy="695.8" r="3.7"/>
<circle cx="1099.6" cy="693.8" r="3.7"/>
<circle cx="1107.9" cy="625.0" r="3.7"/>
<circle cx="1108.1" cy="624.6" r="3.7"/>
<circle cx="1107.2" cy="636.1" r="3.7"/>
<circle cx="1107.1" cy="635.9" r="3.7"/>
<circle cx="1107.5" cy="636.0" r="3.7"/>
<circle cx="1107.1" cy="636.2" r="3.7"/>
<circle cx="1107.2" cy="640.3" r="3.7"/>
<circle cx="1106.9" cy="639.8" r="3.7"/>
<circle cx="1107.2" cy="644.4" r="3.7"/>
<circle cx="1119.7" cy="694.4" r="3.7"/>
<circle cx="1119.7" cy="701.4" r="3.7"/>
<circle cx="1119.4" cy="700.8" r="3.7"/>
<circle cx="1119.9" cy="701.3" r="3.7"/>
<circle cx="1119.9" cy="701.5" r="3.7"/>
<circle cx="1127.4" cy="709.0" r="3.7"/>
<circle cx="1126.8" cy="709.4" r="3.7"/>
<circle cx="1144.7" cy="702.1" r="3.7"/>
<circle cx="1110.7" cy="717.4" r="3.7"/>
<circle cx="1111.1" cy="716.8" r="3.7"/>
<circle cx="1133.6" cy="718.1" r="3.7"/>
<circle cx="1093.3" cy="723.6" r="3.7"/>
<circle cx="1227.4" cy="588.2" r="3.7"/>
<circle cx="1227.3" cy="588.5" r="3.7"/>
<circle cx="1227.3" cy="588.6" r="3.7"/>
<circle cx="1227.6" cy="588.4" r="3.7"/>
<circle cx="1205.8" cy="586.8" r="3.7"/>
<circle cx="1201.0" cy="595.8" r="3.7"/>
<circle cx="1215.6" cy="597.2" r="3.7"/>
<circle cx="1216.0" cy="597.6" r="3.7"/>
<circle cx="1215.7" cy="596.7" r="3.7"/>
<circle cx="1215.5" cy="597.4" r="3.7"/>
<circle cx="1221.1" cy="602.8" r="3.7"/>
<circle cx="1221.1" cy="602.9" r="3.7"/>
<circle cx="1214.9" cy="602.8" r="3.7"/>
<circle cx="1214.7" cy="603.2" r="3.7"/>
<circle cx="1163.5" cy="592.4" r="3.7"/>
<circle cx="1172.5" cy="595.8" r="3.7"/>
<circle cx="1172.2" cy="596.0" r="3.7"/>
<circle cx="1183.6" cy="595.1" r="3.7"/>
<circle cx="1183.5" cy="594.7" r="3.7"/>
<circle cx="1164.9" cy="602.8" r="3.7"/>
<circle cx="1184.3" cy="626.4" r="3.7"/>
<circle cx="1229.4" cy="613.9" r="3.7"/>
<circle cx="1228.8" cy="622.2" r="3.7"/>
<circle cx="1218.3" cy="628.5" r="3.7"/>
<circle cx="1226.7" cy="630.6" r="3.7"/>
<circle cx="1226.1" cy="630.1" r="3.7"/>
<circle cx="1233.6" cy="630.6" r="3.7"/>
<circle cx="1233.4" cy="630.5" r="3.7"/>
<circle cx="1164.2" cy="636.1" r="3.7"/>
<circle cx="1163.6" cy="635.6" r="3.7"/>
<circle cx="1193.3" cy="638.9" r="3.7"/>
<circle cx="1193.7" cy="639.5" r="3.7"/>
<circle cx="1199.6" cy="633.3" r="3.7"/>
<circle cx="1199.6" cy="646.5" r="3.7"/>
<circle cx="1164.2" cy="648.6" r="3.7"/>
<circle cx="1164.1" cy="648.6" r="3.7"/>
<circle cx="1164.2" cy="652.1" r="3.7"/>
<circle cx="1179.4" cy="650.0" r="3.7"/>
<circle cx="1179.6" cy="649.5" r="3.7"/>
<circle cx="1179.5" cy="650.2" r="3.7"/>
<circle cx="1180.0" cy="650.2" r="3.7"/>
<circle cx="1179.4" cy="658.3" r="3.7"/>
<circle cx="1179.5" cy="658.2" r="3.7"/>
<circle cx="1179.9" cy="658.4" r="3.7"/>
<circle cx="1179.4" cy="658.6" r="3.7"/>
<circle cx="1174.6" cy="660.4" r="3.7"/>
<circle cx="1211.4" cy="650.7" r="3.7"/>
<circle cx="1222.5" cy="641.7" r="3.7"/>
<circle cx="1222.4" cy="641.1" r="3.7"/>
<circle cx="1222.6" cy="642.1" r="3.7"/>
<circle cx="1222.3" cy="641.2" r="3.7"/>
<circle cx="1226.7" cy="658.3" r="3.7"/>
<circle cx="1229.4" cy="663.9" r="3.7"/>
<circle cx="1232.2" cy="669.4" r="3.7"/>
<circle cx="1231.7" cy="669.9" r="3.7"/>
<circle cx="1231.8" cy="669.6" r="3.7"/>
<circle cx="1231.7" cy="669.5" r="3.7"/>
<circle cx="1219.0" cy="663.9" r="3.7"/>
<circle cx="1219.5" cy="663.6" r="3.7"/>
<circle cx="1218.8" cy="664.0" r="3.7"/>
<circle cx="1219.1" cy="664.0" r="3.7"/>
<circle cx="1219.0" cy="673.6" r="3.7"/>
<circle cx="1218.9" cy="673.1" r="3.7"/>
<circle cx="1219.1" cy="673.3" r="3.7"/>
<circle cx="1219.2" cy="673.5" r="3.7"/>
<circle cx="1221.1" cy="680.6" r="3.7"/>
<circle cx="1220.8" cy="681.2" r="3.7"/>
<circle cx="1198.9" cy="669.4" r="3.7"/>
<circle cx="1198.7" cy="670.0" r="3.7"/>
<circle cx="1176.7" cy="670.8" r="3.7"/>
<circle cx="1176.6" cy="670.9" r="3.7"/>
<circle cx="1176.4" cy="670.4" r="3.7"/>
<circle cx="1176.9" cy="670.8" r="3.7"/>
<circle cx="1169.7" cy="677.8" r="3.7"/>
<circle cx="1169.8" cy="677.4" r="3.7"/>
<circle cx="1169.7" cy="678.0" r="3.7"/>
<circle cx="1170.0" cy="678.0" r="3.7"/>
<circle cx="1164.2" cy="681.9" r="3.7"/>
<circle cx="1169.7" cy="686.1" r="3.7"/>
<circle cx="1169.6" cy="686.3" r="3.7"/>
<circle cx="1155.1" cy="676.4" r="3.7"/>
<circle cx="1155.3" cy="676.4" r="3.7"/>
<circle cx="1155.3" cy="676.2" r="3.7"/>
<circle cx="1154.6" cy="676.0" r="3.7"/>
<circle cx="1204.4" cy="680.6" r="3.7"/>
<circle cx="1205.0" cy="681.0" r="3.7"/>
<circle cx="1204.8" cy="680.3" r="3.7"/>
<circle cx="1204.9" cy="680.9" r="3.7"/>
<circle cx="1196.1" cy="677.8" r="3.7"/>
<circle cx="1205.8" cy="675.0" r="3.7"/>
<circle cx="1190.6" cy="681.9" r="3.7"/>
<circle cx="1189.2" cy="688.9" r="3.7"/>
<circle cx="1205.8" cy="687.5" r="3.7"/>
<circle cx="1205.9" cy="687.3" r="3.7"/>
<circle cx="1210.0" cy="690.3" r="3.7"/>
<circle cx="1180.8" cy="694.4" r="3.7"/>
<circle cx="1180.4" cy="695.0" r="3.7"/>
<circle cx="1181.4" cy="694.9" r="3.7"/>
<circle cx="1180.8" cy="694.7" r="3.7"/>
<circle cx="1185.0" cy="698.6" r="3.7"/>
<circle cx="1185.5" cy="698.7" r="3.7"/>
<circle cx="1184.6" cy="699.2" r="3.7"/>
<circle cx="1185.0" cy="698.9" r="3.7"/>
<circle cx="1201.7" cy="701.4" r="3.7"/>
<circle cx="1171.8" cy="700.0" r="3.7"/>
<circle cx="1164.2" cy="708.3" r="3.7"/>
<circle cx="1164.3" cy="707.8" r="3.7"/>
<circle cx="1164.1" cy="707.7" r="3.7"/>
<circle cx="1163.9" cy="708.9" r="3.7"/>
<circle cx="1164.2" cy="713.9" r="3.7"/>
<circle cx="1164.4" cy="714.0" r="3.7"/>
<circle cx="1163.7" cy="714.1" r="3.7"/>
<circle cx="1164.3" cy="714.1" r="3.7"/>
<circle cx="1179.4" cy="708.3" r="3.7"/>
<circle cx="1182.2" cy="712.5" r="3.7"/>
<circle cx="1160.0" cy="719.4" r="3.7"/>
<circle cx="1201.7" cy="716.7" r="3.7"/>
<circle cx="1201.9" cy="717.2" r="3.7"/>
<circle cx="1201.6" cy="716.8" r="3.7"/>
<circle cx="1201.7" cy="716.8" r="3.7"/>
<circle cx="1201.7" cy="722.2" r="3.7"/>
<circle cx="1201.9" cy="721.8" r="3.7"/>
<circle cx="1201.1" cy="721.8" r="3.7"/>
<circle cx="1201.1" cy="722.3" r="3.7"/>
<circle cx="1218.3" cy="715.3" r="3.7"/>
<circle cx="1218.1" cy="715.6" r="3.7"/>
<circle cx="1226.0" cy="704.9" r="3.7"/>
<circle cx="1233.6" cy="706.9" r="3.7"/>
<circle cx="1233.2" cy="706.5" r="3.7"/>
<circle cx="1229.4" cy="683.3" r="3.7"/>
<circle cx="1229.9" cy="682.8" r="3.7"/>
<circle cx="1229.4" cy="691.7" r="3.7"/>
<circle cx="1229.4" cy="697.2" r="3.7"/>
<circle cx="1223.9" cy="686.1" r="3.7"/>
<circle cx="1219.6" cy="632.4" r="3.7"/>
<circle cx="1201.1" cy="665.3" r="3.7"/>
<circle cx="1200.8" cy="636.1" r="3.7"/>
<circle cx="1223.2" cy="702.0" r="3.7"/>
<circle cx="1207.2" cy="651.3" r="3.7"/>
<circle cx="1189.7" cy="633.8" r="3.7"/>
<circle cx="1187.5" cy="667.8" r="3.7"/>
<circle cx="1211.8" cy="606.8" r="3.7"/>
<circle cx="1230.6" cy="636.3" r="3.7"/>
<circle cx="1226.3" cy="700.6" r="3.7"/>
<circle cx="1203.1" cy="709.7" r="3.7"/>
<circle cx="1210.8" cy="658.0" r="3.7"/>
<circle cx="1209.4" cy="720.6" r="3.7"/>
<circle cx="1208.2" cy="660.5" r="3.7"/>
<circle cx="1217.5" cy="644.5" r="3.7"/>
<circle cx="1199.3" cy="670.2" r="3.7"/>
<circle cx="1199.0" cy="714.3" r="3.7"/>
<circle cx="1217.0" cy="661.5" r="3.7"/>
<circle cx="1184.9" cy="642.6" r="3.7"/>
<circle cx="1201.7" cy="666.0" r="3.7"/>
<circle cx="1211.3" cy="705.8" r="3.7"/>
<circle cx="1233.0" cy="656.7" r="3.7"/>
<circle cx="1203.9" cy="673.9" r="3.7"/>
<circle cx="1208.9" cy="697.8" r="3.7"/>
<circle cx="1188.9" cy="635.6" r="3.7"/>
<circle cx="1207.9" cy="609.6" r="3.7"/>
<circle cx="1229.1" cy="682.1" r="3.7"/>
<circle cx="1228.8" cy="648.4" r="3.7"/>
<circle cx="1188.1" cy="632.1" r="3.7"/>
<circle cx="1207.9" cy="658.9" r="3.7"/>
<circle cx="1178.6" cy="650.1" r="3.7"/>
<circle cx="1209.3" cy="688.6" r="3.7"/>
<circle cx="1209.8" cy="637.2" r="3.7"/>
<circle cx="1194.1" cy="705.5" r="3.7"/>
<circle cx="1186.9" cy="696.6" r="3.7"/>
<circle cx="1224.0" cy="687.1" r="3.7"/>
<circle cx="1212.0" cy="651.4" r="3.7"/>
<circle cx="1200.1" cy="684.0" r="3.7"/>
<circle cx="1184.0" cy="692.6" r="3.7"/>
<circle cx="1202.5" cy="724.7" r="3.7"/>
<circle cx="1205.4" cy="671.0" r="3.7"/>
<circle cx="1218.3" cy="643.1" r="3.7"/>
<circle cx="1201.8" cy="708.8" r="3.7"/>
<circle cx="1208.1" cy="707.3" r="3.7"/>
<circle cx="1219.1" cy="662.9" r="3.7"/>
<circle cx="1215.2" cy="665.8" r="3.7"/>
<circle cx="1177.3" cy="657.8" r="3.7"/>
<circle cx="1206.0" cy="665.3" r="3.7"/>
<circle cx="1196.8" cy="668.7" r="3.7"/>
<circle cx="1206.0" cy="721.3" r="3.7"/>
<circle cx="1196.1" cy="690.2" r="3.7"/>
<circle cx="1187.4" cy="715.7" r="3.7"/>
<circle cx="1222.2" cy="661.2" r="3.7"/>
<circle cx="1207.4" cy="721.3" r="3.7"/>
<circle cx="1200.0" cy="720.4" r="3.7"/>
<circle cx="1182.4" cy="669.1" r="3.7"/>
<circle cx="1215.4" cy="653.6" r="3.7"/>
<circle cx="1187.0" cy="713.6" r="3.7"/>
<circle cx="1199.2" cy="706.0" r="3.7"/>
<circle cx="1182.5" cy="649.2" r="3.7"/>
<circle cx="1190.4" cy="650.4" r="3.7"/>
<circle cx="1204.6" cy="643.9" r="3.7"/>
<circle cx="1202.6" cy="668.7" r="3.7"/>
<circle cx="1193.6" cy="639.3" r="3.7"/>
<circle cx="1174.1" cy="709.0" r="3.7"/>
<circle cx="1189.9" cy="655.8" r="3.7"/>
<circle cx="1178.8" cy="659.3" r="3.7"/>
<circle cx="1211.7" cy="664.6" r="3.7"/>
<circle cx="1176.4" cy="698.0" r="3.7"/>
<circle cx="1172.0" cy="658.1" r="3.7"/>
<circle cx="1196.3" cy="710.0" r="3.7"/>
<circle cx="1221.5" cy="647.9" r="3.7"/>
<circle cx="1190.1" cy="699.6" r="3.7"/>
<circle cx="1191.7" cy="721.2" r="3.7"/>
<circle cx="1200.6" cy="654.2" r="3.7"/>
<circle cx="1197.0" cy="645.3" r="3.7"/>
<circle cx="1214.6" cy="657.2" r="3.7"/>
<circle cx="1228.0" cy="687.2" r="3.7"/>
<circle cx="1191.1" cy="655.9" r="3.7"/>
<circle cx="1207.8" cy="652.8" r="3.7"/>
<circle cx="1201.2" cy="683.1" r="3.7"/>
<circle cx="1062.5" cy="677.2" r="3.7"/>
<circle cx="1068.9" cy="669.3" r="3.7"/>
<circle cx="1079.0" cy="645.2" r="3.7"/>
<circle cx="1069.2" cy="629.6" r="3.7"/>
<circle cx="1057.3" cy="682.7" r="3.7"/>
<circle cx="1065.3" cy="669.6" r="3.7"/>
<circle cx="1053.6" cy="662.6" r="3.7"/>
<circle cx="1067.6" cy="658.4" r="3.7"/>
<circle cx="1064.0" cy="628.2" r="3.7"/>
<circle cx="1064.8" cy="639.3" r="3.7"/>
<circle cx="1054.5" cy="673.4" r="3.7"/>
<circle cx="1063.2" cy="651.6" r="3.7"/>
<circle cx="1098.0" cy="677.4" r="3.7"/>
<circle cx="1054.8" cy="642.8" r="3.7"/>
<circle cx="1084.4" cy="648.0" r="3.7"/>
<circle cx="1070.4" cy="669.4" r="3.7"/>
<circle cx="1086.3" cy="640.9" r="3.7"/>
<circle cx="1094.5" cy="648.1" r="3.7"/>
<circle cx="1082.4" cy="636.2" r="3.7"/>
<circle cx="1093.3" cy="727.8" r="3.7"/>
<circle cx="1093.2" cy="728.0" r="3.7"/>
<circle cx="1093.3" cy="733.3" r="3.7"/>
<circle cx="1134.3" cy="727.8" r="3.7"/>
<circle cx="1134.4" cy="727.5" r="3.7"/>
<circle cx="1153.8" cy="727.1" r="3.7"/>
<circle cx="1164.2" cy="725.7" r="3.7"/>
<circle cx="1059.3" cy="742.4" r="3.7"/>
<circle cx="1067.6" cy="765.3" r="3.7"/>
<circle cx="1067.6" cy="770.1" r="3.7"/>
<circle cx="1067.2" cy="770.2" r="3.7"/>
<circle cx="1067.3" cy="770.6" r="3.7"/>
<circle cx="1067.4" cy="770.7" r="3.7"/>
<circle cx="1096.1" cy="770.8" r="3.7"/>
<circle cx="1124.6" cy="750.7" r="3.7"/>
<circle cx="1124.0" cy="750.8" r="3.7"/>
<circle cx="1124.6" cy="761.8" r="3.7"/>
<circle cx="1124.3" cy="761.8" r="3.7"/>
<circle cx="1121.8" cy="772.2" r="3.7"/>
<circle cx="1123.2" cy="778.5" r="3.7"/>
<circle cx="1146.1" cy="744.4" r="3.7"/>
<circle cx="1146.1" cy="750.0" r="3.7"/>
<circle cx="1146.0" cy="750.4" r="3.7"/>
<circle cx="1132.2" cy="757.6" r="3.7"/>
<circle cx="1131.8" cy="758.0" r="3.7"/>
<circle cx="1131.7" cy="757.8" r="3.7"/>
<circle cx="1132.6" cy="757.6" r="3.7"/>
<circle cx="1135.0" cy="768.1" r="3.7"/>
<circle cx="1135.4" cy="767.9" r="3.7"/>
<circle cx="1134.8" cy="768.5" r="3.7"/>
<circle cx="1135.6" cy="768.4" r="3.7"/>
<circle cx="1136.4" cy="774.3" r="3.7"/>
<circle cx="1136.1" cy="774.8" r="3.7"/>
<circle cx="1135.0" cy="781.9" r="3.7"/>
<circle cx="1134.8" cy="782.4" r="3.7"/>
<circle cx="1134.8" cy="781.6" r="3.7"/>
<circle cx="1134.7" cy="782.2" r="3.7"/>
<circle cx="1144.0" cy="785.4" r="3.7"/>
<circle cx="1144.6" cy="785.4" r="3.7"/>
<circle cx="1141.9" cy="769.4" r="3.7"/>
<circle cx="1141.5" cy="769.7" r="3.7"/>
<circle cx="1142.4" cy="769.8" r="3.7"/>
<circle cx="1141.3" cy="769.2" r="3.7"/>
<circle cx="1153.8" cy="786.1" r="3.7"/>
<circle cx="1154.1" cy="786.4" r="3.7"/>
<circle cx="1154.3" cy="786.6" r="3.7"/>
<circle cx="1154.1" cy="786.3" r="3.7"/>
<circle cx="1157.2" cy="788.9" r="3.7"/>
<circle cx="1165.6" cy="790.3" r="3.7"/>
<circle cx="1153.8" cy="736.8" r="3.7"/>
<circle cx="1153.6" cy="736.2" r="3.7"/>
<circle cx="1154.1" cy="736.8" r="3.7"/>
<circle cx="1154.2" cy="736.4" r="3.7"/>
<circle cx="1162.8" cy="743.1" r="3.7"/>
<circle cx="1172.5" cy="729.2" r="3.7"/>
<circle cx="1172.9" cy="729.3" r="3.7"/>
<circle cx="1173.0" cy="729.4" r="3.7"/>
<circle cx="1172.4" cy="729.2" r="3.7"/>
<circle cx="1176.7" cy="730.6" r="3.7"/>
<circle cx="1176.2" cy="730.2" r="3.7"/>
<circle cx="1176.8" cy="730.2" r="3.7"/>
<circle cx="1176.5" cy="730.7" r="3.7"/>
<circle cx="1179.4" cy="737.5" r="3.7"/>
<circle cx="1179.6" cy="738.0" r="3.7"/>
<circle cx="1179.4" cy="737.6" r="3.7"/>
<circle cx="1179.4" cy="737.8" r="3.7"/>
<circle cx="1187.1" cy="737.5" r="3.7"/>
<circle cx="1187.2" cy="738.0" r="3.7"/>
<circle cx="1186.7" cy="737.1" r="3.7"/>
<circle cx="1186.8" cy="737.6" r="3.7"/>
<circle cx="1163.5" cy="752.8" r="3.7"/>
<circle cx="1163.6" cy="752.4" r="3.7"/>
<circle cx="1155.8" cy="761.1" r="3.7"/>
<circle cx="1155.6" cy="761.2" r="3.7"/>
<circle cx="1155.6" cy="761.5" r="3.7"/>
<circle cx="1155.4" cy="761.5" r="3.7"/>
<circle cx="1160.7" cy="772.2" r="3.7"/>
<circle cx="1160.3" cy="772.5" r="3.7"/>
<circle cx="1161.0" cy="772.8" r="3.7"/>
<circle cx="1161.2" cy="771.7" r="3.7"/>
<circle cx="1173.9" cy="759.0" r="3.7"/>
<circle cx="1174.1" cy="759.5" r="3.7"/>
<circle cx="1174.2" cy="759.0" r="3.7"/>
<circle cx="1174.2" cy="758.8" r="3.7"/>
<circle cx="1177.4" cy="752.8" r="3.7"/>
<circle cx="1173.2" cy="770.8" r="3.7"/>
<circle cx="1173.6" cy="770.7" r="3.7"/>
<circle cx="1173.8" cy="770.3" r="3.7"/>
<circle cx="1173.3" cy="770.4" r="3.7"/>
<circle cx="1171.8" cy="781.9" r="3.7"/>
<circle cx="1172.1" cy="782.5" r="3.7"/>
<circle cx="1176.7" cy="776.4" r="3.7"/>
<circle cx="1180.8" cy="782.6" r="3.7"/>
<circle cx="1185.0" cy="756.2" r="3.7"/>
<circle cx="1193.3" cy="750.0" r="3.7"/>
<circle cx="1201.0" cy="733.3" r="3.7"/>
<circle cx="1201.0" cy="733.7" r="3.7"/>
<circle cx="1200.7" cy="732.8" r="3.7"/>
<circle cx="1201.3" cy="733.2" r="3.7"/>
<circle cx="1201.7" cy="727.8" r="3.7"/>
<circle cx="1201.2" cy="728.0" r="3.7"/>
<circle cx="1202.1" cy="727.3" r="3.7"/>
<circle cx="1201.8" cy="727.6" r="3.7"/>
<circle cx="1201.7" cy="738.9" r="3.7"/>
<circle cx="1201.1" cy="738.4" r="3.7"/>
<circle cx="1201.1" cy="738.7" r="3.7"/>
<circle cx="1201.4" cy="738.9" r="3.7"/>
<circle cx="1204.4" cy="750.7" r="3.7"/>
<circle cx="1204.6" cy="751.1" r="3.7"/>
<circle cx="1204.9" cy="750.3" r="3.7"/>
<circle cx="1204.6" cy="751.1" r="3.7"/>
<circle cx="1214.2" cy="748.6" r="3.7"/>
<circle cx="1213.9" cy="748.7" r="3.7"/>
<circle cx="1214.8" cy="748.8" r="3.7"/>
<circle cx="1214.4" cy="748.4" r="3.7"/>
<circle cx="1223.9" cy="760.4" r="3.7"/>
<circle cx="1201.0" cy="760.4" r="3.7"/>
<circle cx="1201.6" cy="760.8" r="3.7"/>
<circle cx="1200.8" cy="760.2" r="3.7"/>
<circle cx="1200.4" cy="760.4" r="3.7"/>
<circle cx="1187.8" cy="769.4" r="3.7"/>
<circle cx="1188.2" cy="769.8" r="3.7"/>
<circle cx="1189.2" cy="777.8" r="3.7"/>
<circle cx="1188.7" cy="777.5" r="3.7"/>
<circle cx="1188.8" cy="777.5" r="3.7"/>
<circle cx="1188.8" cy="777.4" r="3.7"/>
<circle cx="1188.5" cy="781.9" r="3.7"/>
<circle cx="1188.5" cy="782.4" r="3.7"/>
<circle cx="1201.0" cy="777.8" r="3.7"/>
<circle cx="1201.4" cy="777.9" r="3.7"/>
<circle cx="1212.8" cy="777.8" r="3.7"/>
<circle cx="1212.6" cy="778.3" r="3.7"/>
<circle cx="1230.1" cy="787.5" r="3.7"/>
<circle cx="1229.8" cy="786.9" r="3.7"/>
<circle cx="1216.2" cy="788.9" r="3.7"/>
<circle cx="1228.1" cy="803.5" r="3.7"/>
<circle cx="1201.7" cy="791.7" r="3.7"/>
<circle cx="1201.3" cy="792.0" r="3.7"/>
<circle cx="1201.0" cy="799.3" r="3.7"/>
<circle cx="1201.2" cy="799.1" r="3.7"/>
<circle cx="1200.6" cy="799.5" r="3.7"/>
<circle cx="1201.0" cy="799.7" r="3.7"/>
<circle cx="1208.6" cy="803.5" r="3.7"/>
<circle cx="1155.1" cy="800.7" r="3.7"/>
<circle cx="1155.1" cy="800.2" r="3.7"/>
<circle cx="1154.6" cy="800.4" r="3.7"/>
<circle cx="1155.2" cy="801.0" r="3.7"/>
<circle cx="1157.2" cy="802.8" r="3.7"/>
<circle cx="1157.3" cy="802.2" r="3.7"/>
<circle cx="1157.8" cy="802.7" r="3.7"/>
<circle cx="1157.3" cy="802.4" r="3.7"/>
<circle cx="1153.1" cy="809.7" r="3.7"/>
<circle cx="1152.7" cy="809.4" r="3.7"/>
<circle cx="1157.9" cy="809.0" r="3.7"/>
<circle cx="1220.4" cy="820.8" r="3.7"/>
<circle cx="1214.2" cy="836.1" r="3.7"/>
<circle cx="1228.8" cy="727.1" r="3.7"/>
<circle cx="1228.9" cy="727.6" r="3.7"/>
<circle cx="1324.6" cy="887.5" r="3.7"/>
<circle cx="1360.0" cy="900.8" r="3.7"/>
<circle cx="1359.7" cy="900.7" r="3.7"/>
<circle cx="1359.7" cy="900.3" r="3.7"/>
<circle cx="1359.4" cy="901.2" r="3.7"/>
<circle cx="1495.4" cy="891.7" r="3.7"/>
<circle cx="1591.2" cy="911.2" r="3.7"/>
<circle cx="1562.1" cy="933.3" r="3.7"/>
<circle cx="1540.0" cy="951.2" r="3.7"/>
<circle cx="1540.0" cy="965.8" r="3.7"/>
<circle cx="1540.0" cy="973.3" r="3.7"/>
<circle cx="1575.4" cy="954.2" r="3.7"/>
<circle cx="1616.7" cy="948.8" r="3.7"/>
<circle cx="1704.2" cy="947.5" r="3.7"/>
<circle cx="1417.5" cy="976.7" r="3.7"/>
<circle cx="1453.8" cy="1007.1" r="3.7"/>
<circle cx="1448.3" cy="1013.8" r="3.7"/>
<circle cx="1448.9" cy="1013.2" r="3.7"/>
</g>
<g fill="#000">
<circle cx="1242.8" cy="429.9" r="5.2"/>
<circle cx="1238.3" cy="434.6" r="5.2"/>
<circle cx="1243.6" cy="433.5" r="5.2"/>
<circle cx="1247.2" cy="435.0" r="5.2"/>
<circle cx="1238.0" cy="438.4" r="5.2"/>
<circle cx="1244.3" cy="438.9" r="5.2"/>
<circle cx="1248.8" cy="438.9" r="5.2"/>
<circle cx="1238.8" cy="442.8" r="5.2"/>
<circle cx="1243.6" cy="444.3" r="5.2"/>
<circle cx="1248.2" cy="444.0" r="5.2"/>
<circle cx="1238.9" cy="447.3" r="5.2"/>
<circle cx="1243.8" cy="448.3" r="5.2"/>
<circle cx="1247.8" cy="447.2" r="5.2"/>
<circle cx="1239.2" cy="452.7" r="5.2"/>
<circle cx="1243.8" cy="453.5" r="5.2"/>
<circle cx="1248.6" cy="453.6" r="5.2"/>
<circle cx="1238.3" cy="457.9" r="5.2"/>
<circle cx="1243.2" cy="458.2" r="5.2"/>
<circle cx="1248.9" cy="456.5" r="5.2"/>
<circle cx="1242.6" cy="461.3" r="5.2"/>
<circle cx="1268.2" cy="447.4" r="5.2"/>
<circle cx="1272.5" cy="447.2" r="5.2"/>
<circle cx="1262.2" cy="451.3" r="5.2"/>
<circle cx="1266.9" cy="451.7" r="5.2"/>
<circle cx="1272.4" cy="452.4" r="5.2"/>
<circle cx="1277.6" cy="452.4" r="5.2"/>
<circle cx="1262.9" cy="456.5" r="5.2"/>
<circle cx="1267.6" cy="454.9" r="5.2"/>
<circle cx="1272.9" cy="456.5" r="5.2"/>
<circle cx="1278.0" cy="455.7" r="5.2"/>
<circle cx="1262.6" cy="459.0" r="5.2"/>
<circle cx="1267.9" cy="459.7" r="5.2"/>
<circle cx="1271.8" cy="458.7" r="5.2"/>
<circle cx="1277.9" cy="460.5" r="5.2"/>
<circle cx="1266.4" cy="464.2" r="5.2"/>
<circle cx="1272.0" cy="462.9" r="5.2"/>
<circle cx="1292.9" cy="442.3" r="5.2"/>
<circle cx="1290.2" cy="444.5" r="5.2"/>
<circle cx="1293.6" cy="444.5" r="5.2"/>
<circle cx="1297.7" cy="445.1" r="5.2"/>
<circle cx="1290.2" cy="450.0" r="5.2"/>
<circle cx="1293.3" cy="450.0" r="5.2"/>
<circle cx="1296.8" cy="448.2" r="5.2"/>
<circle cx="1293.5" cy="451.7" r="5.2"/>
<circle cx="1306.5" cy="445.5" r="5.2"/>
<circle cx="1310.4" cy="445.0" r="5.2"/>
<circle cx="1306.2" cy="449.5" r="5.2"/>
<circle cx="1309.8" cy="449.7" r="5.2"/>
<circle cx="1327.5" cy="443.3" r="5.2"/>
<circle cx="1321.8" cy="447.9" r="5.2"/>
<circle cx="1327.0" cy="448.0" r="5.2"/>
<circle cx="1331.6" cy="448.1" r="5.2"/>
<circle cx="1322.7" cy="452.2" r="5.2"/>
<circle cx="1326.5" cy="452.6" r="5.2"/>
<circle cx="1331.0" cy="451.8" r="5.2"/>
<circle cx="1327.6" cy="456.5" r="5.2"/>
<circle cx="1248.8" cy="478.5" r="5.2"/>
<circle cx="1251.6" cy="479.6" r="5.2"/>
<circle cx="1247.8" cy="483.6" r="5.2"/>
<circle cx="1252.1" cy="482.5" r="5.2"/>
<circle cx="1249.0" cy="487.2" r="5.2"/>
<circle cx="1252.2" cy="486.9" r="5.2"/>
<circle cx="1328.3" cy="431.0" r="5.2"/>
<circle cx="1330.0" cy="429.7" r="5.2"/>
<circle cx="1271.3" cy="430.6" r="5.2"/>
<circle cx="1273.5" cy="429.6" r="5.2"/>
<circle cx="1271.2" cy="433.8" r="5.2"/>
<circle cx="1273.8" cy="433.8" r="5.2"/>
<circle cx="1289.2" cy="433.3" r="5.2"/>
<circle cx="1338.9" cy="486.8" r="5.2"/>
<circle cx="1338.8" cy="490.6" r="5.2"/>
<circle cx="1339.7" cy="494.1" r="5.2"/>
<circle cx="1339.3" cy="499.8" r="5.2"/>
<circle cx="1338.8" cy="503.1" r="5.2"/>
<circle cx="1339.8" cy="507.3" r="5.2"/>
<circle cx="1349.5" cy="498.8" r="5.2"/>
<circle cx="1353.6" cy="498.1" r="5.2"/>
<circle cx="1349.8" cy="502.4" r="5.2"/>
<circle cx="1353.9" cy="502.7" r="5.2"/>
<circle cx="1350.8" cy="506.0" r="5.2"/>
<circle cx="1352.9" cy="507.0" r="5.2"/>
<circle cx="1388.1" cy="460.3" r="5.2"/>
<circle cx="1390.7" cy="459.7" r="5.2"/>
<circle cx="1395.2" cy="459.8" r="5.2"/>
<circle cx="1373.1" cy="533.1" r="5.2"/>
<circle cx="1371.9" cy="536.2" r="5.2"/>
<circle cx="1373.1" cy="541.2" r="5.2"/>
<circle cx="1373.1" cy="544.8" r="5.2"/>
<circle cx="1371.8" cy="548.9" r="5.2"/>
<circle cx="1373.1" cy="553.1" r="5.2"/>
<circle cx="1372.2" cy="557.6" r="5.2"/>
<circle cx="1372.3" cy="561.9" r="5.2"/>
<circle cx="1399.2" cy="559.2" r="5.2"/>
<circle cx="1401.2" cy="560.7" r="5.2"/>
<circle cx="1399.2" cy="564.4" r="5.2"/>
<circle cx="1402.0" cy="564.4" r="5.2"/>
<circle cx="1399.3" cy="566.5" r="5.2"/>
<circle cx="1402.6" cy="567.8" r="5.2"/>
<circle cx="1398.7" cy="570.7" r="5.2"/>
<circle cx="1401.7" cy="570.4" r="5.2"/>
<circle cx="1355.8" cy="522.7" r="5.2"/>
<circle cx="1361.0" cy="523.2" r="5.2"/>
<circle cx="1263.4" cy="529.8" r="5.2"/>
<circle cx="1258.8" cy="534.7" r="5.2"/>
<circle cx="1263.6" cy="535.1" r="5.2"/>
<circle cx="1268.4" cy="534.5" r="5.2"/>
<circle cx="1257.0" cy="538.4" r="5.2"/>
<circle cx="1262.1" cy="537.5" r="5.2"/>
<circle cx="1267.9" cy="538.0" r="5.2"/>
<circle cx="1262.6" cy="542.4" r="5.2"/>
<circle cx="1237.9" cy="516.6" r="5.2"/>
<circle cx="1240.2" cy="517.7" r="5.2"/>
<circle cx="1237.6" cy="521.4" r="5.2"/>
<circle cx="1240.4" cy="520.2" r="5.2"/>
<circle cx="1237.7" cy="525.4" r="5.2"/>
<circle cx="1240.0" cy="525.3" r="5.2"/>
<circle cx="1239.2" cy="535.2" r="5.2"/>
<circle cx="1243.4" cy="533.6" r="5.2"/>
<circle cx="1238.6" cy="538.4" r="5.2"/>
<circle cx="1241.9" cy="537.2" r="5.2"/>
<circle cx="1293.1" cy="546.6" r="5.2"/>
<circle cx="1297.3" cy="546.5" r="5.2"/>
<circle cx="1301.9" cy="545.5" r="5.2"/>
<circle cx="1023.6" cy="428.8" r="5.2"/>
<circle cx="1028.1" cy="428.6" r="5.2"/>
<circle cx="1025.4" cy="434.2" r="5.2"/>
<circle cx="1028.1" cy="433.5" r="5.2"/>
<circle cx="1024.1" cy="437.1" r="5.2"/>
<circle cx="1028.6" cy="437.8" r="5.2"/>
<circle cx="1024.6" cy="441.2" r="5.2"/>
<circle cx="1028.3" cy="441.2" r="5.2"/>
<circle cx="1023.7" cy="445.6" r="5.2"/>
<circle cx="1029.3" cy="445.3" r="5.2"/>
<circle cx="1036.5" cy="438.1" r="5.2"/>
<circle cx="1040.8" cy="439.0" r="5.2"/>
<circle cx="1037.9" cy="441.6" r="5.2"/>
<circle cx="1041.6" cy="442.1" r="5.2"/>
<circle cx="1051.5" cy="427.9" r="5.2"/>
<circle cx="1046.8" cy="432.5" r="5.2"/>
<circle cx="1051.5" cy="432.5" r="5.2"/>
<circle cx="1056.4" cy="431.6" r="5.2"/>
<circle cx="1046.9" cy="436.5" r="5.2"/>
<circle cx="1050.8" cy="436.0" r="5.2"/>
<circle cx="1056.3" cy="436.9" r="5.2"/>
<circle cx="1047.7" cy="439.9" r="5.2"/>
<circle cx="1052.5" cy="440.7" r="5.2"/>
<circle cx="1056.0" cy="440.0" r="5.2"/>
<circle cx="1050.9" cy="444.7" r="5.2"/>
<circle cx="1075.2" cy="434.8" r="5.2"/>
<circle cx="1080.0" cy="434.4" r="5.2"/>
<circle cx="1084.5" cy="434.2" r="5.2"/>
<circle cx="1069.5" cy="438.9" r="5.2"/>
<circle cx="1073.9" cy="438.0" r="5.2"/>
<circle cx="1080.0" cy="437.8" r="5.2"/>
<circle cx="1083.2" cy="437.9" r="5.2"/>
<circle cx="1089.3" cy="438.1" r="5.2"/>
<circle cx="1069.4" cy="444.2" r="5.2"/>
<circle cx="1074.1" cy="444.2" r="5.2"/>
<circle cx="1079.8" cy="444.1" r="5.2"/>
<circle cx="1084.9" cy="443.6" r="5.2"/>
<circle cx="1089.2" cy="442.5" r="5.2"/>
<circle cx="1070.9" cy="448.2" r="5.2"/>
<circle cx="1075.3" cy="447.4" r="5.2"/>
<circle cx="1079.9" cy="449.1" r="5.2"/>
<circle cx="1083.1" cy="447.8" r="5.2"/>
<circle cx="1088.7" cy="448.9" r="5.2"/>
<circle cx="1069.8" cy="452.3" r="5.2"/>
<circle cx="1074.4" cy="453.1" r="5.2"/>
<circle cx="1080.0" cy="452.7" r="5.2"/>
<circle cx="1083.7" cy="452.7" r="5.2"/>
<circle cx="1088.3" cy="452.8" r="5.2"/>
<circle cx="1074.1" cy="457.6" r="5.2"/>
<circle cx="1080.4" cy="457.5" r="5.2"/>
<circle cx="1084.5" cy="457.0" r="5.2"/>
<circle cx="1063.4" cy="460.0" r="5.2"/>
<circle cx="1067.1" cy="459.6" r="5.2"/>
<circle cx="1063.0" cy="464.5" r="5.2"/>
<circle cx="1067.5" cy="463.5" r="5.2"/>
<circle cx="1062.2" cy="469.4" r="5.2"/>
<circle cx="1067.6" cy="469.0" r="5.2"/>
<circle cx="1062.9" cy="474.0" r="5.2"/>
<circle cx="1066.1" cy="473.1" r="5.2"/>
<circle cx="1062.4" cy="478.5" r="5.2"/>
<circle cx="1066.4" cy="477.8" r="5.2"/>
<circle cx="1063.4" cy="483.9" r="5.2"/>
<circle cx="1066.3" cy="483.4" r="5.2"/>
<circle cx="1062.8" cy="488.4" r="5.2"/>
<circle cx="1066.9" cy="487.2" r="5.2"/>
<circle cx="1044.0" cy="470.4" r="5.2"/>
<circle cx="1047.6" cy="471.1" r="5.2"/>
<circle cx="1043.9" cy="475.3" r="5.2"/>
<circle cx="1047.3" cy="476.2" r="5.2"/>
<circle cx="1043.9" cy="480.9" r="5.2"/>
<circle cx="1047.6" cy="480.1" r="5.2"/>
<circle cx="1044.5" cy="484.9" r="5.2"/>
<circle cx="1048.3" cy="484.4" r="5.2"/>
<circle cx="1095.9" cy="465.0" r="5.2"/>
<circle cx="1099.7" cy="464.4" r="5.2"/>
<circle cx="988.2" cy="482.0" r="5.2"/>
<circle cx="987.7" cy="484.9" r="5.2"/>
<circle cx="987.2" cy="490.2" r="5.2"/>
<circle cx="988.1" cy="495.0" r="5.2"/>
<circle cx="988.5" cy="497.9" r="5.2"/>
<circle cx="987.2" cy="502.3" r="5.2"/>
<circle cx="987.2" cy="507.5" r="5.2"/>
<circle cx="988.5" cy="512.3" r="5.2"/>
<circle cx="987.3" cy="516.5" r="5.2"/>
<circle cx="987.4" cy="520.0" r="5.2"/>
<circle cx="988.2" cy="523.7" r="5.2"/>
<circle cx="1004.9" cy="486.6" r="5.2"/>
<circle cx="1008.3" cy="485.7" r="5.2"/>
<circle cx="1005.9" cy="489.4" r="5.2"/>
<circle cx="1007.8" cy="488.7" r="5.2"/>
<circle cx="1081.0" cy="492.0" r="5.2"/>
<circle cx="1085.5" cy="492.2" r="5.2"/>
<circle cx="1077.0" cy="495.8" r="5.2"/>
<circle cx="1081.2" cy="495.2" r="5.2"/>
<circle cx="1085.7" cy="496.3" r="5.2"/>
<circle cx="1090.3" cy="496.8" r="5.2"/>
<circle cx="1076.9" cy="499.2" r="5.2"/>
<circle cx="1082.0" cy="499.7" r="5.2"/>
<circle cx="1086.7" cy="500.5" r="5.2"/>
<circle cx="1090.7" cy="500.4" r="5.2"/>
<circle cx="1076.4" cy="504.6" r="5.2"/>
<circle cx="1080.6" cy="504.5" r="5.2"/>
<circle cx="1087.0" cy="504.3" r="5.2"/>
<circle cx="1091.2" cy="503.2" r="5.2"/>
<circle cx="1081.1" cy="507.7" r="5.2"/>
<circle cx="1086.5" cy="508.4" r="5.2"/>
<circle cx="1113.2" cy="470.9" r="5.2"/>
<circle cx="1118.3" cy="471.8" r="5.2"/>
<circle cx="1112.4" cy="477.0" r="5.2"/>
<circle cx="1118.4" cy="475.4" r="5.2"/>
<circle cx="1108.9" cy="480.2" r="5.2"/>
<circle cx="1112.7" cy="481.3" r="5.2"/>
<circle cx="1118.3" cy="481.0" r="5.2"/>
<circle cx="1123.4" cy="480.8" r="5.2"/>
<circle cx="1107.7" cy="484.9" r="5.2"/>
<circle cx="1112.2" cy="486.0" r="5.2"/>
<circle cx="1118.6" cy="485.7" r="5.2"/>
<circle cx="1123.5" cy="485.3" r="5.2"/>
<circle cx="1107.6" cy="490.0" r="5.2"/>
<circle cx="1113.8" cy="489.4" r="5.2"/>
<circle cx="1118.1" cy="489.8" r="5.2"/>
<circle cx="1123.6" cy="490.0" r="5.2"/>
<circle cx="1107.7" cy="494.8" r="5.2"/>
<circle cx="1113.1" cy="495.5" r="5.2"/>
<circle cx="1117.8" cy="495.7" r="5.2"/>
<circle cx="1122.3" cy="494.5" r="5.2"/>
<circle cx="1107.3" cy="498.9" r="5.2"/>
<circle cx="1113.6" cy="500.1" r="5.2"/>
<circle cx="1117.4" cy="499.0" r="5.2"/>
<circle cx="1122.9" cy="500.1" r="5.2"/>
<circle cx="1113.7" cy="504.8" r="5.2"/>
<circle cx="1118.2" cy="503.6" r="5.2"/>
<circle cx="1112.9" cy="508.4" r="5.2"/>
<circle cx="1118.1" cy="509.2" r="5.2"/>
<circle cx="1156.9" cy="491.7" r="5.2"/>
<circle cx="1163.3" cy="491.2" r="5.2"/>
<circle cx="1168.7" cy="493.0" r="5.2"/>
<circle cx="1147.8" cy="496.3" r="5.2"/>
<circle cx="1152.3" cy="496.7" r="5.2"/>
<circle cx="1157.7" cy="497.5" r="5.2"/>
<circle cx="1163.2" cy="496.1" r="5.2"/>
<circle cx="1168.8" cy="496.5" r="5.2"/>
<circle cx="1173.6" cy="497.0" r="5.2"/>
<circle cx="1177.7" cy="497.1" r="5.2"/>
<circle cx="1147.2" cy="500.8" r="5.2"/>
<circle cx="1152.2" cy="500.8" r="5.2"/>
<circle cx="1156.9" cy="500.9" r="5.2"/>
<circle cx="1161.9" cy="500.9" r="5.2"/>
<circle cx="1168.4" cy="500.7" r="5.2"/>
<circle cx="1173.5" cy="501.8" r="5.2"/>
<circle cx="1179.5" cy="500.1" r="5.2"/>
<circle cx="1142.1" cy="505.4" r="5.2"/>
<circle cx="1146.0" cy="504.9" r="5.2"/>
<circle cx="1151.6" cy="504.4" r="5.2"/>
<circle cx="1157.5" cy="506.1" r="5.2"/>
<circle cx="1162.4" cy="505.9" r="5.2"/>
<circle cx="1168.5" cy="504.5" r="5.2"/>
<circle cx="1174.1" cy="505.4" r="5.2"/>
<circle cx="1179.6" cy="505.6" r="5.2"/>
<circle cx="1184.5" cy="504.9" r="5.2"/>
<circle cx="1142.2" cy="510.4" r="5.2"/>
<circle cx="1147.6" cy="509.4" r="5.2"/>
<circle cx="1152.7" cy="509.5" r="5.2"/>
<circle cx="1156.7" cy="508.6" r="5.2"/>
<circle cx="1161.9" cy="508.9" r="5.2"/>
<circle cx="1167.4" cy="509.5" r="5.2"/>
<circle cx="1173.8" cy="509.6" r="5.2"/>
<circle cx="1178.5" cy="509.8" r="5.2"/>
<circle cx="1183.6" cy="509.5" r="5.2"/>
<circle cx="1142.1" cy="513.7" r="5.2"/>
<circle cx="1146.2" cy="514.7" r="5.2"/>
<circle cx="1152.6" cy="513.6" r="5.2"/>
<circle cx="1157.2" cy="513.9" r="5.2"/>
<circle cx="1163.0" cy="513.3" r="5.2"/>
<circle cx="1167.1" cy="513.3" r="5.2"/>
<circle cx="1174.0" cy="513.2" r="5.2"/>
<circle cx="1178.6" cy="513.3" r="5.2"/>
<circle cx="1183.4" cy="513.2" r="5.2"/>
<circle cx="1141.4" cy="517.6" r="5.2"/>
<circle cx="1145.9" cy="517.5" r="5.2"/>
<circle cx="1151.5" cy="518.2" r="5.2"/>
<circle cx="1156.6" cy="517.3" r="5.2"/>
<circle cx="1162.7" cy="518.0" r="5.2"/>
<circle cx="1168.5" cy="517.3" r="5.2"/>
<circle cx="1173.2" cy="518.0" r="5.2"/>
<circle cx="1177.8" cy="519.2" r="5.2"/>
<circle cx="1183.5" cy="517.4" r="5.2"/>
<circle cx="1141.5" cy="521.9" r="5.2"/>
<circle cx="1147.1" cy="522.3" r="5.2"/>
<circle cx="1151.4" cy="521.7" r="5.2"/>
<circle cx="1157.9" cy="522.1" r="5.2"/>
<circle cx="1163.4" cy="522.5" r="5.2"/>
<circle cx="1169.0" cy="522.2" r="5.2"/>
<circle cx="1172.9" cy="522.1" r="5.2"/>
<circle cx="1179.3" cy="522.8" r="5.2"/>
<circle cx="1183.7" cy="521.8" r="5.2"/>
<circle cx="1147.2" cy="527.9" r="5.2"/>
<circle cx="1152.3" cy="525.9" r="5.2"/>
<circle cx="1156.5" cy="526.1" r="5.2"/>
<circle cx="1162.1" cy="526.0" r="5.2"/>
<circle cx="1167.2" cy="527.2" r="5.2"/>
<circle cx="1174.2" cy="526.3" r="5.2"/>
<circle cx="1179.7" cy="526.9" r="5.2"/>
<circle cx="1147.5" cy="532.1" r="5.2"/>
<circle cx="1153.0" cy="530.3" r="5.2"/>
<circle cx="1157.1" cy="531.5" r="5.2"/>
<circle cx="1163.7" cy="530.4" r="5.2"/>
<circle cx="1167.7" cy="532.0" r="5.2"/>
<circle cx="1172.6" cy="531.0" r="5.2"/>
<circle cx="1178.4" cy="531.6" r="5.2"/>
<circle cx="1158.3" cy="535.0" r="5.2"/>
<circle cx="1163.3" cy="536.1" r="5.2"/>
<circle cx="1168.8" cy="535.7" r="5.2"/>
<circle cx="1191.4" cy="490.7" r="5.2"/>
<circle cx="1186.5" cy="495.2" r="5.2"/>
<circle cx="1191.1" cy="495.7" r="5.2"/>
<circle cx="1194.0" cy="495.0" r="5.2"/>
<circle cx="1187.1" cy="500.6" r="5.2"/>
<circle cx="1191.0" cy="500.2" r="5.2"/>
<circle cx="1194.4" cy="499.7" r="5.2"/>
<circle cx="1187.1" cy="504.2" r="5.2"/>
<circle cx="1190.5" cy="505.7" r="5.2"/>
<circle cx="1194.8" cy="504.3" r="5.2"/>
<circle cx="1186.1" cy="510.5" r="5.2"/>
<circle cx="1190.8" cy="510.6" r="5.2"/>
<circle cx="1195.2" cy="509.8" r="5.2"/>
<circle cx="1191.3" cy="515.0" r="5.2"/>
<circle cx="1181.5" cy="468.1" r="5.2"/>
<circle cx="1185.5" cy="468.1" r="5.2"/>
<circle cx="1191.9" cy="467.5" r="5.2"/>
<circle cx="1177.4" cy="471.4" r="5.2"/>
<circle cx="1181.0" cy="472.5" r="5.2"/>
<circle cx="1185.9" cy="471.3" r="5.2"/>
<circle cx="1190.2" cy="472.5" r="5.2"/>
<circle cx="1195.7" cy="471.2" r="5.2"/>
<circle cx="1181.3" cy="477.0" r="5.2"/>
<circle cx="1185.8" cy="476.2" r="5.2"/>
<circle cx="1190.8" cy="476.7" r="5.2"/>
<circle cx="1220.2" cy="527.5" r="5.2"/>
<circle cx="1225.1" cy="526.3" r="5.2"/>
<circle cx="1219.4" cy="530.4" r="5.2"/>
<circle cx="1225.7" cy="530.5" r="5.2"/>
<circle cx="1214.0" cy="536.5" r="5.2"/>
<circle cx="1219.4" cy="536.4" r="5.2"/>
<circle cx="1224.2" cy="535.5" r="5.2"/>
<circle cx="1229.4" cy="536.2" r="5.2"/>
<circle cx="1215.2" cy="540.2" r="5.2"/>
<circle cx="1220.5" cy="540.7" r="5.2"/>
<circle cx="1224.7" cy="540.1" r="5.2"/>
<circle cx="1229.9" cy="539.1" r="5.2"/>
<circle cx="1215.7" cy="544.5" r="5.2"/>
<circle cx="1220.6" cy="543.7" r="5.2"/>
<circle cx="1225.1" cy="544.2" r="5.2"/>
<circle cx="1230.5" cy="543.4" r="5.2"/>
<circle cx="1214.7" cy="548.6" r="5.2"/>
<circle cx="1219.1" cy="548.7" r="5.2"/>
<circle cx="1225.5" cy="548.5" r="5.2"/>
<circle cx="1230.3" cy="548.8" r="5.2"/>
<circle cx="1214.4" cy="552.7" r="5.2"/>
<circle cx="1221.0" cy="552.6" r="5.2"/>
<circle cx="1224.9" cy="552.1" r="5.2"/>
<circle cx="1229.4" cy="552.3" r="5.2"/>
<circle cx="1215.9" cy="557.8" r="5.2"/>
<circle cx="1220.7" cy="558.3" r="5.2"/>
<circle cx="1225.2" cy="558.2" r="5.2"/>
<circle cx="1230.1" cy="557.1" r="5.2"/>
<circle cx="1215.9" cy="562.4" r="5.2"/>
<circle cx="1220.9" cy="561.6" r="5.2"/>
<circle cx="1225.5" cy="561.5" r="5.2"/>
<circle cx="1231.0" cy="562.5" r="5.2"/>
<circle cx="1219.6" cy="566.9" r="5.2"/>
<circle cx="1224.4" cy="565.2" r="5.2"/>
<circle cx="1220.4" cy="569.9" r="5.2"/>
<circle cx="1225.0" cy="570.6" r="5.2"/>
<circle cx="1227.7" cy="430.3" r="5.2"/>
<circle cx="1231.2" cy="429.6" r="5.2"/>
<circle cx="1228.3" cy="434.8" r="5.2"/>
<circle cx="1232.2" cy="433.9" r="5.2"/>
<circle cx="1227.8" cy="438.5" r="5.2"/>
<circle cx="1231.5" cy="438.0" r="5.2"/>
<circle cx="1227.9" cy="444.0" r="5.2"/>
<circle cx="1232.1" cy="444.4" r="5.2"/>
<circle cx="1229.6" cy="448.8" r="5.2"/>
<circle cx="1231.4" cy="447.3" r="5.2"/>
<circle cx="1041.6" cy="511.3" r="5.2"/>
<circle cx="1042.0" cy="515.5" r="5.2"/>
<circle cx="1041.7" cy="520.0" r="5.2"/>
<circle cx="1041.5" cy="523.2" r="5.2"/>
<circle cx="1058.3" cy="516.2" r="5.2"/>
<circle cx="1061.0" cy="515.0" r="5.2"/>
<circle cx="1065.9" cy="514.6" r="5.2"/>
<circle cx="1056.8" cy="519.5" r="5.2"/>
<circle cx="1061.5" cy="518.8" r="5.2"/>
<circle cx="1064.4" cy="518.9" r="5.2"/>
<circle cx="1058.0" cy="523.3" r="5.2"/>
<circle cx="1062.3" cy="523.9" r="5.2"/>
<circle cx="1066.2" cy="522.4" r="5.2"/>
<circle cx="1106.1" cy="537.0" r="5.2"/>
<circle cx="1110.4" cy="537.6" r="5.2"/>
<circle cx="1105.8" cy="542.3" r="5.2"/>
<circle cx="1109.7" cy="541.8" r="5.2"/>
<circle cx="1106.2" cy="547.1" r="5.2"/>
<circle cx="1110.3" cy="546.0" r="5.2"/>
<circle cx="1105.8" cy="550.6" r="5.2"/>
<circle cx="1110.7" cy="551.1" r="5.2"/>
<circle cx="1107.6" cy="555.6" r="5.2"/>
<circle cx="1110.0" cy="554.3" r="5.2"/>
<circle cx="1107.3" cy="559.8" r="5.2"/>
<circle cx="1110.5" cy="559.9" r="5.2"/>
<circle cx="1138.5" cy="546.1" r="5.2"/>
<circle cx="1142.0" cy="545.6" r="5.2"/>
<circle cx="1134.4" cy="552.0" r="5.2"/>
<circle cx="1139.2" cy="551.2" r="5.2"/>
<circle cx="1143.0" cy="552.1" r="5.2"/>
<circle cx="1147.6" cy="551.5" r="5.2"/>
<circle cx="1133.9" cy="556.0" r="5.2"/>
<circle cx="1137.7" cy="555.3" r="5.2"/>
<circle cx="1143.1" cy="557.0" r="5.2"/>
<circle cx="1147.1" cy="555.8" r="5.2"/>
<circle cx="1133.8" cy="560.6" r="5.2"/>
<circle cx="1139.0" cy="560.6" r="5.2"/>
<circle cx="1143.6" cy="560.0" r="5.2"/>
<circle cx="1146.6" cy="560.7" r="5.2"/>
<circle cx="1133.9" cy="566.1" r="5.2"/>
<circle cx="1139.1" cy="566.3" r="5.2"/>
<circle cx="1142.9" cy="564.5" r="5.2"/>
<circle cx="1147.2" cy="565.5" r="5.2"/>
<circle cx="1138.4" cy="569.7" r="5.2"/>
<circle cx="1143.1" cy="571.0" r="5.2"/>
<circle cx="1160.2" cy="554.8" r="5.2"/>
<circle cx="1165.3" cy="554.5" r="5.2"/>
<circle cx="1170.9" cy="555.4" r="5.2"/>
<circle cx="1156.7" cy="557.9" r="5.2"/>
<circle cx="1161.8" cy="557.9" r="5.2"/>
<circle cx="1165.3" cy="559.2" r="5.2"/>
<circle cx="1169.7" cy="558.0" r="5.2"/>
<circle cx="1175.6" cy="559.4" r="5.2"/>
<circle cx="1156.1" cy="562.3" r="5.2"/>
<circle cx="1160.6" cy="561.8" r="5.2"/>
<circle cx="1165.1" cy="563.5" r="5.2"/>
<circle cx="1169.3" cy="562.0" r="5.2"/>
<circle cx="1174.1" cy="561.7" r="5.2"/>
<circle cx="1156.5" cy="567.0" r="5.2"/>
<circle cx="1161.7" cy="566.8" r="5.2"/>
<circle cx="1166.2" cy="565.5" r="5.2"/>
<circle cx="1169.7" cy="567.4" r="5.2"/>
<circle cx="1173.8" cy="566.0" r="5.2"/>
<circle cx="1161.0" cy="570.0" r="5.2"/>
<circle cx="1165.6" cy="569.6" r="5.2"/>
<circle cx="1169.6" cy="571.4" r="5.2"/>
<circle cx="1029.2" cy="563.6" r="5.2"/>
<circle cx="1033.7" cy="563.8" r="5.2"/>
<circle cx="1039.0" cy="563.1" r="5.2"/>
<circle cx="1029.2" cy="565.8" r="5.2"/>
<circle cx="1034.8" cy="566.0" r="5.2"/>
<circle cx="1038.0" cy="567.3" r="5.2"/>
<circle cx="1030.7" cy="569.7" r="5.2"/>
<circle cx="1035.2" cy="570.6" r="5.2"/>
<circle cx="1038.4" cy="569.8" r="5.2"/>
<circle cx="987.6" cy="539.1" r="5.2"/>
<circle cx="987.3" cy="542.0" r="5.2"/>
<circle cx="987.1" cy="546.5" r="5.2"/>
<circle cx="987.5" cy="552.7" r="5.2"/>
<circle cx="986.9" cy="555.8" r="5.2"/>
<circle cx="988.7" cy="562.0" r="5.2"/>
<circle cx="988.7" cy="565.1" r="5.2"/>
<circle cx="987.5" cy="571.1" r="5.2"/>
<circle cx="1080.2" cy="527.1" r="5.2"/>
<circle cx="1084.6" cy="525.7" r="5.2"/>
<circle cx="1089.5" cy="527.2" r="5.2"/>
<circle cx="1080.7" cy="530.7" r="5.2"/>
<circle cx="1084.9" cy="530.6" r="5.2"/>
<circle cx="1089.7" cy="530.6" r="5.2"/>
<circle cx="1080.9" cy="533.8" r="5.2"/>
<circle cx="1085.2" cy="535.3" r="5.2"/>
<circle cx="1090.5" cy="533.8" r="5.2"/>
<circle cx="1027.9" cy="578.5" r="5.2"/>
<circle cx="1030.2" cy="577.3" r="5.2"/>
<circle cx="1034.1" cy="576.9" r="5.2"/>
<circle cx="1026.1" cy="586.2" r="5.2"/>
<circle cx="1028.9" cy="585.6" r="5.2"/>
<circle cx="1024.2" cy="591.0" r="5.2"/>
<circle cx="1028.8" cy="591.3" r="5.2"/>
<circle cx="1025.5" cy="594.2" r="5.2"/>
<circle cx="1028.7" cy="593.4" r="5.2"/>
<circle cx="1022.8" cy="604.7" r="5.2"/>
<circle cx="1025.8" cy="605.1" r="5.2"/>
<circle cx="1156.4" cy="577.7" r="5.2"/>
<circle cx="1161.8" cy="577.3" r="5.2"/>
<circle cx="1167.0" cy="577.8" r="5.2"/>
<circle cx="1173.5" cy="578.5" r="5.2"/>
<circle cx="1178.5" cy="578.3" r="5.2"/>
<circle cx="1182.5" cy="578.6" r="5.2"/>
<circle cx="1187.8" cy="576.9" r="5.2"/>
<circle cx="1156.8" cy="581.2" r="5.2"/>
<circle cx="1161.7" cy="581.0" r="5.2"/>
<circle cx="1166.8" cy="581.6" r="5.2"/>
<circle cx="1172.4" cy="580.7" r="5.2"/>
<circle cx="1177.8" cy="581.4" r="5.2"/>
<circle cx="1183.9" cy="580.8" r="5.2"/>
<circle cx="1188.1" cy="580.9" r="5.2"/>
<circle cx="1173.3" cy="611.2" r="5.2"/>
<circle cx="1178.8" cy="611.9" r="5.2"/>
<circle cx="1181.1" cy="612.1" r="5.2"/>
<circle cx="1173.9" cy="616.2" r="5.2"/>
<circle cx="1177.8" cy="614.7" r="5.2"/>
<circle cx="1182.0" cy="616.0" r="5.2"/>
<circle cx="1174.0" cy="619.9" r="5.2"/>
<circle cx="1178.5" cy="618.9" r="5.2"/>
<circle cx="1181.5" cy="619.2" r="5.2"/>
<circle cx="1291.9" cy="400.7" r="5.2"/>
<circle cx="1239.2" cy="424.3" r="5.2"/>
<circle cx="1272.5" cy="425.0" r="5.2"/>
<circle cx="1302.4" cy="484.0" r="5.2"/>
<circle cx="1339.9" cy="475.7" r="5.2"/>
<circle cx="1325.3" cy="476.4" r="5.2"/>
<circle cx="1364.2" cy="452.1" r="5.2"/>
<circle cx="1383.6" cy="473.6" r="5.2"/>
<circle cx="1444.0" cy="472.9" r="5.2"/>
<circle cx="1351.0" cy="489.6" r="5.2"/>
<circle cx="1268.3" cy="504.9" r="5.2"/>
<circle cx="1260.0" cy="511.1" r="5.2"/>
<circle cx="1266.9" cy="488.9" r="5.2"/>
<circle cx="1237.8" cy="500.0" r="5.2"/>
<circle cx="1286.4" cy="524.3" r="5.2"/>
<circle cx="1338.5" cy="520.8" r="5.2"/>
<circle cx="1376.7" cy="520.8" r="5.2"/>
<circle cx="1474.6" cy="534.7" r="5.2"/>
<circle cx="1269.7" cy="564.6" r="5.2"/>
<circle cx="1307.2" cy="573.6" r="5.2"/>
<circle cx="1285.0" cy="469.4" r="5.2"/>
<circle cx="1306.5" cy="577.1" r="5.2"/>
<circle cx="1360.7" cy="578.5" r="5.2"/>
<circle cx="1372.5" cy="580.6" r="5.2"/>
<circle cx="1398.9" cy="576.4" r="5.2"/>
<circle cx="1470.4" cy="588.2" r="5.2"/>
<circle cx="1465.6" cy="594.4" r="5.2"/>
<circle cx="1398.2" cy="602.1" r="5.2"/>
<circle cx="1407.9" cy="611.1" r="5.2"/>
<circle cx="1335.7" cy="588.9" r="5.2"/>
<circle cx="1335.7" cy="597.2" r="5.2"/>
<circle cx="1340.6" cy="608.3" r="5.2"/>
<circle cx="1340.6" cy="616.7" r="5.2"/>
<circle cx="1340.6" cy="620.8" r="5.2"/>
<circle cx="1353.1" cy="623.6" r="5.2"/>
<circle cx="1360.7" cy="627.1" r="5.2"/>
<circle cx="1344.7" cy="634.7" r="5.2"/>
<circle cx="1353.1" cy="636.1" r="5.2"/>
<circle cx="1379.4" cy="626.4" r="5.2"/>
<circle cx="1293.3" cy="637.5" r="5.2"/>
<circle cx="1251.0" cy="596.5" r="5.2"/>
<circle cx="1251.0" cy="602.8" r="5.2"/>
<circle cx="1251.0" cy="608.3" r="5.2"/>
<circle cx="1264.2" cy="609.7" r="5.2"/>
<circle cx="1273.9" cy="611.1" r="5.2"/>
<circle cx="1272.5" cy="619.4" r="5.2"/>
<circle cx="1284.3" cy="622.9" r="5.2"/>
<circle cx="1270.4" cy="629.9" r="5.2"/>
<circle cx="1264.2" cy="654.2" r="5.2"/>
<circle cx="1270.4" cy="659.7" r="5.2"/>
<circle cx="1318.3" cy="666.0" r="5.2"/>
<circle cx="1275.3" cy="694.4" r="5.2"/>
<circle cx="1298.9" cy="697.2" r="5.2"/>
<circle cx="1304.4" cy="694.4" r="5.2"/>
<circle cx="1301.7" cy="702.8" r="5.2"/>
<circle cx="1315.6" cy="701.4" r="5.2"/>
<circle cx="1321.1" cy="712.5" r="5.2"/>
<circle cx="1330.8" cy="718.1" r="5.2"/>
<circle cx="1396.8" cy="710.4" r="5.2"/>
<circle cx="1427.4" cy="655.6" r="5.2"/>
<circle cx="1446.1" cy="665.3" r="5.2"/>
<circle cx="1430.8" cy="628.5" r="5.2"/>
<circle cx="1416.9" cy="682.6" r="5.2"/>
<circle cx="1325.3" cy="733.3" r="5.2"/>
<circle cx="1325.3" cy="738.9" r="5.2"/>
<circle cx="1247.5" cy="750.7" r="5.2"/>
<circle cx="1271.1" cy="750.0" r="5.2"/>
<circle cx="1271.1" cy="756.9" r="5.2"/>
<circle cx="1271.8" cy="763.2" r="5.2"/>
<circle cx="1276.0" cy="773.6" r="5.2"/>
<circle cx="1273.9" cy="781.9" r="5.2"/>
<circle cx="1246.8" cy="765.3" r="5.2"/>
<circle cx="1246.8" cy="769.4" r="5.2"/>
<circle cx="1254.4" cy="786.1" r="5.2"/>
<circle cx="1254.4" cy="791.0" r="5.2"/>
<circle cx="1289.9" cy="792.4" r="5.2"/>
<circle cx="1516.9" cy="540.3" r="5.2"/>
<circle cx="1587.1" cy="609.7" r="5.2"/>
<circle cx="1490.6" cy="656.2" r="5.2"/>
<circle cx="1527.4" cy="713.9" r="5.2"/>
<circle cx="1527.4" cy="720.8" r="5.2"/>
<circle cx="287.1" cy="152.8" r="5.2"/>
<circle cx="265.6" cy="163.2" r="5.2"/>
<circle cx="285.0" cy="180.6" r="5.2"/>
<circle cx="289.9" cy="176.7" r="5.2"/>
<circle cx="321.8" cy="180.6" r="5.2"/>
<circle cx="369.7" cy="159.7" r="5.2"/>
<circle cx="387.8" cy="149.3" r="5.2"/>
<circle cx="369.7" cy="186.8" r="5.2"/>
<circle cx="396.8" cy="181.2" r="5.2"/>
<circle cx="418.3" cy="168.1" r="5.2"/>
<circle cx="437.8" cy="194.4" r="5.2"/>
<circle cx="453.1" cy="170.8" r="5.2"/>
<circle cx="457.2" cy="197.2" r="5.2"/>
<circle cx="476.7" cy="166.7" r="5.2"/>
<circle cx="478.8" cy="234.7" r="5.2"/>
<circle cx="352.4" cy="222.2" r="5.2"/>
<circle cx="320.4" cy="200.0" r="5.2"/>
<circle cx="263.5" cy="211.1" r="5.2"/>
<circle cx="285.7" cy="216.0" r="5.2"/>
<circle cx="290.6" cy="216.7" r="5.2"/>
<circle cx="269.0" cy="234.0" r="5.2"/>
<circle cx="282.9" cy="247.9" r="5.2"/>
<circle cx="311.4" cy="253.5" r="5.2"/>
<circle cx="364.9" cy="292.4" r="5.2"/>
<circle cx="302.4" cy="305.6" r="5.2"/>
<circle cx="360.7" cy="338.2" r="5.2"/>
<circle cx="256.5" cy="312.5" r="5.2"/>
<circle cx="506.5" cy="159.0" r="5.2"/>
<circle cx="499.6" cy="169.4" r="5.2"/>
<circle cx="517.6" cy="172.2" r="5.2"/>
<circle cx="505.1" cy="181.2" r="5.2"/>
<circle cx="539.2" cy="161.1" r="5.2"/>
<circle cx="601.0" cy="175.0" r="5.2"/>
<circle cx="601.7" cy="183.3" r="5.2"/>
<circle cx="637.1" cy="200.7" r="5.2"/>
<circle cx="644.7" cy="202.8" r="5.2"/>
<circle cx="711.4" cy="212.5" r="5.2"/>
<circle cx="690.6" cy="220.8" r="5.2"/>
<circle cx="691.9" cy="225.0" r="5.2"/>
<circle cx="694.0" cy="236.1" r="5.2"/>
<circle cx="587.8" cy="206.2" r="5.2"/>
<circle cx="587.8" cy="216.7" r="5.2"/>
<circle cx="564.2" cy="233.3" r="5.2"/>
<circle cx="553.1" cy="248.6" r="5.2"/>
<circle cx="726.7" cy="259.0" r="5.2"/>
<circle cx="623.9" cy="280.6" r="5.2"/>
<circle cx="707.2" cy="277.1" r="5.2"/>
<circle cx="611.4" cy="304.9" r="5.2"/>
<circle cx="634.3" cy="292.4" r="5.2"/>
<circle cx="652.4" cy="293.1" r="5.2"/>
<circle cx="671.1" cy="311.1" r="5.2"/>
<circle cx="671.1" cy="331.9" r="5.2"/>
<circle cx="705.1" cy="323.6" r="5.2"/>
<circle cx="716.2" cy="357.6" r="5.2"/>
<circle cx="711.4" cy="366.0" r="5.2"/>
<circle cx="731.5" cy="379.2" r="5.2"/>
<circle cx="520.4" cy="397.2" r="5.2"/>
<circle cx="565.6" cy="442.4" r="5.2"/>
<circle cx="739.9" cy="212.5" r="5.2"/>
<circle cx="739.2" cy="271.5" r="5.2"/>
<circle cx="798.2" cy="296.5" r="5.2"/>
<circle cx="834.3" cy="306.2" r="5.2"/>
<circle cx="748.2" cy="317.4" r="5.2"/>
<circle cx="744.7" cy="377.1" r="5.2"/>
<circle cx="752.4" cy="395.1" r="5.2"/>
<circle cx="839.2" cy="388.9" r="5.2"/>
<circle cx="760.7" cy="422.2" r="5.2"/>
<circle cx="768.3" cy="424.3" r="5.2"/>
<circle cx="845.4" cy="363.9" r="5.2"/>
<circle cx="855.8" cy="372.2" r="5.2"/>
<circle cx="865.6" cy="375.7" r="5.2"/>
<circle cx="857.9" cy="346.5" r="5.2"/>
<circle cx="864.9" cy="352.1" r="5.2"/>
<circle cx="876.7" cy="350.7" r="5.2"/>
<circle cx="882.2" cy="343.1" r="5.2"/>
<circle cx="889.2" cy="340.3" r="5.2"/>
<circle cx="889.9" cy="350.7" r="5.2"/>
<circle cx="903.8" cy="350.0" r="5.2"/>
<circle cx="903.8" cy="356.9" r="5.2"/>
<circle cx="903.8" cy="365.3" r="5.2"/>
<circle cx="921.1" cy="367.4" r="5.2"/>
<circle cx="894.7" cy="373.6" r="5.2"/>
<circle cx="901.7" cy="386.1" r="5.2"/>
<circle cx="901.7" cy="391.7" r="5.2"/>
<circle cx="883.6" cy="382.6" r="5.2"/>
<circle cx="912.1" cy="405.6" r="5.2"/>
<circle cx="924.6" cy="377.8" r="5.2"/>
<circle cx="929.4" cy="377.8" r="5.2"/>
<circle cx="935.0" cy="377.8" r="5.2"/>
<circle cx="928.1" cy="391.0" r="5.2"/>
<circle cx="866.2" cy="397.9" r="5.2"/>
<circle cx="961.4" cy="342.4" r="5.2"/>
<circle cx="980.8" cy="361.8" r="5.2"/>
<circle cx="982.2" cy="380.6" r="5.2"/>
<circle cx="962.8" cy="394.4" r="5.2"/>
<circle cx="973.9" cy="393.1" r="5.2"/>
<circle cx="979.4" cy="395.8" r="5.2"/>
<circle cx="976.7" cy="398.6" r="5.2"/>
<circle cx="946.8" cy="406.2" r="5.2"/>
<circle cx="946.8" cy="411.8" r="5.2"/>
<circle cx="938.5" cy="416.7" r="5.2"/>
<circle cx="971.1" cy="418.1" r="5.2"/>
<circle cx="982.2" cy="422.2" r="5.2"/>
<circle cx="978.1" cy="386.1" r="5.2"/>
<circle cx="787.1" cy="431.2" r="5.2"/>
<circle cx="794.0" cy="438.9" r="5.2"/>
<circle cx="806.5" cy="438.2" r="5.2"/>
<circle cx="748.2" cy="446.5" r="5.2"/>
<circle cx="835.7" cy="434.0" r="5.2"/>
<circle cx="864.2" cy="445.8" r="5.2"/>
<circle cx="870.4" cy="450.7" r="5.2"/>
<circle cx="948.9" cy="432.6" r="5.2"/>
<circle cx="957.2" cy="427.8" r="5.2"/>
<circle cx="964.2" cy="426.4" r="5.2"/>
<circle cx="971.1" cy="427.8" r="5.2"/>
<circle cx="980.8" cy="427.1" r="5.2"/>
<circle cx="957.2" cy="443.1" r="5.2"/>
<circle cx="964.2" cy="436.1" r="5.2"/>
<circle cx="976.7" cy="447.2" r="5.2"/>
<circle cx="979.4" cy="443.1" r="5.2"/>
<circle cx="894.0" cy="470.1" r="5.2"/>
<circle cx="918.3" cy="473.6" r="5.2"/>
<circle cx="918.3" cy="480.6" r="5.2"/>
<circle cx="918.3" cy="487.5" r="5.2"/>
<circle cx="928.1" cy="484.7" r="5.2"/>
<circle cx="894.0" cy="494.4" r="5.2"/>
<circle cx="944.0" cy="493.1" r="5.2"/>
<circle cx="919.7" cy="516.0" r="5.2"/>
<circle cx="965.6" cy="481.2" r="5.2"/>
<circle cx="971.1" cy="477.8" r="5.2"/>
<circle cx="976.7" cy="473.6" r="5.2"/>
<circle cx="979.4" cy="483.3" r="5.2"/>
<circle cx="975.3" cy="490.3" r="5.2"/>
<circle cx="980.8" cy="495.8" r="5.2"/>
<circle cx="962.1" cy="512.5" r="5.2"/>
<circle cx="962.1" cy="522.2" r="5.2"/>
<circle cx="961.4" cy="531.9" r="5.2"/>
<circle cx="974.6" cy="520.8" r="5.2"/>
<circle cx="982.2" cy="527.8" r="5.2"/>
<circle cx="972.5" cy="553.5" r="5.2"/>
<circle cx="983.6" cy="555.6" r="5.2"/>
<circle cx="983.6" cy="570.8" r="5.2"/>
<circle cx="830.8" cy="600.0" r="5.2"/>
<circle cx="830.8" cy="608.3" r="5.2"/>
<circle cx="820.4" cy="672.9" r="5.2"/>
<circle cx="804.4" cy="687.5" r="5.2"/>
<circle cx="812.1" cy="713.9" r="5.2"/>
<circle cx="801.7" cy="716.7" r="5.2"/>
<circle cx="857.2" cy="690.3" r="5.2"/>
<circle cx="928.8" cy="658.3" r="5.2"/>
<circle cx="941.9" cy="650.0" r="5.2"/>
<circle cx="946.8" cy="665.3" r="5.2"/>
<circle cx="952.4" cy="668.1" r="5.2"/>
<circle cx="942.6" cy="613.2" r="5.2"/>
<circle cx="983.6" cy="576.4" r="5.2"/>
<circle cx="978.1" cy="615.3" r="5.2"/>
<circle cx="977.4" cy="689.6" r="5.2"/>
<circle cx="995.4" cy="345.1" r="5.2"/>
<circle cx="1020.4" cy="354.2" r="5.2"/>
<circle cx="1032.2" cy="362.5" r="5.2"/>
<circle cx="1035.7" cy="370.8" r="5.2"/>
<circle cx="1034.3" cy="380.6" r="5.2"/>
<circle cx="1032.2" cy="376.4" r="5.2"/>
<circle cx="1010.0" cy="373.6" r="5.2"/>
<circle cx="986.4" cy="377.8" r="5.2"/>
<circle cx="1012.8" cy="386.1" r="5.2"/>
<circle cx="1020.4" cy="388.2" r="5.2"/>
<circle cx="998.9" cy="392.4" r="5.2"/>
<circle cx="987.8" cy="397.2" r="5.2"/>
<circle cx="1017.6" cy="405.6" r="5.2"/>
<circle cx="993.3" cy="410.4" r="5.2"/>
<circle cx="1018.3" cy="419.4" r="5.2"/>
<circle cx="1054.4" cy="398.6" r="5.2"/>
<circle cx="1061.4" cy="394.4" r="5.2"/>
<circle cx="1069.0" cy="402.1" r="5.2"/>
<circle cx="1047.5" cy="409.7" r="5.2"/>
<circle cx="1054.4" cy="411.1" r="5.2"/>
<circle cx="1061.4" cy="412.5" r="5.2"/>
<circle cx="1048.9" cy="419.4" r="5.2"/>
<circle cx="1060.0" cy="419.4" r="5.2"/>
<circle cx="1085.0" cy="397.2" r="5.2"/>
<circle cx="1082.2" cy="420.8" r="5.2"/>
<circle cx="1076.7" cy="422.2" r="5.2"/>
<circle cx="1099.6" cy="423.6" r="5.2"/>
<circle cx="1164.2" cy="422.2" r="5.2"/>
<circle cx="1218.3" cy="384.7" r="5.2"/>
<circle cx="1222.5" cy="399.3" r="5.2"/>
<circle cx="1219.7" cy="406.2" r="5.2"/>
<circle cx="1226.7" cy="408.3" r="5.2"/>
<circle cx="1230.8" cy="412.5" r="5.2"/>
<circle cx="987.1" cy="443.1" r="5.2"/>
<circle cx="989.2" cy="458.3" r="5.2"/>
<circle cx="1039.9" cy="456.2" r="5.2"/>
<circle cx="1053.8" cy="466.0" r="5.2"/>
<circle cx="1020.4" cy="500.0" r="5.2"/>
<circle cx="1011.4" cy="525.7" r="5.2"/>
<circle cx="1009.3" cy="545.8" r="5.2"/>
<circle cx="1018.3" cy="560.4" r="5.2"/>
<circle cx="1137.1" cy="470.8" r="5.2"/>
<circle cx="1190.6" cy="454.2" r="5.2"/>
<circle cx="1201.7" cy="452.8" r="5.2"/>
<circle cx="1226.7" cy="500.0" r="5.2"/>
<circle cx="1230.1" cy="472.2" r="5.2"/>
<circle cx="1186.4" cy="569.4" r="5.2"/>
<circle cx="1075.3" cy="572.2" r="5.2"/>
<circle cx="1007.2" cy="487.5" r="5.2"/>
<circle cx="989.2" cy="488.9" r="5.2"/>
<circle cx="989.2" cy="508.3" r="5.2"/>
<circle cx="987.8" cy="522.2" r="5.2"/>
<circle cx="1079.4" cy="491.7" r="5.2"/>
<circle cx="1097.5" cy="494.4" r="5.2"/>
<circle cx="1114.2" cy="506.9" r="5.2"/>
<circle cx="1192.6" cy="520.8" r="5.2"/>
<circle cx="1193.3" cy="506.9" r="5.2"/>
<circle cx="1100.3" cy="427.8" r="5.2"/>
<circle cx="1185.0" cy="445.1" r="5.2"/>
<circle cx="987.8" cy="563.9" r="5.2"/>
<circle cx="1233.6" cy="458.3" r="5.2"/>
<circle cx="1098.2" cy="606.9" r="5.2"/>
<circle cx="1108.6" cy="585.4" r="5.2"/>
<circle cx="1114.9" cy="596.5" r="5.2"/>
<circle cx="1048.2" cy="623.6" r="5.2"/>
<circle cx="1048.2" cy="629.2" r="5.2"/>
<circle cx="1048.9" cy="637.5" r="5.2"/>
<circle cx="1049.6" cy="643.1" r="5.2"/>
<circle cx="1061.4" cy="643.8" r="5.2"/>
<circle cx="1089.9" cy="637.5" r="5.2"/>
<circle cx="1090.6" cy="643.1" r="5.2"/>
<circle cx="1060.7" cy="660.4" r="5.2"/>
<circle cx="1080.8" cy="661.1" r="5.2"/>
<circle cx="1086.4" cy="659.7" r="5.2"/>
<circle cx="1094.7" cy="665.3" r="5.2"/>
<circle cx="1094.7" cy="672.2" r="5.2"/>
<circle cx="1094.7" cy="679.2" r="5.2"/>
<circle cx="1073.9" cy="680.6" r="5.2"/>
<circle cx="1075.3" cy="686.1" r="5.2"/>
<circle cx="1216.9" cy="588.2" r="5.2"/>
<circle cx="1193.3" cy="598.6" r="5.2"/>
<circle cx="1193.3" cy="606.2" r="5.2"/>
<circle cx="1193.3" cy="613.9" r="5.2"/>
<circle cx="1164.2" cy="608.3" r="5.2"/>
<circle cx="1164.2" cy="612.5" r="5.2"/>
<circle cx="1216.2" cy="612.5" r="5.2"/>
<circle cx="1179.4" cy="643.1" r="5.2"/>
<circle cx="1218.3" cy="652.8" r="5.2"/>
<circle cx="1225.3" cy="645.8" r="5.2"/>
<circle cx="1216.2" cy="684.0" r="5.2"/>
<circle cx="1176.7" cy="681.2" r="5.2"/>
<circle cx="1155.1" cy="684.7" r="5.2"/>
<circle cx="1197.5" cy="691.7" r="5.2"/>
<circle cx="1197.5" cy="697.2" r="5.2"/>
<circle cx="1164.2" cy="697.2" r="5.2"/>
<circle cx="1189.9" cy="710.4" r="5.2"/>
<circle cx="1171.1" cy="719.4" r="5.2"/>
<circle cx="1229.4" cy="720.1" r="5.2"/>
<circle cx="1090.6" cy="747.2" r="5.2"/>
<circle cx="1108.6" cy="750.7" r="5.2"/>
<circle cx="1117.6" cy="736.1" r="5.2"/>
<circle cx="1123.9" cy="767.4" r="5.2"/>
<circle cx="1136.4" cy="743.8" r="5.2"/>
<circle cx="1139.2" cy="747.9" r="5.2"/>
<circle cx="1146.1" cy="759.0" r="5.2"/>
<circle cx="1148.9" cy="773.6" r="5.2"/>
<circle cx="1157.9" cy="734.0" r="5.2"/>
<circle cx="1172.5" cy="733.3" r="5.2"/>
<circle cx="1165.6" cy="762.5" r="5.2"/>
<circle cx="1160.0" cy="766.7" r="5.2"/>
<circle cx="1185.0" cy="750.0" r="5.2"/>
<circle cx="1198.9" cy="747.2" r="5.2"/>
<circle cx="1214.2" cy="756.9" r="5.2"/>
<circle cx="1215.6" cy="761.1" r="5.2"/>
<circle cx="1197.5" cy="768.8" r="5.2"/>
<circle cx="1207.9" cy="770.8" r="5.2"/>
<circle cx="1208.6" cy="775.0" r="5.2"/>
<circle cx="1223.9" cy="768.8" r="5.2"/>
<circle cx="1222.5" cy="794.4" r="5.2"/>
<circle cx="1226.7" cy="725.0" r="5.2"/>
<circle cx="1466.2" cy="987.1" r="5.2"/>
</g>
<path d="M244.6 198.0 L254.4 197.3 L264.2 196.8 L274.0 196.4 L283.8 196.2 L293.6 196.2 L303.3 196.3 L313.1 196.6 L322.9 197.0 L332.7 197.6 L342.5 198.3 L352.3 199.1 L362.1 200.2 L371.9 201.3 L381.7 202.6 L391.5 204.0 L401.3 205.6 L411.1 207.3 L420.8 209.1 L430.6 211.0 L440.4 213.1 L450.2 215.3 L460.0 217.6 L469.8 220.0 L479.6 222.5 L489.4 225.2 L499.2 227.9 L509.0 230.8 L518.8 233.7 L528.5 236.8 L538.3 240.0 L548.1 243.2 L557.9 246.6 L567.7 250.0 L577.5 253.6 L587.3 257.2 L597.1 261.0 L606.9 264.9 L616.7 268.9 L626.5 273.0 L636.3 277.4 L646.0 281.9 L655.8 286.6 L665.6 291.5 L675.4 296.6 L685.2 301.9 L695.0 307.5 L704.8 313.2 L714.6 319.1 L724.4 325.1 L734.2 331.2 L744.0 337.5 L753.7 343.8 L763.5 350.3 L773.3 356.8 L783.1 363.3 L792.9 369.8 L802.7 376.2 L812.5 382.6 L822.3 388.8 L832.1 394.9 L841.9 400.8 L851.7 406.4 L861.5 411.8 L871.2 416.9 L881.0 421.7 L890.8 426.3 L900.6 430.7 L910.4 435.0 L920.2 439.0 L930.0 443.0 L939.8 446.9 L949.6 450.8 L959.4 454.6 L969.2 458.5 L978.9 462.4 L988.7 466.4 L998.5 470.5 L1008.3 474.8 L1018.1 479.3 L1027.9 484.0 L1037.7 489.0 L1047.5 494.1 L1057.3 499.3 L1067.1 504.5 L1076.9 509.6 L1086.6 514.6 L1096.4 519.4 L1106.2 523.8 L1116.0 527.9 L1125.8 531.5 L1135.6 534.7 L1145.4 537.4 L1155.2 539.8 L1165.0 541.9 L1174.8 543.7 L1184.6 545.2 L1194.4 546.6 L1204.1 547.7 L1213.9 548.7 L1223.7 549.6 L1233.5 550.5 L1243.3 551.3 L1253.1 552.2 L1262.9 553.0 L1272.7 554.0 L1282.5 555.2 L1292.3 556.4 L1302.1 557.9 L1311.8 559.5 L1321.6 561.3 L1331.4 563.2 L1341.2 565.3 L1351.0 567.5 L1360.8 569.9 L1370.6 572.5 L1380.4 575.1 L1390.2 578.0 L1400.0 581.0 L1409.8 584.1 L1419.6 587.3 L1429.3 590.7 L1439.1 594.2 L1448.9 597.9 L1458.7 601.6 L1468.5 605.5 L1478.3 609.6 L1488.1 613.7 L1497.9 618.0 L1507.7 622.3 L1517.5 626.8 L1527.3 631.4 L1537.0 636.1 L1546.8 640.9 L1556.6 645.8 L1566.4 650.7 L1576.2 655.8 L1586.0 660.9 L1595.8 666.1 L1605.6 671.3 L1615.4 676.7 L1625.2 682.0 L1635.0 687.4 L1644.8 692.9 L1654.5 698.4 L1664.3 703.9 L1674.1 709.4 L1683.9 715.0 L1693.7 720.5 L1703.5 726.1" fill="none" stroke="#3366ff" stroke-width="8.4" stroke-linejoin="round" stroke-linecap="butt"/>
</g>
<rect x="173" y="97" width="1603" height="961" fill="none" stroke="#222" stroke-width="2.2"/>
<line x1="160.5" y1="237.20" x2="172" y2="237.20" stroke="#333" stroke-width="4.4"/>
<line x1="160.5" y1="488.30" x2="172" y2="488.30" stroke="#333" stroke-width="4.4"/>
<line x1="160.5" y1="739.40" x2="172" y2="739.40" stroke="#333" stroke-width="4.4"/>
<line x1="160.5" y1="990.50" x2="172" y2="990.50" stroke="#333" stroke-width="4.4"/>
<line x1="244.00" y1="1059" x2="244.00" y2="1070.7" stroke="#333" stroke-width="4.4"/>
<line x1="632.20" y1="1059" x2="632.20" y2="1070.7" stroke="#333" stroke-width="4.4"/>
<line x1="1020.40" y1="1059" x2="1020.40" y2="1070.7" stroke="#333" stroke-width="4.4"/>
<line x1="1408.60" y1="1059" x2="1408.60" y2="1070.7" stroke="#333" stroke-width="4.4"/>
<text x="151.3" y="248.40" font-size="33.3" fill="#000" text-anchor="end">20</text>
<text x="151.3" y="499.50" font-size="33.3" fill="#000" text-anchor="end">0</text>
<text x="151.3" y="750.60" font-size="33.3" fill="#000" text-anchor="end">-20</text>
<text x="151.3" y="1001.70" font-size="33.3" fill="#000" text-anchor="end">-40</text>
<text x="244.00" y="1101.7" font-size="33.3" fill="#000" text-anchor="middle">0</text>
<text x="632.20" y="1101.7" font-size="33.3" fill="#000" text-anchor="middle">20</text>
<text x="1020.40" y="1101.7" font-size="33.3" fill="#000" text-anchor="middle">40</text>
<text x="1408.60" y="1101.7" font-size="33.3" fill="#000" text-anchor="middle">60</text>
<text x="974.6" y="1169" font-size="41.3" letter-spacing="0.24" fill="#111" text-anchor="middle">abs(Latitude)</text>
<text transform="translate(49.75,577) rotate(-90)" x="0" y="0" font-size="41.3" letter-spacing="0.24" fill="#111" text-anchor="middle">Winter temp (C, 25km)</text>
<text x="172" y="60.7" font-size="58" letter-spacing="0.2" font-weight="bold" fill="#1a1a1a">Latitude vs Winter Temperature</text>
</svg></body></html>
